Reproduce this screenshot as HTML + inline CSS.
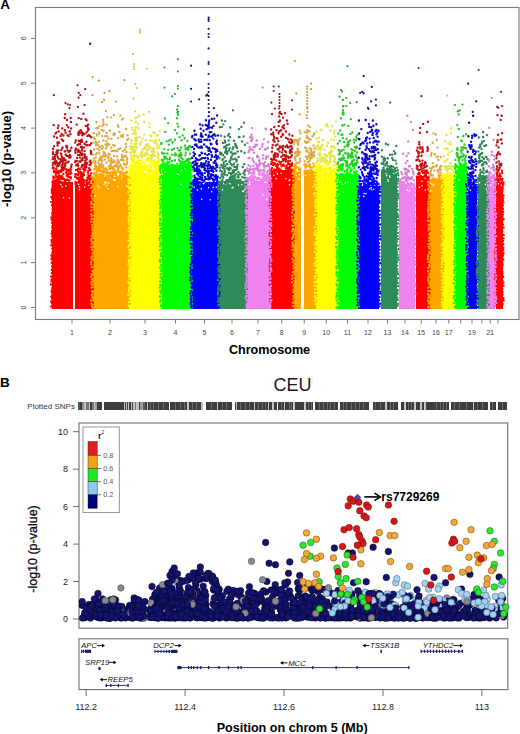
<!DOCTYPE html>
<html><head><meta charset="utf-8"><style>
html,body{margin:0;padding:0;background:#fff;width:520px;height:734px;overflow:hidden}
svg{display:block}
text{font-family:"Liberation Sans",sans-serif}
</style></head><body>
<svg width="520" height="734" viewBox="0 0 520 734">
<circle cx="90.2" cy="43.8" r="1.2" fill="#3a1830"/>
<g shape-rendering="crispEdges">
<rect x="52.00" y="181.5" width="20.50" height="127.1" fill="#ff0000"/>
<rect x="74.50" y="181.5" width="17.50" height="127.1" fill="#ff0000"/>
<rect x="92.00" y="177.0" width="37.25" height="131.6" fill="#ffa500"/>
<rect x="129.25" y="166.0" width="31.25" height="142.6" fill="#ffff00"/>
<rect x="160.50" y="165.0" width="30.75" height="143.6" fill="#00ff00"/>
<rect x="191.25" y="182.0" width="27.50" height="126.6" fill="#0000ff"/>
<rect x="218.75" y="181.0" width="27.50" height="127.6" fill="#2e8b57"/>
<rect x="246.25" y="177.0" width="24.25" height="131.6" fill="#ee82ee"/>
<rect x="270.50" y="170.0" width="22.50" height="138.6" fill="#ff0000"/>
<rect x="293.00" y="172.0" width="8.25" height="136.6" fill="#ffa500"/>
<rect x="303.75" y="172.0" width="11.75" height="136.6" fill="#ffa500"/>
<rect x="315.50" y="168.0" width="21.50" height="140.6" fill="#ffff00"/>
<rect x="337.00" y="174.0" width="21.00" height="134.6" fill="#00ff00"/>
<rect x="358.00" y="186.0" width="21.30" height="122.6" fill="#0000ff"/>
<rect x="380.80" y="170.0" width="16.60" height="138.6" fill="#2e8b57"/>
<rect x="398.90" y="184.0" width="15.60" height="124.6" fill="#ee82ee"/>
<rect x="415.70" y="176.0" width="13.05" height="132.6" fill="#ff0000"/>
<rect x="428.75" y="180.0" width="13.75" height="128.6" fill="#ffa500"/>
<rect x="442.50" y="175.0" width="12.20" height="133.6" fill="#ffff00"/>
<rect x="454.70" y="166.0" width="12.30" height="142.6" fill="#00ff00"/>
<rect x="467.00" y="184.0" width="10.00" height="124.6" fill="#0000ff"/>
<rect x="477.60" y="178.0" width="10.40" height="130.6" fill="#2e8b57"/>
<rect x="488.00" y="176.0" width="7.40" height="132.6" fill="#ee82ee"/>
<rect x="495.70" y="178.0" width="7.00" height="130.6" fill="#ff0000"/>
</g>
<path d="M69.0 183.9h0M60.7 184.5h0M69.4 198.1h0M55.8 183.3h0M57.3 183.6h0M62.0 186.7h0M57.9 182.3h0M60.8 184.6h0M63.5 197.6h0M65.8 185.9h0M88.9 185.3h0M79.5 189.8h0M90.2 182.9h0M84.7 187.1h0M78.9 184.6h0M77.7 183.4h0M79.5 186.9h0M85.6 183.4h0M121.8 178.2h0M104.0 184.3h0M98.9 187.7h0M110.1 178.1h0M106.0 182.1h0M108.5 183.4h0M98.1 185.8h0M105.8 183.0h0M115.2 180.5h0M106.6 185.5h0M126.3 185.5h0M113.0 179.5h0M95.1 196.0h0M117.8 186.6h0M104.7 182.5h0M127.5 186.7h0M114.2 179.6h0M108.1 188.8h0M134.8 167.6h0M152.7 167.3h0M154.1 169.6h0M146.0 171.2h0M146.5 172.2h0M147.8 168.8h0M151.9 168.3h0M151.1 174.0h0M152.9 168.6h0M152.8 185.7h0M143.5 168.4h0M145.6 180.9h0M134.1 166.8h0M144.2 172.1h0M152.9 169.1h0M165.3 171.9h0M181.7 170.5h0M169.4 166.1h0M178.8 174.5h0M169.3 167.0h0M167.9 166.3h0M180.9 184.2h0M184.6 168.0h0M181.6 166.2h0M185.6 167.8h0M161.6 170.8h0M165.5 167.4h0M163.2 168.8h0M177.5 174.0h0M162.6 174.6h0M194.2 187.2h0M216.3 187.1h0M201.3 188.9h0M203.4 183.8h0M204.5 182.9h0M209.5 183.7h0M201.7 199.2h0M211.8 191.8h0M208.6 187.8h0M210.2 199.8h0M197.3 190.1h0M199.9 184.3h0M213.2 187.4h0M233.1 187.3h0M244.4 190.0h0M225.6 183.9h0M222.5 189.7h0M238.5 185.1h0M229.2 183.4h0M232.2 188.0h0M242.6 191.2h0M241.9 184.7h0M230.5 183.7h0M244.6 182.8h0M223.8 183.4h0M243.3 191.4h0M262.8 194.7h0M265.9 182.2h0M260.2 177.9h0M255.8 179.3h0M261.1 178.1h0M259.3 180.2h0M258.2 180.4h0M249.5 184.4h0M265.1 182.4h0M249.8 182.4h0M266.6 199.4h0M264.1 178.0h0M276.4 170.9h0M289.4 184.8h0M277.4 173.9h0M278.1 171.1h0M289.8 179.9h0M276.4 172.3h0M285.8 178.8h0M281.1 173.3h0M276.3 178.8h0M289.2 180.6h0M273.8 175.3h0M296.1 175.5h0M298.7 178.9h0M299.5 174.7h0M299.3 179.5h0M310.0 174.6h0M312.9 186.8h0M313.7 193.8h0M305.4 175.3h0M309.1 174.3h0M332.8 168.9h0M319.0 187.4h0M333.5 173.6h0M328.6 171.7h0M324.8 169.6h0M327.2 170.4h0M318.9 179.0h0M327.7 179.2h0M322.2 173.1h0M321.9 177.7h0M343.4 192.5h0M341.0 175.6h0M345.2 183.0h0M339.9 182.6h0M348.3 182.8h0M344.4 175.0h0M339.9 181.2h0M347.6 182.0h0M341.8 176.4h0M342.0 184.3h0M363.8 196.4h0M371.4 189.8h0M371.4 187.8h0M359.1 189.0h0M370.1 187.8h0M369.5 188.8h0M364.1 193.5h0M366.0 193.6h0M373.5 189.2h0M359.6 196.1h0M393.7 173.5h0M388.3 181.3h0M386.1 173.8h0M396.1 172.6h0M389.7 176.0h0M386.7 175.8h0M388.0 179.7h0M389.9 177.3h0M407.6 186.5h0M412.3 186.3h0M404.0 185.9h0M409.4 190.7h0M404.9 185.4h0M408.0 186.9h0M407.4 190.1h0M419.3 187.2h0M425.3 190.3h0M425.3 177.9h0M422.1 185.8h0M425.6 178.1h0M422.0 181.2h0M433.0 185.6h0M430.5 190.9h0M434.8 181.8h0M430.9 184.5h0M433.9 184.3h0M431.0 183.0h0M447.8 178.4h0M451.1 185.9h0M453.7 179.1h0M447.8 184.5h0M447.8 176.9h0M448.4 177.6h0M465.6 168.2h0M462.6 168.0h0M456.9 168.9h0M465.4 168.5h0M458.9 179.9h0M465.8 173.9h0M470.2 185.7h0M468.6 188.7h0M472.2 185.8h0M472.2 185.2h0M470.4 190.3h0M479.3 182.6h0M479.7 182.6h0M485.5 184.4h0M482.5 179.7h0M486.4 189.1h0M491.0 185.3h0M492.6 179.7h0M492.6 182.5h0M501.4 185.4h0M498.5 183.8h0M500.5 180.9h0" stroke="#fff" stroke-width="1.6" stroke-linecap="round" fill="none"/>
<path d="M52.4 182.1h0M52.5 185.4h0M52.1 188.4h0M51.8 190.3h0M51.9 192.2h0M52.5 194.1h0M51.4 196.9h0M52.3 198.9h0M51.2 202.1h0M52.0 205.2h0M52.5 209.1h0M52.2 212.8h0M52.4 214.9h0M51.4 217.4h0M51.7 219.6h0M52.0 222.8h0M52.5 225.8h0M52.3 227.8h0M52.0 231.0h0M51.7 233.5h0M52.2 236.3h0M51.6 239.9h0M51.7 242.2h0M51.3 245.2h0M52.2 248.6h0M52.4 252.5h0M51.5 255.3h0M51.9 257.4h0M51.6 259.3h0M51.7 262.8h0M52.1 266.5h0M51.7 269.8h0M51.9 272.9h0M51.2 276.5h0M51.6 279.4h0M51.5 281.3h0M51.1 284.5h0M52.2 288.1h0M51.6 290.8h0M51.9 292.6h0M52.4 294.8h0M51.4 296.7h0M52.2 298.8h0M51.3 301.5h0M51.9 303.5h0M51.3 306.5h0M62.6 170.2h0M53.2 182.3h0M58.0 172.4h0M59.6 171.1h0M57.0 176.7h0M61.8 176.2h0M67.8 169.6h0M55.1 177.4h0M63.2 179.0h0M57.5 170.7h0M56.1 183.6h0M68.0 176.4h0M63.3 170.4h0M67.7 179.8h0M63.4 174.1h0M54.0 172.0h0M68.7 176.9h0M59.1 172.7h0M54.6 170.6h0M66.1 180.5h0M69.1 180.8h0M70.5 168.8h0M57.2 179.4h0M55.7 181.7h0M56.5 171.7h0M62.3 177.7h0M59.3 182.8h0M57.4 183.2h0M70.6 178.4h0M59.3 180.9h0M55.1 180.9h0M66.9 173.4h0M55.8 180.3h0M58.0 172.4h0M52.7 168.0h0M53.4 182.6h0M58.5 172.9h0M65.0 181.8h0M66.0 172.4h0M53.2 176.6h0M59.6 178.1h0M65.3 180.8h0M66.8 173.6h0M54.0 170.6h0M66.7 175.7h0M62.1 168.9h0M65.0 180.3h0M55.4 172.3h0M66.9 171.0h0M63.6 183.3h0M53.8 168.0h0M65.6 168.9h0M61.6 178.9h0M69.8 174.2h0M61.3 171.7h0M63.8 178.6h0M53.1 183.6h0M58.4 177.5h0M68.8 183.7h0M64.0 168.6h0M60.9 170.3h0M53.5 178.3h0M68.7 170.7h0M70.7 170.0h0M56.3 168.7h0M58.1 181.7h0M70.5 177.2h0M60.2 176.1h0M55.7 174.7h0M61.3 177.9h0M56.3 180.7h0M59.2 178.9h0M57.2 172.5h0M62.7 169.2h0M59.1 180.5h0M57.8 173.0h0M53.0 182.1h0M63.9 183.7h0M57.4 179.4h0M63.2 182.4h0M67.7 174.5h0M58.5 178.1h0M66.1 179.6h0M57.1 173.0h0M70.5 171.4h0M62.3 176.7h0M68.4 173.5h0M62.2 177.4h0M55.3 181.7h0M59.0 175.4h0M55.9 183.6h0M71.0 177.8h0M71.2 173.2h0M60.9 181.6h0M70.3 173.5h0M53.3 180.5h0M70.4 169.5h0M92.8 182.0h0M91.8 185.2h0M91.9 188.6h0M91.4 191.0h0M92.8 194.4h0M92.8 197.6h0M91.8 199.5h0M92.8 202.3h0M92.0 206.2h0M92.0 208.6h0M92.8 211.5h0M92.6 213.7h0M92.6 217.1h0M92.3 220.6h0M91.9 223.1h0M92.6 225.7h0M91.7 227.7h0M91.8 231.2h0M91.5 233.1h0M91.9 236.1h0M92.7 240.1h0M91.8 244.0h0M91.5 246.0h0M92.5 248.9h0M91.8 251.7h0M92.3 254.4h0M92.5 257.7h0M92.4 261.4h0M92.7 263.4h0M92.3 265.9h0M92.5 268.5h0M91.8 270.7h0M91.6 273.1h0M92.3 276.8h0M92.0 279.3h0M92.2 283.3h0M92.6 285.6h0M92.9 288.9h0M92.1 290.9h0M92.7 294.5h0M91.5 298.3h0M91.6 300.8h0M92.9 303.0h0M92.8 306.1h0M90.9 173.4h0M88.5 174.9h0M87.9 172.5h0M78.1 171.4h0M81.4 179.8h0M87.4 182.4h0M88.8 177.4h0M85.3 170.3h0M83.1 175.4h0M76.8 178.0h0M82.1 180.6h0M83.4 182.0h0M83.3 169.1h0M90.6 176.9h0M87.4 177.8h0M88.4 176.8h0M80.3 182.2h0M78.1 174.9h0M82.3 177.4h0M87.2 182.1h0M88.5 170.7h0M80.2 183.7h0M75.7 176.8h0M75.5 183.7h0M80.9 180.4h0M80.9 176.1h0M82.8 179.3h0M77.5 178.7h0M81.7 173.7h0M84.3 168.2h0M89.8 180.6h0M79.0 181.3h0M87.8 183.2h0M77.4 174.4h0M80.1 169.4h0M86.8 183.5h0M78.8 179.2h0M78.9 182.1h0M83.6 172.7h0M79.3 172.8h0M84.4 170.5h0M77.5 182.6h0M80.7 179.1h0M75.6 181.9h0M90.5 176.0h0M78.5 177.8h0M79.8 179.5h0M75.4 174.2h0M81.1 172.1h0M83.9 175.0h0M89.2 178.9h0M88.5 175.4h0M75.1 176.5h0M83.2 180.1h0M85.5 180.6h0M85.3 167.6h0M89.6 177.5h0M89.6 182.0h0M78.5 168.5h0M80.4 177.0h0M77.6 169.5h0M87.0 180.1h0M90.8 178.7h0M76.8 174.1h0M81.4 182.7h0M82.0 175.3h0M90.3 169.8h0M83.6 179.9h0M87.5 177.9h0M76.0 170.0h0M81.6 183.3h0M79.4 173.4h0M78.6 178.1h0M89.0 168.1h0M81.2 175.0h0M82.0 177.0h0M79.7 172.5h0M270.0 171.5h0M269.7 174.1h0M270.3 177.6h0M270.6 180.5h0M269.8 182.6h0M271.0 185.7h0M269.8 189.6h0M270.0 191.4h0M270.3 193.8h0M270.6 197.4h0M270.1 200.3h0M270.2 202.5h0M269.6 205.2h0M270.0 207.5h0M270.7 209.4h0M270.9 211.4h0M270.8 214.4h0M271.0 217.9h0M269.8 221.1h0M270.8 223.2h0M270.4 226.7h0M270.6 230.5h0M269.7 233.2h0M269.7 235.7h0M270.8 239.5h0M269.7 242.5h0M269.8 244.6h0M270.0 248.1h0M271.0 251.2h0M270.9 255.1h0M270.0 258.6h0M270.1 261.1h0M270.0 263.8h0M269.7 265.7h0M269.9 268.4h0M269.9 271.2h0M270.3 273.7h0M270.4 275.5h0M269.8 277.5h0M270.5 280.8h0M269.7 284.7h0M271.0 288.6h0M270.0 292.0h0M271.1 295.1h0M270.4 298.9h0M269.9 302.0h0M271.1 304.5h0M292.5 170.5h0M293.9 172.6h0M292.7 176.1h0M293.7 178.2h0M293.3 181.5h0M293.0 183.5h0M292.4 187.4h0M292.5 190.1h0M292.6 194.1h0M293.7 198.0h0M292.5 201.5h0M293.1 204.8h0M292.6 207.7h0M293.6 210.6h0M293.7 212.7h0M292.8 215.4h0M293.1 217.7h0M293.3 221.0h0M293.2 224.7h0M293.9 227.6h0M292.4 229.9h0M292.9 232.4h0M293.0 234.5h0M293.8 236.4h0M293.7 239.2h0M293.5 242.6h0M292.9 246.1h0M292.7 249.5h0M293.3 252.5h0M292.7 256.0h0M293.6 258.5h0M293.9 262.1h0M292.7 264.2h0M293.5 266.2h0M293.4 269.6h0M293.2 273.2h0M293.8 276.2h0M293.4 279.4h0M293.1 282.5h0M293.3 286.0h0M293.0 288.1h0M293.0 290.8h0M292.9 293.8h0M293.0 296.5h0M293.9 299.1h0M292.4 301.1h0M293.0 304.5h0M293.3 307.3h0M290.7 166.5h0M276.9 168.5h0M290.0 164.2h0M282.3 165.1h0M280.3 170.0h0M276.6 166.2h0M278.1 165.1h0M277.3 163.9h0M273.5 170.8h0M274.6 163.1h0M280.3 163.5h0M278.4 171.1h0M292.0 165.5h0M289.2 170.0h0M290.0 165.9h0M273.2 165.1h0M285.6 161.5h0M276.9 169.9h0M292.1 171.2h0M290.9 166.6h0M274.8 163.7h0M277.9 168.4h0M288.0 161.3h0M277.9 168.7h0M273.6 162.9h0M289.9 165.4h0M279.0 161.6h0M288.4 163.6h0M277.6 170.0h0M290.9 171.2h0M271.3 164.0h0M287.7 168.8h0M288.1 162.9h0M291.6 172.1h0M288.6 163.9h0M272.1 167.9h0M278.0 164.7h0M280.6 169.7h0M288.7 170.8h0M275.8 165.5h0M271.6 161.8h0M281.0 161.9h0M284.2 165.9h0M281.5 166.3h0M292.1 169.6h0M290.5 165.0h0M277.6 167.4h0M288.7 171.1h0M276.5 171.5h0M291.3 166.1h0M289.8 166.9h0M288.6 171.9h0M283.5 164.4h0M274.2 169.7h0M289.4 171.8h0M271.2 169.3h0M286.3 167.6h0M289.9 168.8h0M278.9 171.8h0M280.3 163.7h0M275.6 170.1h0M285.9 168.5h0M292.1 163.3h0M288.1 168.0h0M279.0 168.8h0M286.8 165.4h0M271.1 170.0h0M428.8 177.4h0M429.1 180.4h0M428.2 182.3h0M429.5 185.3h0M428.8 188.6h0M428.3 191.0h0M429.3 194.2h0M428.3 196.9h0M429.2 199.3h0M428.8 202.8h0M428.7 206.5h0M428.5 208.4h0M429.2 212.1h0M428.6 214.1h0M428.9 216.8h0M429.5 218.7h0M428.5 221.6h0M429.0 223.5h0M429.2 227.3h0M429.5 231.0h0M428.2 234.3h0M429.0 236.8h0M428.5 239.5h0M429.4 241.4h0M428.6 244.7h0M429.5 247.5h0M429.1 249.7h0M429.5 252.0h0M429.6 255.5h0M428.9 258.2h0M428.7 260.7h0M429.6 264.6h0M429.5 268.6h0M429.1 271.4h0M428.8 275.2h0M429.3 279.1h0M428.7 281.5h0M428.4 284.8h0M428.4 287.2h0M429.5 289.2h0M429.4 293.2h0M429.3 296.1h0M428.8 299.4h0M428.3 302.4h0M428.7 304.7h0M429.1 307.3h0M423.0 172.9h0M426.9 171.8h0M418.1 174.0h0M425.8 174.2h0M421.9 171.3h0M418.8 172.8h0M424.5 173.1h0M419.0 174.5h0M425.6 172.4h0M420.8 176.0h0M425.9 175.8h0M424.9 170.7h0M419.8 173.1h0M424.2 170.7h0M427.9 172.7h0M424.5 171.6h0M426.5 172.8h0M416.9 176.6h0M425.6 175.3h0M424.7 171.5h0M419.5 173.4h0M426.7 170.4h0M424.3 175.9h0M427.1 178.2h0M425.8 176.7h0M425.6 175.4h0M422.6 177.8h0M495.3 178.2h0M495.9 180.1h0M496.3 183.2h0M495.1 185.8h0M495.7 189.2h0M495.2 191.3h0M496.2 195.0h0M495.5 197.8h0M496.0 201.1h0M495.4 204.7h0M494.9 208.3h0M495.3 211.6h0M495.9 214.0h0M495.1 216.6h0M495.9 219.8h0M495.5 223.5h0M495.3 227.5h0M495.8 230.9h0M495.6 234.9h0M495.7 238.2h0M496.0 241.1h0M495.7 243.7h0M496.1 247.2h0M495.3 249.4h0M495.0 252.2h0M495.6 254.1h0M495.2 257.7h0M495.5 260.3h0M496.3 263.0h0M496.0 264.9h0M496.0 268.7h0M495.5 271.1h0M495.3 274.4h0M495.8 276.9h0M495.1 278.7h0M495.9 281.4h0M495.6 283.6h0M495.8 285.7h0M496.0 287.8h0M495.8 290.7h0M495.0 292.8h0M495.7 294.7h0M496.2 297.2h0M495.6 299.6h0M495.9 302.9h0M494.9 305.6h0M502.4 178.9h0M503.5 182.4h0M503.4 184.7h0M502.8 187.4h0M502.5 189.2h0M502.4 191.6h0M503.5 195.2h0M503.3 197.7h0M503.0 200.1h0M503.5 202.4h0M503.0 205.3h0M502.9 208.8h0M503.2 211.7h0M503.0 214.6h0M502.3 217.0h0M503.6 219.3h0M502.1 222.4h0M503.0 224.6h0M503.6 227.6h0M502.2 231.3h0M503.6 234.9h0M503.5 238.4h0M503.0 241.0h0M503.3 244.3h0M503.3 247.7h0M503.3 250.2h0M503.5 253.3h0M503.0 255.8h0M503.2 259.5h0M502.3 262.9h0M502.6 265.0h0M502.1 268.2h0M502.3 271.5h0M502.5 273.7h0M503.2 276.7h0M502.4 280.6h0M503.4 282.6h0M503.5 285.7h0M502.3 289.1h0M502.4 291.7h0M502.5 294.5h0M503.4 298.2h0M503.6 300.4h0M502.7 304.3h0M497.1 172.5h0M497.6 170.2h0M499.6 173.5h0M500.8 176.3h0M497.2 175.3h0M499.8 175.1h0M497.2 174.8h0M496.5 173.2h0M500.1 179.7h0M501.9 170.7h0M498.1 170.9h0M496.7 173.3h0M497.6 170.8h0M500.5 179.0h0M496.8 178.1h0M497.3 176.5h0M496.8 178.2h0M500.4 178.8h0M500.5 179.0h0M502.1 173.1h0M499.0 176.4h0" stroke="#ff0000" stroke-width="2.4" stroke-linecap="round" fill="none"/>
<path d="M91.4 177.1h0M91.4 180.9h0M91.4 183.0h0M92.6 186.2h0M91.2 188.0h0M92.2 191.3h0M92.4 193.3h0M91.4 195.6h0M92.4 198.2h0M91.4 202.0h0M91.3 204.1h0M91.4 207.3h0M91.3 210.5h0M91.3 214.1h0M91.6 216.3h0M91.5 219.3h0M91.3 222.0h0M92.2 225.1h0M92.4 227.4h0M92.5 230.3h0M92.4 233.1h0M91.9 236.0h0M91.3 239.0h0M91.3 240.8h0M91.8 243.6h0M91.3 246.9h0M92.0 249.5h0M92.5 253.4h0M91.6 256.6h0M91.7 258.5h0M91.2 261.8h0M91.1 264.3h0M91.9 267.2h0M92.5 271.0h0M91.7 274.4h0M91.3 276.9h0M91.9 279.5h0M91.4 282.5h0M91.9 284.7h0M91.8 287.5h0M92.2 291.1h0M92.0 294.7h0M92.2 297.6h0M91.1 300.5h0M91.4 303.8h0M92.1 306.3h0M129.6 178.2h0M128.7 181.7h0M130.0 185.1h0M128.7 188.1h0M128.7 190.5h0M130.0 192.8h0M129.6 195.9h0M130.0 199.4h0M129.6 202.6h0M129.7 205.8h0M129.7 208.9h0M129.7 211.1h0M129.8 214.0h0M128.9 216.0h0M129.8 217.9h0M129.6 221.7h0M129.9 224.3h0M129.5 227.8h0M129.1 230.2h0M129.1 232.9h0M129.6 235.7h0M128.7 239.5h0M128.7 242.6h0M129.9 244.6h0M130.0 247.7h0M128.7 250.5h0M129.5 253.1h0M130.1 257.0h0M129.3 259.8h0M129.6 261.9h0M128.9 264.1h0M128.7 266.0h0M128.8 269.3h0M128.8 273.2h0M128.8 276.9h0M129.7 278.7h0M129.8 281.1h0M128.7 283.3h0M129.7 286.8h0M129.7 290.5h0M129.6 292.5h0M129.3 295.8h0M129.0 299.7h0M129.7 303.6h0M128.7 305.4h0M96.4 168.0h0M101.9 175.4h0M110.0 174.9h0M101.2 174.8h0M117.0 178.8h0M118.5 171.2h0M124.6 175.2h0M108.7 176.1h0M115.2 174.5h0M100.6 177.4h0M107.4 172.5h0M127.9 177.5h0M102.9 170.5h0M99.9 167.7h0M125.9 176.8h0M127.9 178.8h0M121.7 167.7h0M97.7 179.2h0M125.5 173.4h0M113.2 174.4h0M118.3 171.1h0M95.5 176.3h0M102.5 172.5h0M99.9 177.5h0M118.6 177.1h0M121.8 167.9h0M105.8 172.4h0M119.7 177.1h0M112.0 178.8h0M127.5 171.8h0M99.2 176.5h0M99.6 178.8h0M94.2 174.6h0M102.7 175.4h0M107.2 173.3h0M101.3 167.4h0M123.2 178.0h0M111.7 177.6h0M93.4 173.1h0M111.8 175.5h0M97.1 175.7h0M103.0 171.1h0M103.8 171.9h0M123.7 172.9h0M98.3 177.3h0M96.5 171.9h0M98.2 167.8h0M125.6 176.0h0M124.0 179.1h0M108.6 173.0h0M103.6 175.1h0M127.2 172.5h0M93.0 177.6h0M110.1 168.6h0M122.0 173.7h0M98.2 169.7h0M99.4 174.1h0M115.5 177.9h0M117.5 179.1h0M116.7 172.5h0M97.0 174.3h0M120.0 175.5h0M96.2 173.9h0M94.8 178.8h0M98.7 170.6h0M106.5 176.8h0M115.0 171.4h0M126.8 171.7h0M121.2 171.5h0M112.8 176.2h0M111.8 167.8h0M107.1 176.5h0M105.3 168.5h0M99.5 170.7h0M101.2 178.2h0M95.9 169.3h0M122.7 175.2h0M98.3 167.1h0M127.2 172.4h0M105.9 168.4h0M114.5 172.7h0M124.0 175.8h0M113.1 167.1h0M106.7 175.4h0M116.5 175.7h0M112.9 168.0h0M110.6 172.8h0M100.8 175.0h0M97.4 171.1h0M117.8 169.8h0M123.1 169.1h0M115.3 173.0h0M118.3 177.7h0M94.0 172.9h0M99.7 170.0h0M106.3 177.5h0M118.4 168.3h0M105.2 179.2h0M102.9 178.0h0M94.3 169.2h0M102.7 176.5h0M108.9 177.5h0M120.1 177.7h0M112.2 172.0h0M107.4 170.2h0M103.8 175.4h0M101.2 171.2h0M126.3 167.5h0M112.9 169.0h0M120.0 172.8h0M122.6 175.6h0M103.0 167.5h0M100.0 177.3h0M102.7 172.8h0M96.7 167.9h0M109.5 168.6h0M98.7 177.2h0M119.7 176.3h0M112.9 176.3h0M110.2 168.8h0M101.7 171.1h0M97.6 178.5h0M104.4 172.3h0M122.4 167.7h0M110.6 176.1h0M127.6 176.5h0M98.5 169.4h0M105.1 170.9h0M114.6 169.6h0M103.4 168.2h0M124.5 178.5h0M108.7 176.5h0M106.9 174.0h0M112.6 172.8h0M113.2 175.3h0M120.5 174.1h0M120.6 177.2h0M100.3 167.9h0M293.0 172.1h0M292.8 173.9h0M293.3 177.1h0M293.0 180.8h0M293.1 184.7h0M292.8 187.9h0M292.4 190.3h0M293.2 192.1h0M292.3 194.6h0M293.5 197.5h0M292.7 199.9h0M293.4 203.5h0M293.0 207.0h0M293.0 210.0h0M292.1 212.7h0M292.2 216.6h0M292.5 220.0h0M293.5 222.1h0M292.6 225.7h0M293.1 228.9h0M292.2 231.3h0M293.6 234.3h0M293.1 236.8h0M292.1 238.8h0M292.4 242.6h0M293.0 244.4h0M292.5 246.4h0M292.4 250.0h0M293.4 253.5h0M293.5 255.4h0M292.4 259.0h0M293.2 262.0h0M293.4 265.6h0M293.6 268.2h0M293.0 272.1h0M292.4 275.6h0M292.1 278.7h0M292.2 282.2h0M293.5 286.1h0M293.3 289.6h0M293.1 292.1h0M293.5 296.1h0M293.4 298.8h0M292.9 302.8h0M292.8 306.1h0M300.2 169.4h0M294.0 166.9h0M294.5 171.8h0M294.5 173.8h0M297.1 174.1h0M295.4 164.7h0M295.0 174.2h0M295.4 168.7h0M293.6 169.3h0M299.9 170.9h0M294.4 166.4h0M296.3 172.3h0M299.0 169.4h0M296.0 168.0h0M295.2 164.7h0M294.9 171.3h0M294.8 168.6h0M294.6 172.6h0M294.2 169.2h0M293.8 172.4h0M296.7 166.9h0M299.1 167.9h0M296.1 173.5h0M315.7 172.9h0M315.1 175.4h0M315.0 178.3h0M315.6 180.5h0M315.7 183.0h0M315.5 186.0h0M314.9 188.1h0M316.4 191.1h0M315.4 193.5h0M316.0 196.0h0M316.1 198.9h0M315.1 200.7h0M315.5 203.0h0M315.5 205.7h0M315.6 209.6h0M316.3 212.7h0M315.8 215.9h0M315.4 219.5h0M316.3 221.4h0M315.8 224.3h0M316.0 226.3h0M315.9 228.9h0M316.3 231.3h0M315.3 234.0h0M315.2 237.7h0M315.6 240.1h0M315.1 244.1h0M316.1 246.3h0M315.5 248.3h0M316.0 251.8h0M315.1 255.4h0M315.4 259.1h0M315.6 262.7h0M315.6 266.5h0M315.1 268.8h0M315.0 271.7h0M316.2 273.9h0M316.2 277.0h0M315.6 279.1h0M315.1 281.9h0M316.3 284.3h0M315.7 287.7h0M316.2 290.8h0M315.8 294.7h0M316.2 296.6h0M315.3 298.8h0M315.7 300.9h0M315.6 304.0h0M315.1 306.8h0M310.7 171.7h0M306.6 170.6h0M313.4 174.0h0M310.8 174.1h0M305.6 167.5h0M311.2 172.2h0M305.5 166.5h0M311.9 173.7h0M309.7 166.3h0M307.4 166.0h0M309.6 165.0h0M314.2 166.3h0M311.6 170.0h0M305.4 167.7h0M307.1 173.4h0M309.8 167.5h0M304.4 164.8h0M305.3 173.4h0M304.8 170.7h0M312.9 172.1h0M308.0 171.0h0M304.4 172.8h0M313.6 171.6h0M310.4 170.2h0M307.9 170.9h0M309.2 173.2h0M311.9 167.4h0M311.3 172.6h0M307.6 171.7h0M305.7 164.3h0M310.2 173.8h0M308.1 173.4h0M428.1 181.8h0M428.4 184.4h0M429.3 186.3h0M428.4 188.9h0M429.3 191.0h0M429.1 194.7h0M429.2 196.6h0M428.9 198.6h0M428.4 201.7h0M428.6 204.1h0M428.5 206.6h0M428.4 208.7h0M428.0 210.5h0M428.5 212.7h0M428.7 214.9h0M428.4 217.3h0M428.1 220.8h0M428.7 224.8h0M428.8 227.8h0M428.6 230.2h0M429.3 234.2h0M428.9 237.6h0M429.0 240.7h0M428.6 244.1h0M428.7 246.6h0M429.2 248.4h0M429.2 252.2h0M428.3 254.9h0M428.0 256.7h0M427.9 259.0h0M428.5 261.7h0M429.2 264.9h0M428.2 267.8h0M428.2 271.3h0M429.2 274.6h0M428.6 277.3h0M428.2 279.2h0M428.5 281.2h0M429.1 283.6h0M428.4 287.5h0M428.4 290.9h0M428.0 294.0h0M428.8 295.9h0M428.5 298.2h0M428.0 300.9h0M428.9 303.2h0M428.3 307.0h0M443.0 180.7h0M443.0 182.9h0M443.1 185.2h0M443.3 187.1h0M441.9 190.8h0M443.3 193.0h0M442.3 196.6h0M442.8 200.1h0M442.9 202.5h0M442.1 205.2h0M443.0 208.9h0M442.5 211.2h0M442.5 214.5h0M442.7 216.9h0M442.0 220.8h0M442.6 223.1h0M443.4 227.1h0M442.9 228.9h0M442.2 231.0h0M442.6 233.1h0M443.3 237.1h0M443.2 239.7h0M442.0 243.0h0M442.3 246.8h0M442.1 250.8h0M442.7 254.5h0M442.2 257.5h0M443.0 260.3h0M443.4 263.4h0M443.3 266.3h0M443.0 268.4h0M443.2 271.6h0M442.6 274.1h0M442.3 277.7h0M443.2 280.3h0M442.6 283.5h0M443.0 285.4h0M442.3 288.1h0M442.1 290.7h0M443.1 294.4h0M442.9 298.3h0M442.5 300.5h0M441.9 304.4h0M442.1 307.0h0M439.5 180.3h0M439.1 177.3h0M437.1 181.5h0M429.9 181.9h0M434.2 179.0h0M438.8 180.5h0M431.9 179.3h0M438.7 178.8h0M434.1 181.7h0M440.0 177.9h0M441.5 178.9h0M440.9 177.9h0M436.3 179.5h0M441.2 181.7h0M433.2 178.5h0M439.9 179.6h0M439.0 179.5h0" stroke="#ffa500" stroke-width="2.4" stroke-linecap="round" fill="none"/>
<path d="M129.2 167.4h0M128.9 171.2h0M129.0 174.9h0M128.5 178.7h0M128.7 180.9h0M128.7 183.4h0M128.6 186.7h0M129.3 188.8h0M128.4 192.2h0M129.8 195.6h0M129.7 198.7h0M128.6 201.7h0M128.5 203.8h0M129.5 207.1h0M129.2 209.3h0M129.0 212.9h0M129.8 215.0h0M128.6 217.0h0M129.0 219.2h0M128.8 221.7h0M129.6 224.3h0M129.0 228.0h0M128.6 231.4h0M129.8 235.2h0M129.6 237.8h0M128.5 240.7h0M129.8 244.3h0M128.6 246.5h0M129.3 249.8h0M129.6 252.6h0M129.3 256.3h0M128.9 260.0h0M129.4 262.0h0M128.5 264.2h0M129.8 267.3h0M129.3 269.5h0M129.0 272.3h0M129.3 275.0h0M129.0 276.8h0M129.8 279.3h0M128.4 282.1h0M129.6 284.0h0M129.4 287.3h0M129.1 289.7h0M129.0 292.1h0M128.4 295.1h0M129.8 299.0h0M128.7 302.1h0M128.7 305.8h0M160.4 167.3h0M161.1 169.7h0M161.3 173.4h0M160.4 176.7h0M161.0 180.2h0M160.9 183.1h0M160.7 185.7h0M160.0 188.4h0M160.4 190.9h0M160.6 194.9h0M160.3 197.5h0M160.4 199.8h0M159.9 201.9h0M160.6 205.6h0M160.8 208.4h0M160.2 210.9h0M160.4 212.8h0M161.0 215.3h0M161.3 218.3h0M161.3 220.9h0M160.0 223.9h0M160.8 226.1h0M160.4 230.1h0M160.5 233.6h0M160.0 237.3h0M161.2 240.2h0M160.3 242.6h0M160.1 244.4h0M161.0 246.8h0M160.5 249.1h0M160.8 251.4h0M160.9 255.1h0M161.0 257.3h0M160.8 261.2h0M161.1 263.2h0M160.4 266.9h0M160.2 269.0h0M161.2 272.0h0M161.3 275.2h0M160.4 277.5h0M160.9 280.9h0M160.9 283.6h0M160.0 286.1h0M160.0 288.9h0M160.4 292.0h0M160.8 294.9h0M160.6 297.3h0M161.3 299.1h0M161.4 302.2h0M160.8 304.1h0M160.4 307.5h0M138.1 162.8h0M137.8 166.2h0M140.7 168.1h0M139.4 160.2h0M159.1 159.4h0M141.4 160.4h0M157.7 162.7h0M137.1 161.4h0M157.2 167.4h0M150.7 160.6h0M144.2 163.0h0M154.3 162.0h0M155.9 167.5h0M154.4 165.2h0M134.5 159.1h0M143.5 166.3h0M152.7 163.8h0M150.3 159.3h0M145.5 160.2h0M141.0 163.0h0M141.3 168.0h0M131.6 163.5h0M151.4 160.8h0M139.6 164.2h0M154.9 166.0h0M138.7 158.8h0M157.6 164.2h0M139.7 167.2h0M133.4 161.2h0M145.4 168.1h0M159.6 161.2h0M131.4 159.5h0M155.6 163.1h0M135.9 166.4h0M153.9 163.1h0M131.4 159.2h0M156.2 167.2h0M147.8 160.4h0M138.7 164.0h0M155.0 164.6h0M157.4 163.9h0M132.9 165.5h0M149.6 160.9h0M134.5 166.4h0M150.8 167.4h0M155.0 160.2h0M155.1 164.5h0M141.6 167.7h0M150.3 165.9h0M154.7 165.2h0M138.6 160.5h0M157.8 166.4h0M146.1 165.5h0M134.0 159.3h0M143.4 162.3h0M152.2 163.7h0M153.5 160.2h0M143.7 167.5h0M145.3 165.2h0M149.3 164.7h0M134.8 162.4h0M158.1 160.6h0M134.3 165.1h0M156.3 166.1h0M136.0 163.5h0M156.6 168.0h0M150.6 163.1h0M152.4 163.7h0M137.8 167.4h0M147.2 158.9h0M131.7 161.4h0M142.1 166.9h0M134.1 162.0h0M140.3 166.0h0M152.3 164.3h0M156.0 162.2h0M158.3 166.0h0M142.1 166.9h0M130.3 165.7h0M139.9 164.7h0M132.5 159.6h0M314.8 168.3h0M314.9 170.7h0M315.2 174.0h0M315.7 177.4h0M315.3 181.0h0M314.8 184.5h0M315.5 186.9h0M316.0 189.5h0M315.1 193.2h0M315.3 196.1h0M316.0 199.8h0M315.1 202.4h0M315.4 205.4h0M315.8 207.7h0M315.6 211.0h0M314.7 214.9h0M315.7 218.8h0M315.9 221.7h0M316.0 224.3h0M314.7 227.2h0M315.6 230.7h0M314.7 233.1h0M314.8 235.0h0M316.0 238.7h0M315.1 242.6h0M315.5 245.3h0M315.3 248.4h0M314.8 252.1h0M316.1 254.6h0M315.1 258.1h0M316.0 261.4h0M314.8 263.3h0M315.4 265.9h0M315.8 269.9h0M316.0 273.1h0M315.0 276.1h0M315.0 278.3h0M314.9 282.2h0M314.7 285.7h0M315.3 289.1h0M314.9 292.7h0M315.1 295.9h0M315.6 298.1h0M314.8 300.6h0M315.7 304.1h0M336.5 168.1h0M336.5 170.6h0M336.9 174.5h0M337.7 177.2h0M337.3 180.2h0M337.1 182.9h0M336.8 186.8h0M337.1 189.8h0M336.6 191.9h0M337.6 194.8h0M336.5 197.6h0M336.6 201.4h0M336.5 205.2h0M336.6 208.4h0M337.0 210.8h0M337.1 214.2h0M337.0 216.9h0M336.8 219.9h0M336.7 223.8h0M337.2 225.9h0M337.5 228.5h0M337.4 230.3h0M337.8 232.9h0M337.0 235.4h0M337.2 237.9h0M337.4 240.3h0M337.5 243.0h0M337.1 245.5h0M337.5 248.5h0M337.0 251.7h0M336.6 253.7h0M336.7 255.8h0M337.4 258.0h0M337.8 260.6h0M336.8 262.9h0M336.6 265.1h0M337.3 268.4h0M337.6 270.8h0M337.0 274.0h0M337.4 277.2h0M336.5 280.0h0M337.8 282.6h0M337.4 285.2h0M337.6 287.2h0M337.0 290.9h0M337.2 293.5h0M336.7 295.9h0M337.4 297.9h0M337.8 300.9h0M337.7 304.8h0M328.3 162.7h0M316.4 162.9h0M320.7 168.4h0M318.1 168.9h0M333.5 165.5h0M317.4 166.9h0M326.6 169.3h0M319.6 165.7h0M329.3 168.2h0M319.8 167.7h0M324.6 162.9h0M319.4 164.7h0M335.4 169.3h0M335.5 165.0h0M316.2 168.7h0M323.4 168.7h0M326.8 166.1h0M322.6 165.9h0M328.9 164.3h0M318.9 165.0h0M331.4 169.9h0M331.3 168.7h0M326.5 163.7h0M328.1 162.7h0M320.3 167.0h0M328.9 167.6h0M326.4 165.0h0M316.2 163.3h0M335.8 164.2h0M325.6 168.5h0M329.9 167.5h0M316.2 166.6h0M318.7 164.4h0M318.8 166.2h0M325.7 169.9h0M441.7 175.1h0M441.7 178.3h0M443.0 181.7h0M442.5 185.1h0M441.8 187.4h0M442.6 190.6h0M442.1 192.6h0M442.7 194.5h0M442.8 196.4h0M442.7 199.9h0M442.7 203.8h0M442.0 207.4h0M442.2 210.6h0M441.9 212.7h0M442.3 216.5h0M443.0 218.8h0M441.6 221.1h0M442.7 223.6h0M443.0 226.6h0M441.9 230.1h0M443.1 232.6h0M441.9 236.4h0M442.8 239.8h0M442.1 243.7h0M441.6 245.6h0M442.8 249.0h0M442.2 252.7h0M443.1 255.9h0M441.9 258.2h0M442.8 260.0h0M442.2 262.0h0M441.9 264.1h0M441.9 266.9h0M441.6 270.7h0M442.6 272.9h0M442.6 276.4h0M442.6 280.3h0M442.7 283.5h0M442.7 286.9h0M442.0 289.6h0M442.9 293.2h0M442.8 295.4h0M442.1 298.9h0M441.9 302.3h0M442.4 304.6h0M442.6 306.4h0M455.3 175.5h0M454.8 177.8h0M454.4 181.1h0M454.7 184.4h0M454.3 186.3h0M455.3 189.5h0M455.4 192.8h0M455.3 196.1h0M455.0 199.7h0M454.3 202.7h0M454.2 205.0h0M454.7 207.0h0M454.9 209.5h0M454.5 213.1h0M455.4 216.9h0M455.0 219.1h0M454.2 221.3h0M454.4 223.6h0M454.1 225.4h0M455.4 229.0h0M454.2 232.7h0M455.4 234.6h0M454.6 237.2h0M454.9 240.5h0M454.3 243.0h0M455.2 245.1h0M454.2 248.9h0M454.9 251.2h0M454.8 253.6h0M454.5 256.5h0M454.7 258.5h0M454.3 262.1h0M455.3 265.1h0M454.6 268.1h0M455.3 272.0h0M454.5 276.0h0M454.8 278.8h0M455.0 282.5h0M454.9 285.5h0M454.6 289.3h0M454.4 291.4h0M454.2 293.7h0M454.9 297.6h0M454.8 301.2h0M454.4 304.1h0M451.0 173.6h0M447.2 174.1h0M451.9 175.7h0M449.7 173.4h0M453.5 175.0h0M444.9 174.5h0M443.5 174.2h0M448.7 176.5h0M443.3 176.8h0M446.7 174.8h0M448.2 175.3h0M448.0 176.2h0M448.3 175.0h0M443.3 176.9h0" stroke="#ffff00" stroke-width="2.4" stroke-linecap="round" fill="none"/>
<path d="M159.9 166.3h0M160.1 168.4h0M159.9 170.3h0M160.7 172.5h0M160.6 176.4h0M159.8 178.7h0M159.8 181.8h0M160.4 184.5h0M160.3 188.4h0M160.8 192.4h0M160.9 196.0h0M161.1 199.0h0M159.7 201.1h0M159.9 203.9h0M160.6 206.3h0M160.3 208.3h0M160.3 212.0h0M159.7 214.6h0M160.1 218.4h0M160.2 220.4h0M159.7 223.2h0M160.1 225.8h0M160.5 228.9h0M160.1 231.9h0M160.4 235.7h0M159.6 238.3h0M159.8 240.2h0M160.3 243.5h0M160.0 246.3h0M160.0 250.1h0M161.0 253.5h0M160.9 256.0h0M159.8 259.9h0M160.2 262.0h0M161.0 265.1h0M160.0 267.8h0M160.7 271.0h0M160.7 274.5h0M160.5 277.5h0M160.1 281.4h0M160.1 285.0h0M159.7 287.6h0M160.1 291.0h0M160.9 293.4h0M159.9 296.5h0M160.6 300.0h0M160.3 302.1h0M160.9 305.8h0M191.1 165.3h0M191.1 167.3h0M192.1 169.9h0M190.9 173.8h0M192.1 176.3h0M191.1 178.5h0M190.8 181.3h0M191.2 183.7h0M192.1 186.3h0M191.0 188.7h0M191.3 192.5h0M191.6 196.1h0M191.1 199.7h0M191.8 201.8h0M191.5 204.6h0M191.8 207.9h0M191.2 210.3h0M191.4 214.1h0M191.6 216.6h0M191.8 218.9h0M191.9 220.8h0M191.2 223.9h0M191.0 227.7h0M190.8 230.1h0M191.8 233.1h0M191.3 236.4h0M190.8 239.9h0M191.6 242.4h0M191.6 246.4h0M191.8 249.7h0M192.1 252.3h0M191.2 255.8h0M191.9 258.4h0M190.9 261.0h0M191.4 264.7h0M191.7 267.7h0M190.9 271.5h0M190.7 274.0h0M191.4 276.7h0M191.7 280.4h0M191.3 283.5h0M191.1 286.5h0M191.8 290.2h0M190.9 293.8h0M191.8 297.1h0M192.0 300.0h0M191.8 303.8h0M191.6 307.4h0M165.1 167.1h0M172.3 167.1h0M174.8 166.6h0M163.2 162.3h0M167.2 162.8h0M164.8 164.0h0M174.1 166.1h0M182.5 166.3h0M163.0 163.8h0M190.3 162.8h0M183.0 166.6h0M162.2 166.6h0M188.3 162.7h0M165.6 167.0h0M183.5 165.4h0M163.4 166.5h0M177.2 163.8h0M172.8 167.1h0M183.1 166.8h0M174.6 165.5h0M180.3 164.0h0M173.8 165.4h0M171.5 165.6h0M186.2 166.0h0M183.6 164.5h0M161.3 166.3h0M187.0 165.1h0M182.0 161.5h0M170.7 165.4h0M169.2 162.1h0M173.3 166.9h0M176.8 166.1h0M185.5 162.8h0M189.7 165.6h0M167.4 161.9h0M187.9 167.0h0M190.3 163.9h0M183.4 162.4h0M168.7 166.7h0M181.5 162.6h0M170.1 166.0h0M163.1 167.1h0M171.8 164.6h0M166.4 165.8h0M182.6 165.6h0M185.7 166.9h0M185.6 164.3h0M180.9 162.1h0M161.4 164.7h0M187.8 164.7h0M180.6 164.1h0M165.3 165.7h0M167.7 166.1h0M182.5 164.3h0M184.4 162.3h0M164.4 163.9h0M184.6 163.3h0M167.7 163.7h0M185.8 164.1h0M182.1 165.3h0M166.2 163.8h0M174.1 165.2h0M163.1 161.5h0M163.2 164.0h0M336.5 174.3h0M337.1 177.8h0M336.1 180.8h0M337.0 184.0h0M337.2 187.9h0M337.1 191.8h0M337.1 194.5h0M336.3 197.8h0M337.3 201.1h0M336.5 205.1h0M336.3 208.0h0M336.7 210.0h0M336.4 213.5h0M337.5 216.8h0M337.2 219.7h0M337.0 222.8h0M336.8 225.6h0M336.3 228.7h0M337.2 231.1h0M337.4 233.3h0M336.2 237.0h0M337.1 239.1h0M336.3 242.9h0M336.1 246.8h0M337.5 249.3h0M336.8 251.6h0M337.2 253.5h0M336.6 256.3h0M337.4 258.5h0M337.5 261.0h0M337.4 263.0h0M336.3 266.6h0M336.4 268.5h0M336.6 272.2h0M336.4 274.6h0M337.5 276.6h0M337.3 280.5h0M336.5 284.3h0M337.5 286.2h0M337.4 289.4h0M336.6 292.7h0M336.9 295.0h0M336.3 297.3h0M336.6 300.5h0M337.5 303.6h0M336.4 307.4h0M358.1 175.2h0M358.2 178.6h0M358.2 181.1h0M357.4 183.3h0M358.7 186.3h0M357.7 189.7h0M358.3 192.6h0M358.1 195.6h0M358.4 198.6h0M358.2 202.3h0M358.4 205.8h0M357.8 207.9h0M357.9 210.4h0M357.8 213.3h0M358.5 217.3h0M358.4 219.9h0M357.6 223.7h0M358.8 226.9h0M358.7 229.5h0M357.9 233.1h0M358.6 235.2h0M357.9 237.9h0M358.5 240.7h0M358.8 244.5h0M357.7 248.0h0M357.4 250.6h0M357.9 252.8h0M358.1 255.0h0M358.4 257.1h0M357.8 259.8h0M357.9 263.1h0M358.7 265.0h0M358.7 268.5h0M357.8 270.9h0M357.6 274.2h0M358.4 278.2h0M357.5 281.2h0M358.0 283.6h0M357.6 287.5h0M357.5 290.6h0M358.5 294.6h0M358.5 298.2h0M357.8 300.4h0M358.2 302.3h0M357.7 304.2h0M358.8 306.4h0M355.6 172.8h0M352.9 175.9h0M344.4 171.7h0M340.5 169.4h0M350.6 176.2h0M345.9 175.8h0M348.0 175.4h0M345.6 174.4h0M347.1 166.2h0M357.4 174.6h0M341.2 174.2h0M349.6 167.9h0M337.9 170.2h0M352.2 175.7h0M355.0 173.3h0M340.6 173.8h0M351.2 170.8h0M346.3 165.7h0M346.9 173.7h0M339.1 166.0h0M346.5 170.8h0M348.8 166.0h0M354.0 174.9h0M338.8 170.6h0M342.1 170.3h0M348.0 167.4h0M354.3 172.4h0M342.1 175.9h0M347.4 173.8h0M357.3 171.4h0M342.3 167.2h0M354.4 173.0h0M353.6 174.8h0M347.2 170.9h0M340.0 168.5h0M340.2 166.9h0M341.7 168.5h0M356.4 174.5h0M347.2 173.0h0M342.0 174.2h0M342.8 168.8h0M351.7 169.6h0M353.0 165.9h0M354.3 171.6h0M343.4 174.8h0M354.6 175.7h0M340.2 175.7h0M337.7 175.2h0M355.7 171.7h0M353.9 165.7h0M354.2 166.7h0M350.5 171.5h0M348.9 173.6h0M346.7 175.7h0M342.5 166.2h0M350.5 170.8h0M347.2 169.4h0M349.9 173.8h0M354.4 168.3h0M350.5 176.1h0M345.0 171.1h0M338.7 167.4h0M340.2 169.2h0M454.6 166.8h0M455.1 168.6h0M454.5 172.3h0M454.5 176.3h0M454.3 180.2h0M455.2 182.9h0M454.1 185.0h0M454.9 188.2h0M454.3 190.4h0M454.9 194.2h0M454.5 198.2h0M455.0 200.5h0M453.9 203.9h0M454.9 206.1h0M455.0 208.2h0M454.7 210.5h0M454.3 212.8h0M454.9 215.2h0M455.0 217.9h0M455.2 219.8h0M454.3 221.6h0M454.6 223.5h0M454.4 227.3h0M454.7 229.7h0M454.8 232.5h0M455.1 234.4h0M455.0 236.5h0M455.1 239.0h0M455.0 242.2h0M454.3 245.1h0M454.2 248.0h0M454.6 251.5h0M455.2 253.8h0M454.7 257.1h0M455.2 259.6h0M454.0 261.8h0M454.0 264.6h0M454.9 268.3h0M454.0 270.6h0M454.4 272.9h0M454.6 276.7h0M453.9 279.5h0M453.9 283.2h0M455.0 286.5h0M455.3 288.4h0M454.5 292.3h0M453.9 296.0h0M453.8 298.3h0M455.0 300.7h0M453.8 303.1h0M454.8 307.0h0M467.6 167.6h0M466.9 171.4h0M467.2 173.7h0M467.3 177.6h0M466.7 181.3h0M467.8 184.2h0M467.6 187.3h0M467.1 190.9h0M467.4 194.2h0M467.2 196.9h0M467.7 200.5h0M467.0 204.5h0M467.2 207.8h0M466.8 211.5h0M466.8 214.3h0M467.5 217.8h0M466.6 219.7h0M467.3 221.8h0M466.9 225.3h0M467.3 227.3h0M467.0 230.4h0M466.9 232.8h0M467.6 235.1h0M467.5 237.8h0M466.7 240.8h0M467.4 243.2h0M467.8 246.9h0M466.8 249.0h0M466.7 251.0h0M467.5 253.7h0M467.3 257.5h0M467.0 259.6h0M466.8 261.7h0M467.2 264.8h0M466.8 267.0h0M467.3 270.7h0M466.9 273.9h0M467.5 276.3h0M467.4 278.2h0M467.4 282.1h0M466.5 284.0h0M466.7 287.5h0M467.4 290.2h0M466.8 293.5h0M467.8 296.8h0M467.0 299.6h0M467.7 302.9h0M467.8 306.3h0M461.4 165.1h0M466.1 166.6h0M464.7 165.1h0M466.3 167.8h0M460.0 164.4h0M465.1 165.5h0M464.1 165.5h0M456.8 166.0h0M459.5 162.8h0M455.4 164.3h0M459.9 164.7h0M460.6 168.0h0M455.5 166.0h0M458.7 167.2h0M463.2 168.0h0M465.6 167.4h0M455.5 167.7h0M465.9 163.8h0M460.0 166.0h0M464.8 162.7h0M460.4 163.4h0M462.9 164.8h0" stroke="#00ff00" stroke-width="2.4" stroke-linecap="round" fill="none"/>
<path d="M191.0 183.5h0M190.4 187.2h0M191.7 190.9h0M191.1 194.8h0M191.6 197.1h0M191.5 200.8h0M191.5 202.8h0M191.2 206.6h0M191.7 210.0h0M191.4 212.8h0M190.9 215.1h0M191.7 217.7h0M191.1 221.6h0M191.8 223.8h0M191.1 227.1h0M191.1 228.9h0M191.0 232.3h0M191.1 234.7h0M190.9 237.8h0M190.6 239.9h0M190.7 243.8h0M191.3 247.5h0M191.6 251.3h0M191.0 253.6h0M191.7 257.3h0M191.8 259.6h0M191.6 262.4h0M190.7 264.6h0M190.4 267.7h0M190.8 270.4h0M190.4 272.2h0M191.1 274.5h0M190.4 277.4h0M190.4 280.3h0M191.5 283.5h0M191.5 287.1h0M191.2 291.1h0M190.4 293.4h0M191.2 295.9h0M190.8 298.5h0M191.3 300.3h0M190.6 302.5h0M190.9 304.3h0M191.2 306.7h0M218.4 183.4h0M218.3 185.8h0M218.4 189.7h0M218.9 191.8h0M219.5 194.8h0M218.5 196.8h0M219.0 198.9h0M218.8 201.7h0M219.1 205.5h0M219.6 209.2h0M219.6 211.6h0M218.2 214.3h0M218.3 218.1h0M218.6 219.9h0M219.6 222.4h0M218.8 226.1h0M219.4 229.0h0M219.1 232.6h0M218.3 235.5h0M219.1 237.9h0M219.4 241.0h0M219.6 244.7h0M218.3 247.0h0M219.0 250.7h0M219.2 252.9h0M218.5 255.3h0M218.9 257.9h0M218.3 261.2h0M219.1 264.6h0M219.2 267.5h0M218.2 271.0h0M219.2 273.9h0M219.1 277.2h0M219.6 279.4h0M218.5 283.0h0M219.6 285.7h0M218.8 288.0h0M219.5 291.9h0M219.3 294.2h0M219.1 296.8h0M218.3 300.3h0M218.5 302.6h0M218.2 304.9h0M218.8 307.0h0M196.0 178.4h0M194.2 183.1h0M205.4 178.8h0M197.0 180.7h0M194.6 182.7h0M197.7 173.0h0M194.6 171.0h0M208.6 171.0h0M215.8 179.2h0M199.7 182.2h0M203.4 180.5h0M202.2 180.4h0M217.2 182.0h0M195.4 181.7h0M193.7 180.0h0M195.1 178.2h0M217.4 178.0h0M195.3 179.3h0M217.1 179.3h0M213.2 171.1h0M198.4 174.5h0M200.3 177.0h0M211.4 170.8h0M201.8 179.7h0M213.2 175.0h0M213.9 180.0h0M206.0 170.7h0M213.4 171.8h0M214.7 176.5h0M200.8 173.3h0M194.5 175.6h0M197.8 182.1h0M197.3 171.0h0M210.2 178.7h0M215.9 182.9h0M201.2 174.7h0M199.8 172.7h0M211.1 177.9h0M209.4 177.8h0M216.2 175.7h0M194.3 184.1h0M211.5 175.5h0M215.6 176.0h0M210.5 174.5h0M194.1 182.5h0M195.6 170.2h0M197.1 179.4h0M199.8 179.1h0M197.6 181.6h0M196.9 173.8h0M205.1 177.0h0M195.7 180.0h0M202.2 177.8h0M202.4 174.3h0M212.9 183.4h0M212.5 174.7h0M199.1 170.8h0M213.5 179.1h0M210.0 183.3h0M196.9 182.6h0M213.0 179.2h0M197.8 182.5h0M217.5 182.3h0M193.3 181.1h0M208.4 179.4h0M196.1 179.7h0M198.5 175.5h0M210.4 178.3h0M196.6 179.7h0M209.8 182.8h0M206.6 178.9h0M196.5 170.9h0M210.0 184.1h0M205.4 184.1h0M200.2 170.6h0M211.8 174.4h0M207.9 175.4h0M194.6 177.2h0M210.8 176.8h0M209.1 171.0h0M201.8 173.0h0M213.3 183.2h0M204.4 181.0h0M196.7 180.2h0M213.3 180.5h0M200.7 177.4h0M212.5 175.1h0M215.9 175.1h0M216.1 177.8h0M202.5 175.2h0M204.8 173.1h0M217.7 176.7h0M200.1 183.4h0M197.2 180.6h0M217.4 180.9h0M206.8 183.9h0M197.2 178.8h0M213.7 181.1h0M216.4 170.7h0M199.0 178.9h0M209.0 177.1h0M195.6 180.3h0M212.9 178.7h0M357.6 186.6h0M358.5 190.3h0M358.4 192.2h0M358.4 194.7h0M358.1 197.4h0M357.1 200.8h0M358.0 204.8h0M358.4 208.0h0M357.3 211.1h0M358.4 214.9h0M357.2 217.0h0M357.5 220.4h0M357.7 222.3h0M357.5 224.2h0M358.1 227.7h0M357.5 229.5h0M357.7 233.5h0M358.1 236.1h0M357.1 239.7h0M358.3 242.3h0M358.0 246.3h0M358.1 249.1h0M357.1 252.5h0M357.3 255.3h0M358.0 258.0h0M357.1 261.5h0M357.5 265.0h0M357.2 268.6h0M357.8 272.5h0M358.6 275.2h0M358.1 278.1h0M357.1 279.9h0M357.2 282.4h0M358.1 284.2h0M357.6 287.8h0M357.9 291.1h0M357.4 293.1h0M357.9 296.5h0M357.4 299.6h0M357.9 302.4h0M357.5 305.3h0M379.9 186.7h0M379.7 189.3h0M380.0 191.9h0M379.9 195.8h0M379.2 198.4h0M379.6 201.2h0M379.5 203.1h0M378.8 206.9h0M379.6 210.7h0M379.8 214.7h0M379.8 218.0h0M378.9 220.8h0M380.0 224.4h0M379.0 227.8h0M379.5 230.7h0M379.4 233.3h0M380.2 236.1h0M380.2 239.3h0M379.0 243.1h0M379.3 246.6h0M379.5 249.7h0M379.2 253.2h0M379.3 256.4h0M379.4 260.0h0M380.2 263.2h0M378.7 265.6h0M379.5 269.4h0M379.9 272.6h0M379.3 276.4h0M379.3 280.3h0M379.9 283.7h0M379.3 286.3h0M379.2 288.9h0M380.0 291.6h0M380.2 293.6h0M379.5 297.1h0M379.1 300.3h0M380.0 303.8h0M379.4 306.4h0M374.5 180.6h0M368.2 176.9h0M368.4 181.2h0M363.0 175.3h0M377.7 183.8h0M366.5 179.3h0M375.6 173.9h0M368.4 186.4h0M373.6 179.1h0M365.9 185.0h0M361.0 184.0h0M365.3 181.1h0M371.4 179.5h0M359.2 181.4h0M363.7 183.5h0M359.7 180.6h0M366.7 180.7h0M367.9 182.4h0M376.5 181.5h0M363.7 186.7h0M362.7 181.2h0M364.0 186.0h0M376.7 185.0h0M373.9 181.8h0M360.5 185.4h0M369.5 184.5h0M365.1 187.3h0M360.5 180.7h0M371.5 175.3h0M377.4 172.9h0M359.5 176.5h0M371.7 183.8h0M371.5 173.2h0M372.6 185.4h0M366.0 180.9h0M367.8 183.3h0M368.1 184.7h0M373.2 181.1h0M377.4 182.9h0M376.3 186.0h0M367.2 188.2h0M359.7 184.3h0M365.0 184.5h0M370.0 186.6h0M376.7 185.9h0M370.6 183.5h0M372.6 181.8h0M378.6 187.1h0M370.6 173.8h0M367.0 181.4h0M377.7 175.1h0M376.7 178.0h0M369.1 183.0h0M362.0 172.3h0M372.3 185.3h0M365.2 187.4h0M373.9 178.5h0M375.6 184.1h0M363.1 187.6h0M359.7 187.7h0M368.7 179.0h0M368.7 186.3h0M369.8 173.1h0M376.8 184.0h0M376.4 172.1h0M359.8 177.8h0M373.8 173.5h0M374.4 184.0h0M371.5 174.1h0M372.5 176.8h0M362.4 173.7h0M367.5 187.2h0M378.4 188.1h0M370.3 176.2h0M364.4 179.5h0M360.7 177.9h0M368.2 185.8h0M372.4 184.4h0M369.3 174.0h0M368.0 173.5h0M372.3 181.9h0M369.5 177.7h0M371.0 182.9h0M371.6 175.4h0M374.8 187.5h0M366.6 176.3h0M360.9 187.7h0M367.5 187.3h0M360.7 188.2h0M376.6 186.2h0M370.1 178.7h0M378.4 184.0h0M364.5 183.2h0M364.4 177.1h0M374.6 187.3h0M368.1 181.2h0M374.0 183.1h0M369.3 174.8h0M466.1 184.2h0M466.6 186.3h0M467.4 189.2h0M466.7 193.1h0M467.2 196.3h0M467.1 198.4h0M467.3 200.3h0M467.0 203.2h0M467.4 206.6h0M466.8 208.9h0M467.1 212.2h0M467.4 214.5h0M467.0 217.1h0M467.2 220.6h0M466.5 223.2h0M467.5 225.4h0M466.2 229.4h0M467.2 231.9h0M467.3 234.7h0M466.3 238.2h0M467.0 241.6h0M466.2 245.2h0M466.6 247.4h0M466.1 249.6h0M467.0 253.1h0M467.2 256.6h0M466.8 258.5h0M466.9 260.5h0M466.7 264.2h0M467.3 266.5h0M466.8 269.6h0M467.3 273.4h0M466.9 276.2h0M467.3 278.8h0M466.8 281.5h0M467.1 283.7h0M466.2 286.6h0M467.1 289.5h0M466.8 291.4h0M467.4 293.9h0M466.7 296.8h0M466.5 299.4h0M467.5 302.5h0M466.8 304.5h0M476.7 185.1h0M477.5 187.7h0M477.2 190.3h0M477.3 192.6h0M476.4 195.5h0M477.6 199.0h0M477.8 202.9h0M477.1 206.3h0M477.5 208.7h0M476.9 211.4h0M477.3 213.4h0M477.6 216.8h0M476.7 218.9h0M476.6 222.1h0M477.8 225.9h0M476.8 229.1h0M477.5 232.1h0M477.4 234.7h0M477.8 237.8h0M477.4 241.3h0M477.7 244.3h0M477.4 247.4h0M476.6 249.9h0M476.7 252.9h0M476.7 256.9h0M476.9 260.6h0M477.3 262.9h0M477.9 265.4h0M476.6 268.5h0M476.6 271.0h0M477.2 273.9h0M477.4 276.4h0M477.6 279.2h0M476.8 282.5h0M476.4 286.1h0M476.4 288.4h0M477.2 292.3h0M477.9 296.0h0M477.8 298.0h0M477.5 299.8h0M477.0 303.3h0M477.6 307.1h0M469.7 175.5h0M472.2 177.0h0M471.5 185.3h0M467.7 174.5h0M468.6 178.6h0M468.1 177.6h0M472.6 183.7h0M470.9 174.2h0M471.1 185.9h0M474.6 180.7h0M468.7 184.6h0M472.8 176.9h0M472.3 173.6h0M470.8 177.3h0M469.8 181.9h0M470.8 182.2h0M471.4 186.0h0M472.7 176.3h0M475.4 176.0h0M470.8 175.5h0M469.7 183.0h0M470.2 172.9h0M474.8 186.0h0M468.4 182.3h0M469.4 182.0h0M474.2 183.2h0M470.5 179.5h0M469.4 174.9h0M470.6 176.1h0M474.6 182.4h0M473.3 179.1h0M469.4 183.8h0M472.9 182.6h0M474.2 184.7h0M473.8 181.8h0M470.9 179.9h0M473.3 172.7h0M468.3 180.1h0M470.2 184.2h0M471.8 172.8h0M476.3 180.0h0M470.4 181.5h0" stroke="#0000ff" stroke-width="2.4" stroke-linecap="round" fill="none"/>
<path d="M219.3 182.1h0M218.7 184.0h0M218.2 186.3h0M218.1 188.7h0M219.2 191.0h0M218.8 193.8h0M218.2 196.4h0M218.3 198.7h0M218.7 202.3h0M218.0 205.2h0M219.1 208.3h0M219.2 210.3h0M219.2 212.8h0M218.7 216.1h0M218.6 218.5h0M219.0 222.4h0M218.9 224.5h0M218.0 227.1h0M218.7 230.4h0M219.3 232.6h0M218.1 234.6h0M219.1 237.9h0M219.3 241.0h0M218.8 244.0h0M218.2 246.0h0M218.6 249.4h0M218.3 251.5h0M218.4 254.3h0M218.0 256.3h0M219.0 258.1h0M219.1 260.8h0M218.3 262.8h0M218.8 266.7h0M218.3 269.1h0M218.7 271.4h0M218.7 274.7h0M219.2 276.9h0M217.9 279.9h0M219.2 283.7h0M218.6 286.6h0M218.3 288.8h0M218.1 291.7h0M217.9 294.2h0M218.6 297.8h0M218.6 299.9h0M218.3 301.9h0M218.5 305.3h0M246.7 181.1h0M245.8 184.7h0M245.7 187.2h0M246.7 190.2h0M246.7 192.8h0M246.7 195.4h0M247.1 197.8h0M245.7 200.6h0M246.7 202.6h0M246.6 206.3h0M247.0 208.4h0M245.8 211.8h0M246.7 214.4h0M245.7 216.3h0M247.0 218.8h0M246.1 222.8h0M246.8 226.6h0M246.5 230.3h0M246.6 234.3h0M246.5 238.1h0M246.4 240.4h0M246.2 243.2h0M246.4 245.9h0M246.0 249.0h0M246.4 251.4h0M246.3 254.3h0M245.9 257.5h0M246.1 260.5h0M246.7 264.0h0M246.4 267.5h0M247.0 269.9h0M246.2 272.8h0M246.3 275.2h0M246.9 278.6h0M246.7 281.5h0M246.3 283.7h0M246.1 286.3h0M246.8 288.9h0M246.0 292.3h0M246.8 294.6h0M246.7 297.9h0M246.7 301.1h0M245.7 303.5h0M245.7 306.1h0M245.5 181.1h0M231.5 179.1h0M219.4 181.7h0M221.7 174.8h0M226.8 181.1h0M233.3 176.0h0M229.9 179.6h0M220.1 178.0h0M231.8 179.1h0M237.6 177.0h0M236.3 180.3h0M235.5 179.5h0M232.8 176.4h0M233.8 180.2h0M222.9 174.6h0M234.4 177.9h0M236.5 181.0h0M235.4 182.6h0M233.0 183.0h0M228.3 182.6h0M228.2 181.5h0M222.5 179.5h0M227.0 175.3h0M238.6 176.9h0M231.3 179.4h0M244.5 174.5h0M229.8 178.0h0M224.9 174.6h0M221.8 176.2h0M235.8 180.5h0M244.4 177.7h0M232.8 180.3h0M229.6 179.2h0M232.0 182.0h0M238.6 180.6h0M225.9 181.6h0M226.0 181.5h0M232.2 177.8h0M238.4 180.3h0M225.2 183.1h0M228.0 180.3h0M245.5 178.0h0M227.6 181.4h0M231.9 179.6h0M234.5 177.3h0M221.5 174.8h0M231.7 180.8h0M238.5 177.6h0M236.7 182.8h0M231.0 176.4h0M235.1 175.1h0M240.6 179.9h0M238.6 181.5h0M244.0 182.6h0M230.8 178.7h0M244.8 174.6h0M226.7 181.1h0M242.3 177.1h0M226.6 180.1h0M222.2 175.5h0M238.2 182.8h0M229.2 179.9h0M231.8 182.9h0M223.3 177.3h0M221.5 181.5h0M230.3 177.2h0M222.0 181.8h0M238.3 175.2h0M232.4 179.4h0M230.8 177.5h0M234.8 176.2h0M232.4 178.4h0M397.7 170.3h0M397.9 173.3h0M398.3 175.3h0M398.1 178.8h0M397.9 181.0h0M397.9 183.6h0M397.4 187.0h0M397.5 190.8h0M397.9 193.7h0M398.1 195.8h0M398.1 198.3h0M397.0 200.4h0M397.2 203.5h0M397.1 206.3h0M397.9 209.7h0M397.0 213.0h0M397.7 214.9h0M397.9 216.9h0M398.2 219.9h0M397.8 223.5h0M397.6 227.1h0M396.9 229.6h0M397.8 232.9h0M397.6 236.1h0M398.2 238.9h0M397.0 241.5h0M397.9 245.4h0M398.3 249.2h0M397.0 252.0h0M397.5 254.8h0M398.0 257.5h0M398.3 259.8h0M397.2 262.1h0M397.2 265.7h0M397.2 269.1h0M397.5 271.8h0M398.0 274.2h0M398.2 278.0h0M396.8 280.2h0M397.9 283.0h0M398.2 286.0h0M397.8 289.9h0M397.4 292.3h0M397.4 294.3h0M397.3 297.7h0M397.6 299.9h0M397.8 303.7h0M397.4 305.7h0M389.5 168.9h0M392.8 170.4h0M382.5 170.0h0M391.4 169.1h0M391.7 170.5h0M391.9 169.8h0M384.3 169.7h0M388.9 170.4h0M384.7 172.1h0M394.7 168.3h0M385.0 171.7h0M392.4 169.8h0M388.4 169.8h0M387.1 168.7h0M388.1 170.5h0M394.8 170.5h0M384.9 170.5h0M382.8 169.6h0M394.8 168.7h0M477.8 178.2h0M476.9 182.1h0M477.5 186.0h0M478.1 188.9h0M477.3 191.6h0M478.1 195.6h0M478.1 198.9h0M477.9 202.8h0M477.2 206.1h0M477.5 208.4h0M477.9 211.1h0M478.1 213.8h0M476.7 217.1h0M477.6 220.1h0M478.0 223.1h0M477.2 226.5h0M477.6 228.5h0M477.1 230.6h0M476.9 232.4h0M476.9 234.4h0M477.4 236.6h0M476.8 240.0h0M478.0 243.7h0M477.6 247.1h0M477.5 249.2h0M478.2 253.1h0M477.4 256.4h0M477.5 260.2h0M476.9 262.5h0M477.2 264.6h0M478.1 267.0h0M476.9 269.2h0M476.8 271.3h0M476.8 273.4h0M477.2 275.4h0M477.3 278.3h0M477.9 282.2h0M477.3 286.2h0M477.8 289.7h0M477.1 293.7h0M477.9 296.6h0M477.4 300.3h0M476.9 304.3h0M487.7 179.4h0M488.5 183.1h0M487.5 185.1h0M487.7 187.1h0M488.6 190.6h0M488.0 193.9h0M487.6 197.8h0M488.1 200.1h0M488.5 202.5h0M488.5 206.1h0M488.3 208.6h0M488.2 211.1h0M487.6 214.1h0M488.6 217.7h0M487.5 221.2h0M488.5 223.5h0M488.3 227.1h0M488.0 231.0h0M488.1 233.3h0M488.0 235.7h0M487.9 239.3h0M488.3 242.6h0M488.2 244.5h0M488.4 248.2h0M488.4 251.9h0M487.5 255.8h0M487.7 258.6h0M487.8 262.0h0M488.4 265.3h0M488.3 267.1h0M487.8 269.7h0M488.3 272.9h0M488.5 275.2h0M487.5 277.1h0M488.8 280.9h0M488.9 284.8h0M488.3 288.2h0M488.2 291.2h0M488.9 295.0h0M487.7 297.8h0M488.0 300.8h0M488.8 304.4h0M480.5 172.8h0M486.1 171.9h0M478.4 177.6h0M485.4 178.4h0M484.8 179.4h0M483.0 178.2h0M482.8 176.2h0M485.1 176.6h0M480.5 178.6h0M484.3 177.8h0M487.1 178.3h0M485.1 177.1h0M478.7 179.9h0M486.5 179.9h0M479.6 179.2h0M481.9 171.9h0M479.4 175.4h0M487.3 172.0h0M482.4 177.0h0M479.6 179.9h0M486.6 176.3h0M483.6 173.3h0M480.1 174.8h0M479.6 177.7h0M483.3 176.2h0M485.0 179.0h0M482.7 179.2h0M480.0 175.8h0M481.7 176.5h0M481.0 178.7h0M482.3 177.0h0" stroke="#2e8b57" stroke-width="2.4" stroke-linecap="round" fill="none"/>
<path d="M246.4 178.8h0M245.5 182.7h0M245.4 186.7h0M245.6 189.1h0M246.5 192.2h0M245.9 196.2h0M246.0 199.8h0M245.6 201.8h0M246.5 204.0h0M246.6 207.1h0M245.8 209.9h0M245.9 212.0h0M246.1 214.0h0M245.8 217.2h0M246.6 219.1h0M246.3 223.0h0M246.3 225.8h0M245.7 229.1h0M246.2 232.3h0M246.1 235.4h0M245.4 237.6h0M245.7 241.5h0M246.2 245.5h0M246.5 249.1h0M245.8 252.6h0M245.6 256.4h0M246.4 260.2h0M246.1 263.7h0M246.3 266.2h0M245.6 269.7h0M245.8 273.4h0M246.6 275.6h0M246.5 278.6h0M246.7 281.2h0M245.8 283.3h0M245.6 285.6h0M245.6 288.1h0M246.4 290.6h0M246.8 293.3h0M246.3 296.0h0M245.6 297.8h0M246.8 300.5h0M246.5 304.4h0M246.8 306.7h0M270.8 178.4h0M270.3 181.3h0M271.4 183.8h0M271.4 186.4h0M270.1 190.1h0M269.9 193.8h0M271.1 197.2h0M270.7 200.5h0M270.1 204.1h0M270.3 207.1h0M270.2 209.7h0M270.8 213.1h0M270.8 216.6h0M271.3 219.7h0M270.8 223.3h0M271.3 225.8h0M270.1 228.5h0M271.0 231.0h0M270.9 234.8h0M271.3 238.1h0M270.6 241.6h0M271.0 244.4h0M270.1 246.9h0M271.1 250.1h0M270.9 252.4h0M270.1 256.2h0M270.6 258.3h0M271.3 260.8h0M270.6 264.8h0M270.8 268.4h0M271.4 270.5h0M270.0 272.7h0M269.9 275.5h0M270.5 278.4h0M270.5 282.3h0M271.1 286.0h0M270.3 289.0h0M270.6 291.5h0M270.9 294.2h0M270.4 297.1h0M271.4 300.2h0M270.4 302.5h0M270.0 304.3h0M270.5 306.2h0M252.1 179.2h0M259.9 174.8h0M267.3 175.6h0M264.5 174.3h0M249.1 172.9h0M265.6 177.2h0M267.1 176.9h0M248.8 173.8h0M263.9 175.5h0M254.3 172.7h0M266.7 175.4h0M252.8 176.3h0M267.4 173.0h0M262.1 173.4h0M258.7 174.2h0M269.1 177.0h0M267.0 172.3h0M269.7 178.9h0M263.7 177.8h0M269.4 175.5h0M255.3 177.1h0M251.6 177.7h0M259.1 178.6h0M253.8 177.6h0M252.0 178.0h0M258.1 178.6h0M252.2 173.6h0M253.8 173.1h0M263.1 172.6h0M263.5 172.5h0M269.6 179.1h0M267.1 178.8h0M259.4 172.5h0M264.6 174.1h0M258.1 178.5h0M264.6 175.9h0M257.7 179.2h0M262.3 174.9h0M263.6 175.8h0M250.3 176.9h0M254.2 174.1h0M254.0 178.9h0M267.6 175.0h0M251.7 175.8h0M255.3 176.8h0M251.0 172.7h0M414.1 185.8h0M415.2 188.6h0M414.3 191.1h0M414.7 192.9h0M414.2 195.9h0M414.8 198.3h0M415.1 200.5h0M414.5 204.2h0M414.8 206.3h0M414.1 208.7h0M414.7 212.1h0M414.3 214.5h0M415.3 217.9h0M414.8 220.4h0M414.6 222.7h0M414.4 225.8h0M414.7 228.9h0M414.1 230.8h0M414.1 233.5h0M414.8 236.5h0M415.2 239.7h0M415.1 242.9h0M415.2 244.9h0M414.8 248.8h0M414.7 252.4h0M414.1 255.1h0M415.0 258.0h0M415.2 261.5h0M415.3 264.5h0M413.9 267.1h0M414.7 269.8h0M414.3 273.3h0M415.0 275.2h0M415.2 277.4h0M414.1 280.5h0M415.1 283.4h0M415.3 285.7h0M414.1 287.6h0M414.9 290.7h0M415.3 293.8h0M414.0 296.1h0M414.4 299.1h0M414.5 301.7h0M414.3 305.5h0M402.1 181.9h0M404.0 182.2h0M399.5 186.2h0M407.4 185.8h0M407.5 185.9h0M407.3 182.6h0M410.8 183.0h0M399.6 182.1h0M412.1 184.3h0M402.8 184.7h0M407.5 183.4h0M403.6 182.0h0M404.6 182.8h0M402.6 184.9h0M403.6 185.7h0M409.3 184.2h0M407.4 181.6h0M402.7 185.8h0M413.7 184.2h0M400.2 180.8h0M400.7 183.7h0M399.6 183.6h0M400.9 183.1h0M405.3 185.2h0M400.3 183.7h0M408.4 185.4h0M399.5 183.4h0M413.9 180.5h0M407.5 180.8h0M407.8 184.6h0M402.3 182.2h0M488.3 176.1h0M487.6 179.3h0M487.6 182.1h0M487.7 184.8h0M488.0 186.7h0M487.7 190.7h0M487.7 193.2h0M487.9 197.2h0M487.4 199.9h0M488.3 203.6h0M488.2 206.8h0M487.4 209.4h0M487.2 212.0h0M487.3 214.9h0M488.0 217.0h0M487.3 218.8h0M487.9 222.6h0M487.1 225.4h0M488.1 228.1h0M487.2 230.2h0M487.8 233.7h0M487.3 237.1h0M488.4 240.4h0M487.3 243.6h0M488.0 246.5h0M488.3 249.7h0M487.6 252.0h0M488.4 256.0h0M487.8 259.2h0M488.4 261.1h0M487.6 263.6h0M488.0 265.7h0M487.5 268.8h0M487.3 272.8h0M487.8 275.1h0M487.8 278.2h0M488.0 281.3h0M487.6 283.6h0M487.6 287.4h0M487.2 290.6h0M487.7 293.0h0M487.6 296.6h0M487.8 298.4h0M488.3 302.0h0M487.1 304.6h0M487.8 307.4h0M495.5 177.7h0M495.9 181.5h0M495.7 184.2h0M494.9 186.6h0M494.9 189.5h0M496.1 191.9h0M495.1 195.9h0M495.3 198.0h0M495.0 200.8h0M495.0 204.4h0M495.2 207.4h0M495.0 210.6h0M496.1 213.5h0M495.1 215.3h0M496.1 217.3h0M495.2 220.6h0M495.1 224.4h0M495.9 227.2h0M494.9 230.4h0M495.1 232.3h0M496.1 236.1h0M494.9 238.6h0M495.1 241.8h0M496.2 245.6h0M496.0 249.1h0M496.0 252.6h0M495.9 255.2h0M495.8 257.1h0M496.3 259.8h0M495.5 263.4h0M495.7 266.7h0M494.8 269.9h0M495.2 272.2h0M496.2 275.5h0M495.9 278.7h0M495.0 281.9h0M495.7 284.3h0M495.4 287.7h0M495.3 291.0h0M495.1 293.5h0M495.7 296.3h0M496.2 298.3h0M495.9 300.1h0M496.2 302.7h0M494.8 305.1h0M493.4 177.7h0M490.2 178.1h0M493.9 176.3h0M490.2 173.3h0M488.9 174.5h0M489.5 176.3h0M488.9 173.3h0M493.9 174.6h0M492.0 177.8h0M492.5 175.4h0M493.0 175.6h0M492.6 177.6h0M490.5 173.4h0" stroke="#ee82ee" stroke-width="2.4" stroke-linecap="round" fill="none"/>
<path d="M56.5 152.3h0M65.2 114.2h0M67.7 135.3h0M60.2 162.3h0M70.9 121.9h0M65.3 165.1h0M65.1 151.4h0M70.6 156.5h0M57.2 150.5h0M57.6 163.3h0M61.4 150.0h0M70.1 157.6h0M70.3 150.4h0M62.9 160.9h0M53.0 154.1h0M61.7 133.9h0M62.6 158.8h0M57.9 128.0h0M63.4 135.5h0M70.2 155.7h0M64.4 160.5h0M62.5 147.4h0M61.3 154.4h0M57.6 152.8h0M54.9 158.8h0M54.0 136.4h0M66.4 145.9h0M60.9 153.5h0M58.7 131.4h0M63.3 164.1h0M52.9 163.1h0M64.6 160.0h0M55.1 162.4h0M53.7 125.1h0M64.8 130.2h0M69.3 157.6h0M59.1 142.8h0M55.1 154.6h0M58.5 125.5h0M66.7 155.7h0M56.3 163.0h0M68.4 161.8h0M62.2 128.4h0M62.4 147.9h0M71.6 164.7h0M68.7 136.1h0M64.9 166.6h0M58.3 158.6h0M55.6 160.7h0M71.4 147.8h0M58.6 165.7h0M52.6 159.1h0M61.8 156.8h0M56.5 161.2h0M54.3 162.0h0M63.9 158.3h0M67.1 146.3h0M55.5 133.5h0M66.8 125.1h0M62.7 162.2h0M68.7 152.0h0M64.7 151.2h0M65.7 154.7h0M62.3 160.2h0M61.8 139.4h0M67.4 150.2h0M65.6 132.7h0M62.6 164.5h0M52.9 152.3h0M68.4 156.1h0M69.7 131.3h0M69.9 155.0h0M62.1 165.3h0M59.2 164.4h0M67.1 119.9h0M58.2 164.7h0M57.7 156.8h0M63.2 140.8h0M67.1 147.6h0M61.7 167.5h0M57.6 143.5h0M58.4 150.4h0M70.1 150.8h0M60.6 161.5h0M55.0 156.5h0M64.8 118.0h0M60.3 159.1h0M55.6 154.9h0M66.5 147.2h0M67.4 162.4h0M70.4 134.0h0M57.5 145.6h0M54.0 146.3h0M63.8 167.1h0M56.9 154.2h0M52.8 165.4h0M71.1 128.4h0M53.0 149.0h0M65.6 160.2h0M57.6 142.3h0M53.3 163.0h0M60.7 135.9h0M56.4 132.5h0M71.3 166.8h0M56.9 137.8h0M56.9 166.4h0M55.4 164.3h0M53.8 158.6h0M70.7 118.0h0M65.4 163.1h0M59.8 163.2h0M58.0 166.0h0M61.7 165.8h0M53.2 157.1h0M68.3 127.2h0M83.1 133.2h0M91.0 152.8h0M81.6 159.9h0M79.1 131.4h0M75.8 148.4h0M84.9 154.4h0M81.9 155.2h0M82.0 148.6h0M82.4 164.9h0M75.5 152.7h0M78.0 151.7h0M82.3 160.4h0M75.8 140.5h0M87.0 126.1h0M91.1 152.0h0M76.2 165.3h0M89.7 161.6h0M79.4 155.1h0M83.8 147.4h0M91.3 137.2h0M81.5 131.5h0M91.2 143.4h0M81.0 140.2h0M84.6 143.7h0M85.1 163.0h0M83.5 113.8h0M78.8 140.8h0M84.6 151.1h0M78.4 134.8h0M90.4 164.5h0M75.3 150.5h0M85.6 161.2h0M83.8 165.0h0M85.0 157.8h0M85.6 119.3h0M87.2 163.2h0M80.6 142.1h0M79.4 151.0h0M82.2 133.0h0M86.4 141.7h0M91.1 154.0h0M82.2 141.6h0M78.6 144.2h0M86.4 145.2h0M86.5 132.5h0M84.7 167.2h0M76.7 124.6h0M80.3 161.7h0M79.7 133.4h0M90.8 150.9h0M89.0 135.2h0M75.6 161.0h0M82.2 135.3h0M80.8 147.1h0M75.2 162.0h0M83.1 134.4h0M78.1 149.6h0M80.8 130.1h0M90.5 160.8h0M78.6 134.9h0M87.9 130.5h0M81.6 167.3h0M89.8 135.9h0M81.3 119.0h0M82.6 160.3h0M87.4 136.0h0M85.6 167.3h0M88.8 129.1h0M77.9 154.9h0M87.7 145.1h0M77.2 157.9h0M89.5 165.1h0M78.2 165.8h0M86.6 120.3h0M80.4 154.2h0M77.7 163.9h0M88.1 124.8h0M78.3 132.9h0M81.6 132.6h0M86.4 157.1h0M85.4 160.9h0M77.4 145.1h0M81.7 139.6h0M89.9 145.1h0M84.5 134.1h0M85.6 160.5h0M80.2 144.1h0M76.7 161.0h0M87.9 128.0h0M79.2 161.4h0M82.5 153.7h0M81.8 147.0h0M85.8 125.9h0M75.7 150.2h0M84.5 155.8h0M86.8 159.2h0M86.3 164.6h0M91.1 163.2h0M81.9 165.9h0M86.5 167.1h0M78.7 118.1h0M82.7 158.2h0M80.9 153.1h0M79.9 151.9h0M75.1 142.6h0M80.0 157.6h0M82.1 150.6h0M85.8 166.5h0M281.2 156.7h0M287.6 123.8h0M291.9 155.3h0M285.6 156.6h0M286.0 152.2h0M274.9 159.6h0M285.6 146.7h0M271.2 134.3h0M288.6 158.0h0M278.5 133.3h0M287.9 147.4h0M289.9 153.1h0M292.0 140.5h0M285.0 159.3h0M284.1 159.0h0M275.1 154.6h0M274.6 141.7h0M285.1 151.3h0M282.0 152.4h0M282.9 134.7h0M290.1 160.8h0M272.0 114.1h0M283.9 125.3h0M273.4 134.7h0M274.4 138.3h0M274.6 156.4h0M273.8 156.9h0M282.8 149.0h0M279.7 121.2h0M290.7 143.3h0M282.5 127.4h0M279.8 147.7h0M273.2 132.6h0M288.0 139.2h0M274.2 127.0h0M277.9 154.3h0M287.0 120.5h0M285.9 155.4h0M289.4 146.7h0M282.9 159.2h0M282.9 149.8h0M279.8 146.4h0M274.1 137.0h0M282.4 127.0h0M279.6 151.6h0M285.6 160.4h0M286.7 156.1h0M289.9 151.4h0M280.7 146.8h0M288.2 156.6h0M290.2 149.7h0M281.5 114.0h0M278.3 141.1h0M292.3 148.5h0M272.7 144.9h0M290.5 139.4h0M283.0 155.2h0M277.7 149.3h0M291.5 146.3h0M273.7 158.9h0M273.8 154.9h0M272.3 147.7h0M277.5 144.4h0M283.1 145.9h0M277.5 138.5h0M285.8 131.5h0M272.0 151.7h0M289.4 134.5h0M289.3 142.0h0M276.9 138.2h0M271.2 158.9h0M278.5 149.2h0M291.7 152.0h0M282.7 134.0h0M283.0 159.3h0M276.5 160.6h0M286.2 137.9h0M285.9 158.3h0M292.4 135.7h0M290.8 157.0h0M277.0 153.6h0M292.0 142.5h0M283.0 117.6h0M282.5 147.5h0M275.0 155.9h0M283.7 155.0h0M276.5 130.3h0M271.2 129.4h0M275.8 156.7h0M277.8 156.2h0M274.6 156.4h0M286.0 159.5h0M273.3 140.3h0M287.0 145.5h0M284.1 128.5h0M281.2 136.7h0M284.1 155.3h0M275.1 153.1h0M283.0 160.7h0M275.8 145.5h0M285.0 113.1h0M272.5 160.3h0M281.2 130.2h0M290.9 150.1h0M419.9 132.8h0M422.3 165.4h0M424.7 163.8h0M427.5 150.9h0M420.8 169.4h0M416.8 150.4h0M421.4 164.6h0M416.9 165.7h0M425.1 162.1h0M424.1 165.7h0M419.3 152.5h0M423.2 123.9h0M420.3 148.5h0M426.8 165.9h0M425.8 163.2h0M421.0 165.0h0M417.5 169.3h0M420.9 164.2h0M427.8 148.9h0M421.7 165.3h0M421.9 152.2h0M417.6 166.4h0M418.4 159.6h0M420.4 147.2h0M418.8 156.0h0M427.9 121.8h0M422.7 149.8h0M420.2 165.3h0M421.5 155.8h0M417.7 166.6h0M422.5 147.4h0M422.5 160.6h0M416.4 160.3h0M421.0 166.8h0M419.2 142.3h0M423.0 168.4h0M417.9 151.4h0M427.1 131.9h0M417.6 147.8h0M417.6 156.9h0M418.4 153.5h0M426.6 166.3h0M421.8 168.7h0M419.0 170.0h0M422.9 151.7h0M420.2 128.0h0M416.7 168.1h0M424.6 167.4h0M427.5 147.2h0M422.2 163.4h0M417.2 159.7h0M419.2 144.5h0M419.7 161.2h0M496.5 145.4h0M497.6 141.9h0M500.5 139.6h0M496.5 158.3h0M496.4 162.5h0M498.8 161.4h0M501.7 115.7h0M499.6 167.4h0M497.1 166.2h0M496.6 168.9h0M501.2 165.4h0M498.1 153.2h0M497.1 142.4h0M501.4 139.5h0M497.3 154.4h0M496.7 155.6h0M497.6 140.1h0M501.2 163.7h0M500.1 154.3h0M498.4 152.3h0M497.1 166.8h0M500.2 165.2h0M497.5 115.1h0M499.4 163.9h0M500.7 119.9h0M499.0 169.6h0M498.6 147.4h0M498.1 134.7h0M499.5 168.1h0M501.9 143.4h0M502.1 133.1h0M278.7 121.9h0M278.8 126.1h0M279.5 113.3h0M279.7 131.2h0M279.3 131.3h0M279.2 116.5h0M280.0 120.5h0" stroke="#c01010" stroke-width="2.4" stroke-linecap="round" fill="none"/>
<path d="M70.1 105.0h0M69.4 108.2h0M67.7 104.3h0M77.9 106.9h0M84.6 105.1h0M78.6 97.7h0M274.9 108.5h0M292.1 109.6h0M498.3 107.8h0M279.2 108.4h0M280.0 111.9h0M77.5 85.3h0M85.2 89.2h0M78.7 92.9h0M80.3 95.2h0M53.8 95.2h0M65.5 103.1h0M273.7 86.5h0M273.7 91.0h0M271.4 102.6h0M278.8 86.5h0M279.5 94.0h0M279.5 97.0h0M279.5 100.0h0M279.5 103.0h0M279.5 106.0h0M292.2 100.3h0M418.6 68.0h0M421.4 96.2h0M501.0 91.8h0M497.1 106.8h0M502.2 106.0h0" stroke="#9a1414" stroke-width="2.2" stroke-linecap="round" fill="none"/>
<path d="M113.9 133.1h0M126.1 129.0h0M108.9 166.5h0M122.3 159.9h0M118.3 149.3h0M97.8 128.1h0M102.4 125.7h0M98.6 160.4h0M124.9 149.8h0M100.2 158.6h0M103.0 119.7h0M118.8 166.4h0M122.6 157.0h0M99.3 164.6h0M99.1 141.6h0M114.5 160.6h0M114.7 145.8h0M121.9 154.9h0M119.0 161.8h0M109.8 130.5h0M99.3 133.7h0M106.0 144.6h0M92.8 154.6h0M108.7 157.0h0M97.0 143.1h0M122.0 119.5h0M118.2 161.4h0M111.1 161.6h0M101.6 130.1h0M96.1 144.7h0M114.2 155.9h0M111.5 150.9h0M110.4 166.4h0M113.9 115.1h0M113.3 134.6h0M106.6 155.7h0M122.9 157.0h0M120.6 164.8h0M101.6 163.4h0M115.4 165.2h0M108.2 157.7h0M127.6 135.2h0M126.4 151.9h0M93.8 137.6h0M102.2 146.1h0M102.5 156.4h0M125.9 156.1h0M101.6 158.0h0M103.6 151.8h0M96.9 153.3h0M127.1 158.1h0M102.3 160.9h0M103.2 165.5h0M95.8 154.2h0M122.9 151.2h0M113.2 145.1h0M99.9 147.6h0M109.2 160.4h0M114.7 162.0h0M100.6 156.4h0M106.4 141.2h0M93.0 161.6h0M112.7 162.3h0M103.3 140.4h0M124.0 163.8h0M94.8 161.7h0M108.5 138.4h0M127.2 139.9h0M105.3 136.1h0M111.3 147.8h0M119.4 131.9h0M120.9 136.3h0M120.2 148.5h0M114.5 166.2h0M108.9 160.4h0M118.7 166.4h0M106.7 144.3h0M106.5 162.5h0M113.3 150.9h0M123.0 136.8h0M113.0 162.0h0M125.8 143.9h0M111.3 162.2h0M117.3 163.0h0M105.5 144.6h0M117.0 156.4h0M96.2 165.7h0M107.1 146.2h0M105.0 153.5h0M122.4 157.8h0M124.6 164.7h0M111.0 162.8h0M115.3 150.6h0M107.4 117.1h0M103.6 130.7h0M110.5 164.4h0M102.2 148.8h0M113.3 162.0h0M111.4 138.7h0M114.7 134.5h0M120.4 165.7h0M118.4 163.0h0M105.2 156.3h0M124.7 155.9h0M127.2 162.2h0M103.5 155.0h0M127.2 159.2h0M106.7 124.6h0M103.7 124.5h0M98.9 166.8h0M97.0 135.5h0M116.5 166.5h0M98.2 145.1h0M118.6 161.7h0M126.9 160.1h0M100.8 160.1h0M97.3 148.6h0M111.1 160.9h0M102.3 136.0h0M106.5 133.0h0M99.0 126.1h0M95.0 165.9h0M118.4 166.9h0M93.7 133.0h0M116.5 166.0h0M107.5 136.1h0M103.8 152.5h0M99.1 132.5h0M108.3 143.8h0M122.7 134.6h0M123.4 157.5h0M96.6 134.1h0M95.7 141.7h0M126.7 164.2h0M126.1 147.2h0M117.8 160.8h0M111.1 117.6h0M117.9 125.2h0M94.7 163.4h0M118.1 138.1h0M111.2 165.5h0M103.4 122.4h0M122.0 157.2h0M116.6 151.3h0M109.2 144.8h0M117.9 159.6h0M99.4 159.2h0M120.5 115.5h0M99.3 153.3h0M123.1 118.4h0M105.9 148.5h0M94.1 149.4h0M103.4 156.4h0M95.5 142.4h0M98.5 162.9h0M94.0 158.6h0M99.5 146.4h0M121.0 159.9h0M102.8 147.6h0M111.2 166.4h0M104.8 159.6h0M108.6 153.8h0M95.7 166.9h0M114.9 133.9h0M94.8 139.0h0M109.9 154.6h0M99.4 150.2h0M116.4 165.0h0M113.5 161.7h0M111.7 159.8h0M96.6 122.2h0M96.0 157.4h0M101.7 159.8h0M111.1 158.5h0M95.5 162.6h0M95.2 160.9h0M123.7 160.6h0M118.4 126.8h0M128.3 138.6h0M96.3 128.2h0M101.1 165.8h0M93.1 142.6h0M295.5 160.2h0M297.4 156.0h0M300.0 152.2h0M298.1 144.9h0M299.1 162.6h0M295.2 153.0h0M295.9 163.7h0M296.1 163.4h0M293.7 140.3h0M298.8 151.6h0M299.9 158.7h0M295.0 140.3h0M297.1 151.4h0M298.0 143.2h0M298.0 142.0h0M293.7 140.3h0M299.7 114.3h0M299.7 130.7h0M297.6 143.2h0M294.3 141.9h0M295.6 154.0h0M298.1 149.5h0M299.6 138.7h0M295.1 159.1h0M297.8 153.3h0M297.6 148.8h0M294.2 144.2h0M295.3 156.6h0M297.3 162.7h0M300.3 161.4h0M296.6 152.6h0M299.0 154.6h0M298.7 140.4h0M295.1 157.6h0M298.6 151.8h0M296.6 140.2h0M300.6 133.2h0M295.5 152.4h0M312.7 136.3h0M310.8 150.6h0M307.1 118.0h0M310.7 154.9h0M312.5 155.0h0M312.8 155.6h0M306.9 151.0h0M313.4 163.4h0M308.9 156.1h0M314.8 148.3h0M306.3 151.2h0M307.7 156.4h0M310.7 139.4h0M309.3 153.4h0M309.7 158.3h0M306.7 136.1h0M305.1 147.4h0M304.6 132.3h0M307.9 162.0h0M308.2 141.8h0M311.5 153.0h0M311.1 153.7h0M314.1 151.7h0M314.0 156.6h0M306.4 148.5h0M309.7 160.7h0M314.1 134.2h0M311.7 152.3h0M311.2 157.5h0M304.7 161.2h0M313.2 152.5h0M313.9 152.3h0M306.1 141.9h0M309.2 139.3h0M313.5 145.5h0M311.3 149.1h0M313.9 133.5h0M314.2 155.4h0M305.2 141.5h0M310.0 127.1h0M307.8 151.5h0M311.8 157.9h0M307.3 159.0h0M306.0 156.8h0M307.2 133.0h0M309.5 131.4h0M304.9 141.6h0M310.9 158.3h0M311.4 156.4h0M306.3 142.9h0M313.3 154.4h0M309.7 148.2h0M309.5 164.1h0M440.8 172.6h0M437.1 165.3h0M437.4 147.6h0M441.3 166.0h0M432.7 166.7h0M436.6 157.1h0M431.5 168.7h0M430.7 173.7h0M432.8 175.3h0M437.6 170.5h0M440.6 166.4h0M440.7 169.9h0M437.5 156.7h0M438.7 170.3h0M438.3 159.9h0M434.9 154.3h0M440.5 175.4h0M431.8 175.5h0M431.1 155.5h0M429.6 175.7h0M434.6 154.3h0M440.7 157.0h0M438.5 172.3h0M435.8 166.3h0M436.9 140.0h0M431.6 153.3h0M438.8 175.0h0M434.3 170.6h0M440.0 168.3h0M437.7 156.6h0M440.4 166.7h0M439.9 169.2h0M435.9 134.5h0M433.6 133.4h0M430.9 171.2h0M432.8 163.1h0M430.2 168.2h0M432.6 142.8h0M433.5 167.2h0M306.8 130.8h0M306.8 115.1h0M307.4 137.5h0M307.8 130.3h0M306.9 137.7h0M308.1 138.0h0M308.0 125.5h0" stroke="#e0a840" stroke-width="2.4" stroke-linecap="round" fill="none"/>
<path d="M104.1 99.8h0M105.9 111.0h0M307.3 108.5h0M307.1 108.1h0M307.8 112.0h0M92.5 77.2h0M98.8 80.7h0M124.4 80.2h0M92.5 95.2h0M104.5 92.9h0M109.4 91.1h0M102.2 102.2h0M116.1 101.5h0M294.9 61.1h0M296.3 93.4h0M307.2 86.5h0M307.2 89.0h0M307.2 92.0h0M307.2 95.0h0M307.2 98.0h0M307.2 101.0h0M307.2 104.0h0M307.2 107.0h0M311.1 83.7h0M311.1 89.2h0" stroke="#c8962a" stroke-width="2.2" stroke-linecap="round" fill="none"/>
<path d="M139.4 137.2h0M133.5 149.4h0M133.9 152.5h0M135.2 131.6h0M152.0 152.1h0M133.2 156.3h0M156.4 145.2h0M131.1 152.8h0M142.1 156.2h0M150.5 147.5h0M146.2 144.6h0M151.4 156.4h0M130.0 146.7h0M148.2 149.5h0M149.3 148.5h0M139.3 115.8h0M136.9 137.4h0M152.2 157.2h0M151.3 156.6h0M145.7 140.1h0M150.2 158.6h0M148.7 145.7h0M136.6 138.8h0M151.5 151.1h0M145.6 146.0h0M141.3 141.7h0M132.9 156.1h0M154.0 151.4h0M150.7 156.6h0M144.2 134.5h0M135.9 138.5h0M142.6 138.5h0M148.4 154.9h0M131.2 155.5h0M140.9 152.7h0M149.3 127.0h0M141.4 155.4h0M159.0 145.8h0M141.0 154.5h0M152.6 155.2h0M145.7 147.9h0M156.9 143.5h0M130.6 148.7h0M143.7 155.2h0M155.1 155.9h0M144.1 121.7h0M144.6 148.8h0M154.6 142.7h0M152.1 156.3h0M131.1 143.5h0M132.2 127.3h0M132.5 129.8h0M131.5 140.7h0M151.2 155.3h0M131.5 139.9h0M142.4 151.7h0M159.8 131.1h0M134.2 156.8h0M137.7 157.7h0M145.2 153.4h0M155.9 140.5h0M146.0 154.3h0M143.8 154.1h0M147.4 150.2h0M157.5 152.9h0M145.9 152.6h0M146.8 154.5h0M138.1 123.8h0M151.2 136.5h0M147.6 144.3h0M157.9 157.1h0M142.9 149.0h0M131.3 120.4h0M157.6 152.7h0M153.9 152.5h0M150.1 140.4h0M157.1 148.0h0M136.8 141.1h0M139.4 156.1h0M141.3 153.0h0M136.6 143.7h0M132.7 151.1h0M151.7 155.2h0M158.1 154.1h0M152.4 149.5h0M156.7 135.5h0M131.4 158.5h0M131.9 148.5h0M132.7 146.2h0M153.5 147.6h0M147.2 152.9h0M141.1 154.6h0M144.8 147.4h0M133.4 150.5h0M134.8 144.0h0M145.1 155.8h0M135.8 150.1h0M158.2 155.6h0M153.6 149.0h0M141.7 157.4h0M138.6 128.4h0M131.1 147.3h0M150.6 135.3h0M140.1 143.7h0M143.7 114.8h0M158.1 158.2h0M137.2 127.1h0M134.4 154.9h0M136.5 155.8h0M153.6 153.3h0M152.4 140.7h0M135.8 133.8h0M155.3 141.8h0M132.6 133.6h0M158.9 148.1h0M147.6 145.6h0M154.6 132.9h0M158.7 154.6h0M159.0 140.3h0M137.4 117.3h0M135.8 146.7h0M137.0 147.2h0M157.1 148.0h0M151.2 158.5h0M153.4 132.3h0M158.1 135.2h0M149.5 123.4h0M130.0 152.8h0M154.3 155.8h0M148.0 144.0h0M140.5 145.0h0M148.5 158.3h0M150.9 156.8h0M317.6 158.6h0M320.5 154.8h0M319.6 155.6h0M328.6 143.0h0M335.4 162.0h0M330.0 158.2h0M334.2 130.6h0M323.0 140.0h0M325.3 159.2h0M332.3 147.1h0M327.1 124.0h0M318.1 145.6h0M317.9 141.7h0M331.4 146.5h0M324.4 154.4h0M327.1 156.4h0M324.5 149.7h0M318.4 154.5h0M335.0 136.6h0M327.1 160.5h0M319.8 153.0h0M332.5 156.0h0M322.9 157.6h0M330.9 157.7h0M322.2 144.8h0M324.1 160.7h0M320.6 161.8h0M330.4 159.6h0M329.5 154.1h0M316.3 131.6h0M319.2 142.1h0M321.6 161.2h0M334.5 156.9h0M320.8 158.6h0M318.4 160.4h0M327.2 162.0h0M331.2 150.1h0M334.6 148.3h0M330.4 130.7h0M325.6 125.6h0M331.2 139.8h0M321.7 158.1h0M323.7 159.0h0M326.9 145.7h0M319.5 147.5h0M316.8 149.2h0M319.4 149.7h0M325.7 161.0h0M331.1 156.0h0M335.7 121.6h0M320.1 158.4h0M322.7 144.6h0M327.7 126.4h0M333.3 155.9h0M330.2 157.9h0M330.7 151.8h0M328.9 152.9h0M330.6 161.9h0M325.8 156.2h0M334.3 160.0h0M334.0 140.0h0M321.6 160.0h0M316.3 138.4h0M326.6 155.0h0M329.7 162.1h0M334.6 147.4h0M317.6 147.4h0M334.1 162.0h0M317.5 146.0h0M321.1 149.5h0M330.0 155.3h0M334.4 133.3h0M331.0 146.9h0M324.2 158.1h0M321.4 146.4h0M333.3 146.1h0M330.1 153.3h0M327.7 142.8h0M321.3 148.0h0M316.8 146.7h0M332.3 126.2h0M335.0 159.3h0M318.2 147.0h0M321.2 129.8h0M320.0 154.8h0M322.6 157.1h0M317.6 146.3h0M332.1 151.3h0M330.1 160.4h0M331.1 152.8h0M317.0 161.5h0M318.8 137.8h0M444.6 166.0h0M446.2 160.6h0M444.5 166.6h0M447.5 166.8h0M444.4 161.8h0M450.1 163.0h0M450.1 168.4h0M445.3 141.2h0M449.0 168.9h0M446.0 167.9h0M453.9 172.0h0M445.7 170.1h0M447.5 159.1h0M447.6 149.0h0M444.8 148.8h0M447.9 154.8h0M447.4 172.0h0M452.9 166.4h0M451.0 166.8h0M450.9 132.9h0M451.2 128.2h0M446.4 135.0h0M452.3 151.1h0M447.9 169.6h0M446.4 166.6h0M447.3 166.4h0M448.4 143.6h0M450.3 141.6h0M452.6 170.0h0M449.4 152.1h0M451.4 166.3h0M449.2 165.6h0M450.9 144.4h0M443.9 156.0h0M446.6 167.8h0M446.9 148.2h0M135.3 140.8h0M135.2 151.8h0M134.7 132.8h0M135.7 122.0h0M135.4 127.2h0M135.3 118.0h0M135.6 138.0h0M134.7 147.0h0M135.1 130.0h0M135.0 138.3h0M135.3 134.4h0M135.4 131.3h0M134.8 151.2h0" stroke="#e6e648" stroke-width="2.4" stroke-linecap="round" fill="none"/>
<path d="M149.0 111.8h0M136.7 88.0h0M135.2 111.5h0M139.9 29.5h0M139.9 31.5h0M139.9 33.0h0M134.1 64.0h0M134.1 66.5h0M134.1 69.0h0M133.0 54.2h0M146.8 68.5h0M133.6 98.7h0M135.2 84.2h0M447.2 95.7h0" stroke="#cccc40" stroke-width="2.2" stroke-linecap="round" fill="none"/>
<path d="M182.7 159.1h0M185.1 145.4h0M167.4 153.4h0M185.6 149.4h0M187.4 159.2h0M179.6 137.1h0M175.4 153.5h0M187.9 160.0h0M164.2 156.8h0M174.6 155.4h0M179.9 150.2h0M175.0 160.4h0M181.0 147.5h0M168.2 149.9h0M181.5 154.7h0M165.3 131.9h0M172.7 142.1h0M185.4 155.3h0M168.2 123.1h0M189.9 146.0h0M166.6 141.3h0M165.9 157.7h0M164.2 149.1h0M187.4 141.0h0M161.2 143.9h0M177.5 148.1h0M175.9 154.7h0M178.7 150.6h0M185.6 147.9h0M190.0 153.7h0M182.7 135.4h0M172.0 161.1h0M164.5 153.4h0M178.8 159.6h0M174.6 160.2h0M179.2 156.4h0M188.2 147.5h0M184.6 138.3h0M185.8 152.6h0M162.0 152.8h0M186.2 160.7h0M189.0 158.9h0M170.0 159.5h0M188.6 146.6h0M170.8 139.6h0M184.0 129.4h0M179.6 160.9h0M177.0 133.2h0M165.9 157.2h0M180.3 156.5h0M188.8 159.7h0M188.1 149.7h0M168.8 144.6h0M174.0 148.8h0M181.5 140.3h0M178.6 156.2h0M178.8 155.0h0M164.4 159.3h0M189.7 147.2h0M169.2 140.8h0M170.1 157.7h0M181.5 158.0h0M188.6 161.2h0M186.4 148.4h0M180.6 153.3h0M190.1 158.9h0M180.4 155.5h0M161.5 143.0h0M164.9 118.5h0M171.9 154.6h0M172.4 142.5h0M167.6 159.2h0M171.9 149.7h0M175.0 139.8h0M162.6 153.4h0M162.0 159.9h0M164.5 158.1h0M164.6 157.6h0M175.0 130.1h0M342.6 160.0h0M352.8 149.9h0M350.0 154.9h0M339.1 159.2h0M350.8 119.2h0M347.7 142.0h0M345.9 153.4h0M356.1 148.3h0M356.5 157.2h0M340.2 130.5h0M343.5 158.3h0M339.8 140.9h0M339.8 152.0h0M346.2 161.7h0M345.1 160.8h0M339.4 159.1h0M357.1 159.6h0M347.6 146.0h0M353.7 139.6h0M345.1 153.1h0M341.6 150.9h0M341.1 164.8h0M346.5 138.7h0M338.3 133.5h0M350.4 133.9h0M348.0 156.1h0M342.6 134.5h0M356.6 138.1h0M354.9 151.0h0M350.2 164.5h0M345.9 161.7h0M348.0 153.5h0M341.5 135.1h0M347.2 145.2h0M355.9 140.2h0M351.4 154.5h0M340.2 159.2h0M357.0 160.7h0M340.3 160.4h0M338.8 150.0h0M351.8 152.4h0M347.2 164.4h0M337.8 163.9h0M357.3 162.7h0M347.3 161.3h0M347.3 163.2h0M352.5 157.4h0M340.9 118.3h0M341.4 159.1h0M342.9 138.1h0M344.3 124.6h0M352.2 154.2h0M341.4 150.1h0M349.4 155.8h0M352.9 156.8h0M343.8 149.7h0M352.4 161.7h0M354.2 142.5h0M356.6 146.6h0M353.5 164.9h0M352.4 152.9h0M352.3 160.8h0M340.1 153.6h0M354.9 146.9h0M352.4 132.5h0M346.5 165.3h0M344.7 146.8h0M355.1 163.2h0M337.8 143.5h0M357.3 134.9h0M344.0 141.9h0M355.7 155.2h0M343.0 164.8h0M348.1 155.7h0M350.1 140.5h0M351.4 162.4h0M348.6 156.0h0M342.1 158.1h0M350.6 156.2h0M348.3 125.9h0M356.2 137.1h0M352.6 163.5h0M348.0 143.3h0M338.7 154.4h0M348.8 141.6h0M344.4 158.1h0M352.2 163.9h0M348.0 158.1h0M343.3 164.3h0M357.0 152.4h0M352.1 162.5h0M338.1 162.5h0M357.0 147.4h0M348.8 144.3h0M347.9 146.3h0M350.6 157.6h0M353.9 160.0h0M346.6 162.9h0M351.3 149.3h0M356.0 164.9h0M343.4 155.5h0M341.0 160.0h0M462.7 149.5h0M457.5 148.2h0M464.6 159.0h0M457.5 149.8h0M457.5 156.2h0M457.6 156.0h0M457.1 152.8h0M465.8 156.8h0M461.5 147.5h0M457.3 125.1h0M459.3 158.8h0M461.7 156.5h0M463.3 135.9h0M462.9 156.5h0M461.8 156.8h0M461.2 156.5h0M458.6 158.2h0M458.5 156.9h0M460.4 157.7h0M460.8 157.2h0M458.9 160.7h0M456.5 154.1h0M457.7 154.1h0M460.8 150.8h0M465.2 148.0h0M464.6 144.4h0M457.8 137.0h0M463.7 154.8h0M465.4 160.6h0M461.3 140.8h0M457.2 156.4h0M465.6 156.0h0M461.8 141.1h0M461.7 153.1h0M458.7 114.4h0M457.1 149.1h0M466.1 134.2h0M461.6 150.3h0M458.8 128.9h0M462.4 160.3h0M466.3 148.5h0M463.6 147.2h0M455.5 159.9h0M177.4 112.6h0M178.0 114.8h0M176.9 118.2h0M178.3 126.6h0M177.5 123.6h0M343.2 114.5h0M342.7 113.5h0M342.3 125.5h0M343.7 113.7h0M343.0 112.3h0" stroke="#28cc28" stroke-width="2.4" stroke-linecap="round" fill="none"/>
<path d="M350.2 102.9h0M339.6 96.6h0M356.7 102.2h0M457.8 111.4h0M459.6 110.4h0M178.1 111.8h0M177.1 109.6h0M177.8 112.0h0M343.4 106.2h0M343.0 106.6h0M343.1 110.0h0M177.9 59.2h0M177.9 71.5h0M164.5 67.5h0M164.5 87.6h0M177.9 86.0h0M177.9 88.5h0M174.9 93.8h0M172.2 96.4h0M177.9 106.0h0M347.5 66.2h0M341.1 89.9h0M342.0 91.5h0M342.9 99.9h0M346.4 98.0h0M346.4 106.0h0M462.5 104.5h0M454.9 105.0h0" stroke="#26a626" stroke-width="2.2" stroke-linecap="round" fill="none"/>
<path d="M212.1 127.7h0M217.1 115.5h0M200.1 147.3h0M193.3 162.2h0M205.2 158.0h0M201.4 134.8h0M205.8 134.8h0M202.0 158.3h0M198.5 147.6h0M204.4 139.9h0M212.1 169.3h0M216.4 142.3h0M204.1 144.4h0M211.6 136.8h0M199.4 142.0h0M205.8 125.0h0M196.4 144.4h0M203.0 163.9h0M198.7 139.5h0M217.0 144.0h0M199.4 166.2h0M210.7 143.6h0M195.8 140.4h0M196.8 169.3h0M213.5 125.9h0M192.1 137.3h0M216.9 167.0h0M214.2 134.1h0M198.8 169.1h0M201.7 167.2h0M209.1 164.8h0M209.7 140.3h0M203.8 167.1h0M212.4 135.9h0M192.5 136.0h0M193.6 152.5h0M197.1 167.2h0M200.0 155.3h0M215.4 160.9h0M215.5 135.7h0M200.0 124.4h0M194.6 164.9h0M213.7 162.8h0M204.6 165.1h0M215.0 149.0h0M207.4 155.1h0M210.7 167.0h0M194.3 168.1h0M213.4 138.6h0M211.4 132.1h0M203.3 164.5h0M206.2 161.3h0M206.6 129.2h0M215.8 154.9h0M211.8 118.9h0M192.5 163.1h0M195.6 161.5h0M213.0 166.8h0M207.7 168.8h0M199.1 166.2h0M205.3 163.3h0M200.8 136.2h0M198.6 160.1h0M196.5 158.8h0M207.2 140.0h0M211.6 144.1h0M216.7 158.8h0M212.8 148.3h0M200.7 128.8h0M202.6 136.8h0M204.5 163.6h0M217.4 150.9h0M216.7 156.5h0M197.1 159.6h0M193.8 155.9h0M217.3 158.4h0M201.2 163.2h0M201.1 139.6h0M214.6 156.9h0M201.2 146.4h0M216.1 165.4h0M203.2 166.8h0M206.4 146.5h0M207.4 126.0h0M216.7 149.6h0M194.9 134.5h0M200.4 159.4h0M204.9 168.2h0M215.4 168.5h0M204.4 169.8h0M202.0 147.4h0M201.6 165.0h0M198.8 140.4h0M216.2 163.4h0M196.9 146.3h0M214.4 168.6h0M194.3 139.2h0M211.7 155.0h0M192.4 146.9h0M203.3 163.8h0M201.1 133.4h0M193.4 166.5h0M200.7 165.1h0M212.9 135.3h0M212.8 167.3h0M209.5 149.1h0M211.0 168.1h0M216.3 142.8h0M209.9 168.3h0M214.4 162.7h0M216.3 122.8h0M211.9 156.8h0M215.7 151.9h0M194.1 149.0h0M194.8 139.5h0M203.5 130.7h0M211.1 152.1h0M194.4 169.4h0M218.1 156.4h0M216.8 156.4h0M195.0 154.1h0M195.7 158.3h0M206.1 139.6h0M195.3 161.2h0M214.2 118.6h0M204.1 158.1h0M210.8 144.2h0M196.7 165.2h0M216.3 156.3h0M215.7 149.5h0M205.9 120.3h0M194.4 130.7h0M209.8 127.4h0M209.8 150.6h0M195.5 169.8h0M201.5 152.6h0M211.9 155.6h0M196.1 134.8h0M202.0 153.2h0M199.3 155.5h0M209.9 165.5h0M216.8 140.6h0M201.3 147.8h0M192.1 158.0h0M197.3 163.4h0M195.0 144.7h0M209.4 136.3h0M209.7 132.3h0M193.1 167.4h0M217.3 165.5h0M215.0 160.9h0M202.5 125.4h0M194.8 154.3h0M201.4 141.7h0M218.0 135.4h0M210.9 159.7h0M195.8 164.0h0M205.1 153.8h0M206.6 165.8h0M362.8 167.9h0M370.2 131.9h0M371.6 148.2h0M364.7 169.7h0M366.5 163.0h0M362.6 159.6h0M372.5 164.8h0M374.7 141.5h0M363.6 143.4h0M373.1 167.9h0M369.7 138.6h0M372.4 167.7h0M374.5 168.9h0M369.4 158.6h0M367.7 132.9h0M372.8 132.9h0M363.7 153.6h0M369.5 158.9h0M358.9 120.5h0M373.5 148.0h0M362.1 152.2h0M367.8 167.9h0M358.8 157.8h0M373.4 125.8h0M360.3 145.1h0M373.8 168.5h0M375.7 165.3h0M368.9 124.1h0M377.3 170.9h0M372.5 169.8h0M360.7 169.6h0M374.4 155.2h0M378.4 152.8h0M366.2 139.7h0M373.2 156.4h0M359.1 133.5h0M375.6 166.8h0M378.6 130.8h0M362.3 162.4h0M372.0 147.1h0M371.6 130.8h0M371.2 127.3h0M377.6 136.8h0M368.4 164.4h0M377.5 171.3h0M376.5 134.2h0M376.4 130.0h0M373.6 170.5h0M377.2 144.4h0M361.0 144.0h0M378.7 141.8h0M366.1 138.0h0M371.3 151.8h0M362.6 142.5h0M369.6 156.2h0M362.3 158.2h0M375.4 149.8h0M363.5 168.2h0M368.2 163.8h0M364.5 160.3h0M375.3 131.3h0M365.0 154.0h0M373.7 167.2h0M361.3 129.1h0M366.8 154.8h0M365.3 169.7h0M373.4 142.6h0M365.6 149.8h0M372.5 168.2h0M369.2 126.8h0M373.8 150.8h0M374.0 152.1h0M369.9 142.4h0M372.5 134.9h0M376.4 124.2h0M367.8 159.5h0M374.8 168.6h0M359.6 148.6h0M371.1 170.4h0M374.6 159.4h0M370.6 170.2h0M365.2 158.4h0M376.5 141.6h0M370.5 168.4h0M366.3 166.8h0M373.0 169.3h0M372.9 120.5h0M367.2 158.5h0M363.8 162.8h0M367.0 137.4h0M364.3 167.8h0M367.2 143.5h0M365.6 154.3h0M363.3 164.1h0M369.7 161.9h0M366.8 147.7h0M376.3 149.8h0M365.1 141.1h0M365.5 141.0h0M376.8 161.8h0M373.1 151.0h0M376.9 165.8h0M373.0 168.2h0M366.7 156.8h0M366.3 162.4h0M372.0 156.3h0M364.3 167.2h0M370.1 151.0h0M363.8 166.6h0M365.8 120.0h0M366.5 146.2h0M359.4 139.2h0M369.7 171.6h0M378.7 170.6h0M376.0 169.0h0M377.0 169.1h0M377.8 149.1h0M365.5 156.0h0M377.3 132.8h0M375.2 154.9h0M375.3 147.4h0M373.9 165.8h0M374.1 146.7h0M375.5 140.7h0M376.8 141.5h0M367.3 165.7h0M370.6 164.4h0M370.8 171.6h0M375.4 163.0h0M365.1 162.5h0M371.6 152.2h0M373.6 138.0h0M370.7 167.2h0M375.1 157.8h0M365.7 160.7h0M372.1 129.9h0M358.8 167.2h0M368.8 149.2h0M358.9 138.9h0M469.9 147.2h0M473.4 171.8h0M471.7 156.8h0M476.1 161.2h0M470.5 163.1h0M472.8 161.9h0M472.3 166.0h0M473.0 151.7h0M469.3 161.0h0M472.2 135.6h0M471.6 145.2h0M470.9 157.8h0M474.1 150.9h0M472.9 168.5h0M470.7 148.9h0M471.5 166.8h0M473.1 115.8h0M473.3 160.9h0M473.2 149.8h0M470.8 160.4h0M473.3 171.8h0M475.4 159.1h0M471.6 146.8h0M476.2 135.2h0M475.2 153.9h0M476.3 163.9h0M475.4 169.9h0M474.7 136.0h0M475.8 151.7h0M472.0 160.3h0M469.0 157.3h0M469.4 145.3h0M469.1 122.8h0M470.9 168.7h0M468.4 136.3h0M469.2 145.3h0M476.2 166.7h0M473.9 165.5h0M471.0 141.8h0M467.7 151.7h0M468.9 168.6h0M468.3 167.5h0M474.0 162.2h0M471.7 159.7h0M471.3 166.6h0M472.0 137.8h0M474.4 134.2h0M472.2 164.9h0M474.4 154.2h0M469.3 162.0h0M471.9 172.6h0M208.9 135.5h0M208.7 116.1h0M208.2 174.3h0M209.2 120.5h0M208.4 137.2h0M208.6 150.7h0M208.0 171.4h0M208.3 163.8h0M208.8 178.6h0M208.4 150.4h0M208.8 124.5h0M207.7 166.5h0M208.7 162.0h0M208.9 122.4h0M209.0 154.1h0M209.1 148.0h0M209.0 112.1h0M207.9 147.8h0M208.7 135.8h0M207.7 171.8h0M207.7 172.0h0M208.0 158.8h0M208.5 125.0h0M208.1 125.4h0M208.5 128.0h0M208.5 128.3h0M207.8 158.2h0M208.0 176.3h0M208.2 126.9h0M208.7 172.9h0" stroke="#0c0cc8" stroke-width="2.4" stroke-linecap="round" fill="none"/>
<path d="M213.9 108.2h0M206.3 95.7h0M199.1 99.3h0M207.4 94.6h0M371.1 101.4h0M360.2 92.9h0M367.9 107.9h0M362.3 91.8h0M368.5 108.9h0M476.2 101.4h0M472.7 111.9h0M208.6 17.7h0M208.6 19.5h0M208.6 21.0h0M208.6 28.8h0M208.6 34.0h0M208.6 37.0h0M208.6 48.4h0M208.6 62.0h0M208.6 64.0h0M208.6 74.0h0M208.6 84.0h0M208.6 88.0h0M208.6 92.0h0M208.6 96.0h0M208.6 100.0h0M208.6 104.0h0M208.6 108.0h0M191.1 65.7h0M191.1 88.8h0M191.1 101.5h0M363.7 76.1h0M371.8 86.9h0M363.7 93.4h0M375.9 99.6h0M375.9 105.4h0M468.2 83.7h0" stroke="#14148c" stroke-width="2.2" stroke-linecap="round" fill="none"/>
<path d="M230.7 168.5h0M227.0 153.9h0M232.8 170.9h0M229.1 134.0h0M224.9 140.8h0M228.8 173.0h0M235.5 166.9h0M244.5 171.0h0M222.4 160.1h0M228.0 135.5h0M228.3 169.4h0M244.5 171.4h0M236.8 160.3h0M231.1 174.2h0M225.5 151.7h0M231.4 152.2h0M229.2 150.3h0M244.6 152.8h0M237.1 168.8h0M223.9 162.2h0M232.1 165.3h0M237.2 166.7h0M235.6 153.4h0M231.0 152.4h0M234.3 153.5h0M228.9 168.4h0M244.9 144.7h0M226.4 148.0h0M224.0 147.4h0M242.8 167.0h0M241.2 151.2h0M233.4 147.2h0M224.7 136.7h0M221.2 165.2h0M245.4 170.3h0M240.3 174.3h0M243.7 136.5h0M221.8 127.1h0M235.5 144.2h0M223.1 155.1h0M231.6 156.4h0M238.9 137.0h0M225.9 160.9h0M225.1 121.1h0M232.8 170.6h0M220.0 153.6h0M238.9 129.1h0M238.6 156.9h0M230.0 167.7h0M223.4 124.4h0M232.7 154.3h0M224.6 157.2h0M228.6 140.4h0M236.1 169.9h0M229.3 161.7h0M225.1 171.6h0M219.4 158.2h0M226.0 149.8h0M233.9 163.7h0M239.8 173.9h0M242.0 141.5h0M237.2 147.8h0M230.8 163.8h0M222.0 171.7h0M225.2 142.6h0M224.2 165.7h0M224.3 170.1h0M233.5 172.7h0M232.6 149.3h0M219.8 127.0h0M220.4 152.4h0M234.3 166.8h0M225.1 152.6h0M227.4 151.7h0M225.4 166.1h0M236.4 173.8h0M236.3 159.4h0M223.4 164.5h0M241.4 127.0h0M227.2 168.2h0M229.1 144.5h0M237.7 151.4h0M220.3 153.3h0M230.2 127.5h0M244.3 164.2h0M230.9 173.3h0M239.6 137.1h0M230.0 137.0h0M230.1 160.7h0M234.1 170.1h0M234.0 140.7h0M219.7 167.8h0M236.0 145.7h0M227.2 153.0h0M236.3 161.6h0M222.7 159.2h0M226.9 145.3h0M227.4 164.1h0M238.4 171.9h0M224.1 173.0h0M232.5 173.2h0M222.6 167.2h0M236.3 147.0h0M229.7 148.1h0M220.5 170.6h0M230.9 158.2h0M233.0 173.2h0M244.0 122.8h0M234.1 171.8h0M220.2 170.8h0M243.4 173.1h0M234.8 158.8h0M221.0 135.7h0M224.5 168.4h0M223.0 142.9h0M225.7 146.3h0M220.6 154.6h0M221.9 120.5h0M235.1 144.0h0M237.6 164.6h0M226.6 163.9h0M221.6 153.5h0M222.4 167.8h0M232.6 159.4h0M229.2 170.0h0M381.9 156.7h0M386.1 163.8h0M391.2 166.2h0M393.1 159.9h0M387.1 162.1h0M383.6 164.2h0M396.4 163.6h0M395.6 160.6h0M384.7 160.4h0M390.9 166.7h0M392.1 158.0h0M396.3 146.0h0M388.1 144.7h0M396.7 167.6h0M385.1 158.9h0M381.7 163.5h0M387.7 158.2h0M385.4 165.6h0M385.9 143.8h0M387.1 163.4h0M383.6 167.7h0M394.9 153.8h0M394.0 151.1h0M383.4 163.3h0M389.8 166.9h0M390.8 166.0h0M383.5 159.5h0M384.2 157.8h0M393.1 166.8h0M383.5 162.1h0M387.1 162.9h0M383.9 159.3h0M390.0 154.7h0M381.9 150.3h0M392.2 154.6h0M387.9 166.2h0M395.3 153.3h0M484.0 141.1h0M486.9 135.1h0M485.8 156.9h0M482.7 164.9h0M480.0 146.7h0M485.6 162.1h0M486.2 145.3h0M479.1 147.6h0M486.9 171.0h0M482.5 164.3h0M483.3 164.0h0M478.8 137.5h0M482.2 153.0h0M479.9 160.4h0M479.5 155.0h0M478.4 151.4h0M480.0 144.6h0M479.2 158.0h0M479.5 156.6h0M482.3 157.1h0M487.4 159.1h0M479.3 155.6h0M484.5 161.9h0M481.7 143.5h0M478.8 162.6h0M483.2 132.0h0M480.4 170.0h0M483.7 170.3h0M484.4 146.0h0M482.0 160.7h0M486.4 156.9h0M480.7 153.9h0M478.3 161.4h0M483.5 168.2h0M480.1 161.7h0M481.9 165.4h0M486.6 163.5h0M486.8 170.7h0M481.6 149.0h0M483.2 137.0h0M483.9 158.7h0M482.1 141.6h0M480.3 146.5h0" stroke="#2f8454" stroke-width="2.4" stroke-linecap="round" fill="none"/>
<path d="M232.9 110.3h0M390.2 102.6h0M478.6 69.9h0" stroke="#2a6446" stroke-width="2.2" stroke-linecap="round" fill="none"/>
<path d="M265.8 158.7h0M266.8 156.5h0M249.1 151.3h0M264.7 165.7h0M266.0 129.3h0M266.1 149.0h0M254.1 152.7h0M262.6 144.1h0M252.7 158.4h0M250.0 137.4h0M262.9 158.4h0M249.7 147.1h0M264.6 170.7h0M249.3 170.1h0M248.5 152.4h0M249.0 158.1h0M262.1 146.5h0M256.3 169.1h0M247.6 170.9h0M252.4 137.9h0M263.3 155.2h0M259.1 161.3h0M249.8 168.9h0M253.6 171.6h0M266.8 166.0h0M257.9 170.3h0M268.1 142.0h0M257.2 165.1h0M258.4 157.4h0M250.5 166.4h0M269.7 169.3h0M255.7 144.7h0M249.7 157.6h0M263.9 139.1h0M257.1 168.5h0M267.9 147.8h0M268.2 170.6h0M268.1 165.7h0M266.4 157.0h0M255.5 145.9h0M251.8 140.7h0M257.6 169.4h0M251.4 134.8h0M255.5 169.1h0M260.1 148.9h0M268.6 164.3h0M248.4 165.2h0M260.3 170.3h0M269.5 171.2h0M254.9 168.5h0M259.4 171.6h0M252.6 169.2h0M258.2 168.2h0M269.4 166.7h0M250.5 169.6h0M264.9 149.5h0M252.3 138.9h0M257.0 166.2h0M248.4 158.1h0M262.7 170.3h0M268.0 156.5h0M259.6 164.6h0M263.8 163.9h0M253.3 165.6h0M251.0 140.8h0M257.3 155.8h0M254.9 146.7h0M260.6 163.2h0M255.9 163.7h0M259.1 164.1h0M249.2 171.4h0M252.2 128.1h0M257.1 144.8h0M264.9 162.1h0M264.4 167.7h0M265.6 128.6h0M251.6 136.9h0M259.5 159.9h0M252.8 150.1h0M264.5 165.6h0M257.1 156.9h0M259.2 165.7h0M254.0 169.6h0M249.1 171.0h0M263.7 165.8h0M250.8 149.3h0M249.5 149.6h0M252.7 160.0h0M253.4 147.3h0M262.9 163.9h0M247.2 168.4h0M256.8 140.5h0M247.4 142.9h0M260.2 171.1h0M253.9 162.0h0M402.3 174.2h0M412.1 177.2h0M406.3 169.1h0M412.9 129.9h0M407.3 178.2h0M402.8 177.7h0M407.3 115.7h0M407.0 172.5h0M411.6 178.9h0M408.2 141.4h0M413.5 173.1h0M404.4 168.8h0M410.0 166.3h0M409.2 178.4h0M409.8 179.2h0M404.9 177.3h0M413.5 174.4h0M407.4 178.6h0M407.4 161.0h0M407.0 175.5h0M405.5 173.8h0M401.2 172.2h0M406.0 168.9h0M405.7 163.1h0M410.3 178.1h0M403.1 153.8h0M405.7 169.6h0M410.8 121.9h0M408.4 153.2h0M412.3 168.9h0M406.7 156.0h0M405.5 172.5h0M410.1 166.3h0M405.8 180.2h0M408.5 177.2h0M412.9 171.5h0M407.9 170.1h0M406.4 174.2h0M409.1 171.4h0M402.1 178.6h0M405.6 178.0h0M403.2 178.3h0M409.0 166.2h0M400.1 179.6h0M491.7 155.0h0M493.4 164.8h0M493.5 139.7h0M494.3 156.0h0M493.8 169.8h0M489.4 172.3h0M491.8 151.8h0M488.7 159.9h0M494.1 159.6h0M489.2 127.7h0M488.8 161.0h0M488.8 166.2h0M490.5 172.4h0M494.0 167.2h0M489.3 159.6h0M493.1 167.1h0M494.5 170.7h0M491.3 168.3h0" stroke="#d87cd8" stroke-width="2.4" stroke-linecap="round" fill="none"/>
<path d="M262.6 87.6h0M491.8 98.0h0" stroke="#c070c0" stroke-width="2.2" stroke-linecap="round" fill="none"/>
<rect x="35.5" y="7.5" width="483.5" height="312" fill="none" stroke="#7a7a7a" stroke-width="1.1"/>
<line x1="31" y1="307.5" x2="35.5" y2="307.5" stroke="#7a7a7a"/>
<text transform="translate(26,307.5) rotate(-90)" text-anchor="middle" font-size="7" fill="#444">0</text>
<line x1="31" y1="262.6" x2="35.5" y2="262.6" stroke="#7a7a7a"/>
<text transform="translate(26,262.6) rotate(-90)" text-anchor="middle" font-size="7" fill="#444">1</text>
<line x1="31" y1="217.8" x2="35.5" y2="217.8" stroke="#7a7a7a"/>
<text transform="translate(26,217.8) rotate(-90)" text-anchor="middle" font-size="7" fill="#444">2</text>
<line x1="31" y1="172.9" x2="35.5" y2="172.9" stroke="#7a7a7a"/>
<text transform="translate(26,172.9) rotate(-90)" text-anchor="middle" font-size="7" fill="#444">3</text>
<line x1="31" y1="128.1" x2="35.5" y2="128.1" stroke="#7a7a7a"/>
<text transform="translate(26,128.1) rotate(-90)" text-anchor="middle" font-size="7" fill="#444">4</text>
<line x1="31" y1="83.2" x2="35.5" y2="83.2" stroke="#7a7a7a"/>
<text transform="translate(26,83.2) rotate(-90)" text-anchor="middle" font-size="7" fill="#444">5</text>
<line x1="31" y1="38.4" x2="35.5" y2="38.4" stroke="#7a7a7a"/>
<text transform="translate(26,38.4) rotate(-90)" text-anchor="middle" font-size="7" fill="#444">6</text>
<line x1="72" y1="319.5" x2="72" y2="323.5" stroke="#7a7a7a"/>
<line x1="110" y1="319.5" x2="110" y2="323.5" stroke="#7a7a7a"/>
<line x1="145" y1="319.5" x2="145" y2="323.5" stroke="#7a7a7a"/>
<line x1="175.5" y1="319.5" x2="175.5" y2="323.5" stroke="#7a7a7a"/>
<line x1="204.5" y1="319.5" x2="204.5" y2="323.5" stroke="#7a7a7a"/>
<line x1="232" y1="319.5" x2="232" y2="323.5" stroke="#7a7a7a"/>
<line x1="258" y1="319.5" x2="258" y2="323.5" stroke="#7a7a7a"/>
<line x1="281.75" y1="319.5" x2="281.75" y2="323.5" stroke="#7a7a7a"/>
<line x1="304.25" y1="319.5" x2="304.25" y2="323.5" stroke="#7a7a7a"/>
<line x1="326.25" y1="319.5" x2="326.25" y2="323.5" stroke="#7a7a7a"/>
<line x1="347.5" y1="319.5" x2="347.5" y2="323.5" stroke="#7a7a7a"/>
<line x1="368" y1="319.5" x2="368" y2="323.5" stroke="#7a7a7a"/>
<line x1="387.5" y1="319.5" x2="387.5" y2="323.5" stroke="#7a7a7a"/>
<line x1="405" y1="319.5" x2="405" y2="323.5" stroke="#7a7a7a"/>
<line x1="421.25" y1="319.5" x2="421.25" y2="323.5" stroke="#7a7a7a"/>
<line x1="436" y1="319.5" x2="436" y2="323.5" stroke="#7a7a7a"/>
<line x1="448.7" y1="319.5" x2="448.7" y2="323.5" stroke="#7a7a7a"/>
<line x1="460.8" y1="319.5" x2="460.8" y2="323.5" stroke="#7a7a7a"/>
<line x1="472" y1="319.5" x2="472" y2="323.5" stroke="#7a7a7a"/>
<line x1="481.9" y1="319.5" x2="481.9" y2="323.5" stroke="#7a7a7a"/>
<line x1="490.2" y1="319.5" x2="490.2" y2="323.5" stroke="#7a7a7a"/>
<line x1="498" y1="319.5" x2="498" y2="323.5" stroke="#7a7a7a"/>
<text x="72" y="334.5" text-anchor="middle" font-size="7" fill="#444">1</text>
<text x="110" y="334.5" text-anchor="middle" font-size="7" fill="#444">2</text>
<text x="145" y="334.5" text-anchor="middle" font-size="7" fill="#444">3</text>
<text x="175.5" y="334.5" text-anchor="middle" font-size="7" fill="#444">4</text>
<text x="204.5" y="334.5" text-anchor="middle" font-size="7" fill="#444">5</text>
<text x="232" y="334.5" text-anchor="middle" font-size="7" fill="#444">6</text>
<text x="258" y="334.5" text-anchor="middle" font-size="7" fill="#444">7</text>
<text x="281.75" y="334.5" text-anchor="middle" font-size="7" fill="#444">8</text>
<text x="304.25" y="334.5" text-anchor="middle" font-size="7" fill="#444">9</text>
<text x="326.25" y="334.5" text-anchor="middle" font-size="7" fill="#444">10</text>
<text x="347.5" y="334.5" text-anchor="middle" font-size="7" fill="#444">11</text>
<text x="368" y="334.5" text-anchor="middle" font-size="7" fill="#444">12</text>
<text x="387.5" y="334.5" text-anchor="middle" font-size="7" fill="#444">13</text>
<text x="405" y="334.5" text-anchor="middle" font-size="7" fill="#444">14</text>
<text x="421.25" y="334.5" text-anchor="middle" font-size="7" fill="#444">15</text>
<text x="436" y="334.5" text-anchor="middle" font-size="7" fill="#444">16</text>
<text x="448.7" y="334.5" text-anchor="middle" font-size="7" fill="#444">17</text>
<text x="472" y="334.5" text-anchor="middle" font-size="7" fill="#444">19</text>
<text x="490.2" y="334.5" text-anchor="middle" font-size="7" fill="#444">21</text>
<text x="269.5" y="353.6" text-anchor="middle" font-size="12.6" font-weight="bold">Chromosome</text>
<text transform="translate(10.8,159) rotate(-90)" text-anchor="middle" font-size="13" font-weight="bold">-log10 (p-value)</text>
<text x="0.3" y="9" font-size="13.5" font-weight="bold">A</text>
<text x="0" y="387" font-size="13.5" font-weight="bold">B</text>
<text x="292.4" y="391" text-anchor="middle" font-size="18" fill="#1a1a1a">CEU</text>
<text x="27.3" y="409.3" font-size="8" fill="#333">Plotted SNPs</text>
<g shape-rendering="crispEdges">
<rect x="78.1" y="402" width="429" height="8.2" fill="#3d3d3d"/>
<rect x="78.1" y="402" width="1.9" height="8.2" fill="#555"/>
<rect x="81.8" y="402" width="1.9" height="8.2" fill="#888"/>
<rect x="85.6" y="402" width="2.9" height="8.2" fill="#777"/>
<rect x="92.3" y="402" width="2.0" height="8.2" fill="#777"/>
<rect x="95.2" y="402" width="2.0" height="8.2" fill="#999"/>
<rect x="134.8" y="402" width="1.5" height="8.2" fill="#777"/>
<rect x="140.2" y="402" width="2.3" height="8.2" fill="#999"/>
<rect x="142.5" y="402" width="2.3" height="8.2" fill="#666"/>
<rect x="216.9" y="402" width="1.4" height="8.2" fill="#c4c4c4"/>
<rect x="83.7" y="402" width="1.9" height="8.2" fill="#c4c4c4"/>
<rect x="88.5" y="402" width="1.5" height="8.2" fill="#c4c4c4"/>
<rect x="94.3" y="402" width="0.9" height="8.2" fill="#c4c4c4"/>
<rect x="124.1" y="402" width="0.9" height="8.2" fill="#c4c4c4"/>
<rect x="125.5" y="402" width="1.5" height="8.2" fill="#c4c4c4"/>
<rect x="128.3" y="402" width="1.1" height="8.2" fill="#c4c4c4"/>
<rect x="131" y="402" width="0.7" height="8.2" fill="#c4c4c4"/>
<rect x="133.2" y="402" width="1.6" height="8.2" fill="#c4c4c4"/>
<rect x="136.3" y="402" width="2.3" height="8.2" fill="#c4c4c4"/>
<rect x="147" y="402" width="0.8" height="8.2" fill="#c4c4c4"/>
<rect x="187" y="402" width="1.6" height="8.2" fill="#c4c4c4"/>
<rect x="201" y="402" width="1.5" height="8.2" fill="#c4c4c4"/>
<rect x="236.2" y="402" width="0.8" height="8.2" fill="#c4c4c4"/>
<rect x="253.8" y="402" width="1.6" height="8.2" fill="#c4c4c4"/>
<rect x="267.7" y="402" width="1.5" height="8.2" fill="#c4c4c4"/>
<rect x="272.3" y="402" width="1.5" height="8.2" fill="#c4c4c4"/>
<rect x="283.7" y="402" width="0.8" height="8.2" fill="#c4c4c4"/>
<rect x="292.9" y="402" width="2.3" height="8.2" fill="#c4c4c4"/>
<rect x="303.7" y="402" width="2.3" height="8.2" fill="#c4c4c4"/>
<rect x="385.1" y="402" width="1.5" height="8.2" fill="#c4c4c4"/>
<rect x="404.3" y="402" width="1.5" height="8.2" fill="#c4c4c4"/>
<rect x="413.5" y="402" width="2.3" height="8.2" fill="#c4c4c4"/>
<rect x="419.7" y="402" width="2.3" height="8.2" fill="#c4c4c4"/>
<rect x="424.3" y="402" width="1.5" height="8.2" fill="#c4c4c4"/>
<rect x="472.6" y="402" width="1.6" height="8.2" fill="#c4c4c4"/>
<rect x="101.5" y="402" width="2.4" height="8.2" fill="#fff"/>
<rect x="168.6" y="402" width="1.6" height="8.2" fill="#fff"/>
<rect x="203.2" y="402" width="3.0" height="8.2" fill="#fff"/>
<rect x="231.5" y="402" width="3.1" height="8.2" fill="#fff"/>
<rect x="277" y="402" width="1.0" height="8.2" fill="#fff"/>
<rect x="313" y="402" width="1.5" height="8.2" fill="#fff"/>
<rect x="337.5" y="402" width="2.3" height="8.2" fill="#fff"/>
<rect x="368.9" y="402" width="3.9" height="8.2" fill="#fff"/>
<rect x="398.2" y="402" width="2.3" height="8.2" fill="#fff"/>
<rect x="448.8" y="402" width="2.3" height="8.2" fill="#fff"/>
<rect x="488" y="402" width="1.5" height="8.2" fill="#fff"/>
<rect x="495.7" y="402" width="2.3" height="8.2" fill="#fff"/>
<rect x="150" y="402" width="0.8" height="8.2" fill="#6a6a6a"/>
<rect x="153" y="402" width="0.8" height="8.2" fill="#6a6a6a"/>
<rect x="158" y="402" width="0.8" height="8.2" fill="#6a6a6a"/>
<rect x="163" y="402" width="0.8" height="8.2" fill="#6a6a6a"/>
<rect x="175" y="402" width="0.8" height="8.2" fill="#6a6a6a"/>
<rect x="180" y="402" width="0.8" height="8.2" fill="#6a6a6a"/>
<rect x="184" y="402" width="0.8" height="8.2" fill="#6a6a6a"/>
<rect x="192" y="402" width="0.8" height="8.2" fill="#6a6a6a"/>
<rect x="196" y="402" width="0.8" height="8.2" fill="#6a6a6a"/>
<rect x="210.8" y="402" width="0.8" height="8.2" fill="#6a6a6a"/>
<rect x="214.6" y="402" width="0.8" height="8.2" fill="#6a6a6a"/>
<rect x="222" y="402" width="0.8" height="8.2" fill="#6a6a6a"/>
<rect x="226" y="402" width="0.8" height="8.2" fill="#6a6a6a"/>
<rect x="240" y="402" width="0.8" height="8.2" fill="#6a6a6a"/>
<rect x="245" y="402" width="0.8" height="8.2" fill="#6a6a6a"/>
<rect x="249" y="402" width="0.8" height="8.2" fill="#6a6a6a"/>
<rect x="258" y="402" width="0.8" height="8.2" fill="#6a6a6a"/>
<rect x="262" y="402" width="0.8" height="8.2" fill="#6a6a6a"/>
<rect x="265" y="402" width="0.8" height="8.2" fill="#6a6a6a"/>
<rect x="281" y="402" width="0.8" height="8.2" fill="#6a6a6a"/>
<rect x="289" y="402" width="0.8" height="8.2" fill="#6a6a6a"/>
<rect x="291" y="402" width="0.8" height="8.2" fill="#6a6a6a"/>
<rect x="297.5" y="402" width="0.8" height="8.2" fill="#6a6a6a"/>
<rect x="300.5" y="402" width="0.8" height="8.2" fill="#6a6a6a"/>
<rect x="308" y="402" width="0.8" height="8.2" fill="#6a6a6a"/>
<rect x="311" y="402" width="0.8" height="8.2" fill="#6a6a6a"/>
<rect x="319" y="402" width="0.8" height="8.2" fill="#6a6a6a"/>
<rect x="323" y="402" width="0.8" height="8.2" fill="#6a6a6a"/>
<rect x="327" y="402" width="0.8" height="8.2" fill="#6a6a6a"/>
<rect x="330" y="402" width="0.8" height="8.2" fill="#6a6a6a"/>
<rect x="334" y="402" width="0.8" height="8.2" fill="#6a6a6a"/>
<rect x="343" y="402" width="0.8" height="8.2" fill="#6a6a6a"/>
<rect x="346" y="402" width="0.8" height="8.2" fill="#6a6a6a"/>
<rect x="351" y="402" width="0.8" height="8.2" fill="#6a6a6a"/>
<rect x="355" y="402" width="0.8" height="8.2" fill="#6a6a6a"/>
<rect x="359" y="402" width="0.8" height="8.2" fill="#6a6a6a"/>
<rect x="363" y="402" width="0.8" height="8.2" fill="#6a6a6a"/>
<rect x="375" y="402" width="0.8" height="8.2" fill="#6a6a6a"/>
<rect x="380" y="402" width="0.8" height="8.2" fill="#6a6a6a"/>
<rect x="390" y="402" width="0.8" height="8.2" fill="#6a6a6a"/>
<rect x="393" y="402" width="0.8" height="8.2" fill="#6a6a6a"/>
<rect x="408" y="402" width="0.8" height="8.2" fill="#6a6a6a"/>
<rect x="411" y="402" width="0.8" height="8.2" fill="#6a6a6a"/>
<rect x="436" y="402" width="0.8" height="8.2" fill="#6a6a6a"/>
<rect x="440" y="402" width="0.8" height="8.2" fill="#6a6a6a"/>
<rect x="443" y="402" width="0.8" height="8.2" fill="#6a6a6a"/>
<rect x="446" y="402" width="0.8" height="8.2" fill="#6a6a6a"/>
<rect x="454" y="402" width="0.8" height="8.2" fill="#6a6a6a"/>
<rect x="459" y="402" width="0.8" height="8.2" fill="#6a6a6a"/>
<rect x="466" y="402" width="0.8" height="8.2" fill="#6a6a6a"/>
<rect x="477" y="402" width="0.8" height="8.2" fill="#6a6a6a"/>
<rect x="482" y="402" width="0.8" height="8.2" fill="#6a6a6a"/>
<rect x="492" y="402" width="0.8" height="8.2" fill="#6a6a6a"/>
<rect x="502" y="402" width="0.8" height="8.2" fill="#6a6a6a"/>
</g>
<rect x="79" y="423" width="428.7" height="205.2" fill="none" stroke="#6e6e6e" stroke-width="1.1"/>
<line x1="73" y1="619.0" x2="79" y2="619.0" stroke="#6e6e6e"/>
<text x="68" y="622.2" text-anchor="end" font-size="9" fill="#222">0</text>
<line x1="73" y1="581.5" x2="79" y2="581.5" stroke="#6e6e6e"/>
<text x="68" y="584.7" text-anchor="end" font-size="9" fill="#222">2</text>
<line x1="73" y1="544.1" x2="79" y2="544.1" stroke="#6e6e6e"/>
<text x="68" y="547.3" text-anchor="end" font-size="9" fill="#222">4</text>
<line x1="73" y1="506.6" x2="79" y2="506.6" stroke="#6e6e6e"/>
<text x="68" y="509.8" text-anchor="end" font-size="9" fill="#222">6</text>
<line x1="73" y1="469.2" x2="79" y2="469.2" stroke="#6e6e6e"/>
<text x="68" y="472.4" text-anchor="end" font-size="9" fill="#222">8</text>
<line x1="73" y1="431.7" x2="79" y2="431.7" stroke="#6e6e6e"/>
<text x="68" y="434.9" text-anchor="end" font-size="9" fill="#222">10</text>
<text transform="translate(36.6,549) rotate(-90)" text-anchor="middle" font-size="12.5" fill="#111" stroke="#111" stroke-width="0.3">-log10 (p-value)</text>
<rect x="83" y="427" width="36.3" height="85.5" fill="#fff" stroke="#8a8a8a" stroke-width="0.9"/>
<text x="98" y="438.5" font-size="8.5" font-weight="bold" fill="#222">r</text><text x="101.4" y="433.6" font-size="5" fill="#333">2</text>
<rect x="88" y="441.5" width="9.2" height="13.9" fill="#e31a1c" stroke="#333" stroke-width="0.5"/>
<rect x="88" y="455.4" width="9.2" height="13.1" fill="#f5a21b" stroke="#333" stroke-width="0.5"/>
<rect x="88" y="468.5" width="9.2" height="13.2" fill="#1ee81e" stroke="#333" stroke-width="0.5"/>
<rect x="88" y="481.7" width="9.2" height="13.1" fill="#8fc8f0" stroke="#333" stroke-width="0.5"/>
<rect x="88" y="494.8" width="9.2" height="13.5" fill="#00007a" stroke="#333" stroke-width="0.5"/>
<line x1="97.2" y1="455.4" x2="101" y2="455.4" stroke="#555" stroke-width="0.8"/>
<text x="103.2" y="458.0" font-size="7.3" fill="#555">0.8</text>
<line x1="97.2" y1="468.5" x2="101" y2="468.5" stroke="#555" stroke-width="0.8"/>
<text x="103.2" y="471.1" font-size="7.3" fill="#555">0.6</text>
<line x1="97.2" y1="481.7" x2="101" y2="481.7" stroke="#555" stroke-width="0.8"/>
<text x="103.2" y="484.3" font-size="7.3" fill="#555">0.4</text>
<line x1="97.2" y1="494.8" x2="101" y2="494.8" stroke="#555" stroke-width="0.8"/>
<text x="103.2" y="497.4" font-size="7.3" fill="#555">0.2</text>
<style>circle{stroke-width:0.6}.n{fill:#14146e;stroke:#05052e}.g{fill:#8a8a8a;stroke:#555}.l{fill:#a6d2f2;stroke:#4a6a8a}.e{fill:#2ee82e;stroke:#1a6a1a}.o{fill:#f2a83a;stroke:#7a5010}.r{fill:#d81818;stroke:#701010}</style>
<g>
<circle class="n" cx="313.6" cy="607.6" r="3.25"/>
<circle class="n" cx="422.0" cy="615.8" r="3.25"/>
<circle class="n" cx="207.1" cy="614.8" r="3.25"/>
<circle class="n" cx="165.1" cy="617.9" r="3.25"/>
<circle class="n" cx="139.8" cy="610.2" r="3.25"/>
<circle class="n" cx="189.7" cy="616.3" r="3.25"/>
<circle class="n" cx="215.2" cy="614.3" r="3.25"/>
<circle class="n" cx="195.9" cy="584.6" r="3.25"/>
<circle class="n" cx="225.5" cy="605.2" r="3.25"/>
<circle class="n" cx="218.0" cy="589.9" r="3.25"/>
<circle class="n" cx="109.7" cy="617.9" r="3.25"/>
<circle class="n" cx="369.3" cy="593.8" r="3.25"/>
<circle class="n" cx="113.4" cy="599.0" r="3.25"/>
<circle class="n" cx="402.9" cy="607.3" r="3.25"/>
<circle class="n" cx="115.6" cy="600.0" r="3.25"/>
<circle class="n" cx="121.0" cy="618.0" r="3.25"/>
<circle class="n" cx="386.4" cy="618.0" r="3.25"/>
<circle class="l" cx="501.4" cy="604.2" r="3.25"/>
<circle class="n" cx="416.3" cy="618.1" r="3.25"/>
<circle class="n" cx="113.7" cy="606.9" r="3.25"/>
<circle class="n" cx="336.1" cy="617.1" r="3.25"/>
<circle class="n" cx="269.8" cy="613.4" r="3.25"/>
<circle class="n" cx="414.6" cy="616.5" r="3.25"/>
<circle class="n" cx="496.2" cy="617.9" r="3.25"/>
<circle class="n" cx="219.8" cy="617.4" r="3.25"/>
<circle class="n" cx="101.5" cy="617.9" r="3.25"/>
<circle class="n" cx="350.0" cy="617.2" r="3.25"/>
<circle class="n" cx="101.8" cy="617.3" r="3.25"/>
<circle class="g" cx="380.0" cy="596.4" r="3.25"/>
<circle class="g" cx="369.5" cy="617.7" r="3.25"/>
<circle class="n" cx="277.9" cy="617.7" r="3.25"/>
<circle class="n" cx="368.5" cy="603.5" r="3.25"/>
<circle class="n" cx="88.8" cy="608.6" r="3.25"/>
<circle class="n" cx="406.0" cy="606.2" r="3.25"/>
<circle class="n" cx="418.2" cy="601.3" r="3.25"/>
<circle class="n" cx="422.5" cy="615.1" r="3.25"/>
<circle class="n" cx="239.1" cy="611.2" r="3.25"/>
<circle class="n" cx="457.1" cy="617.2" r="3.25"/>
<circle class="n" cx="481.3" cy="607.1" r="3.25"/>
<circle class="n" cx="306.1" cy="615.0" r="3.25"/>
<circle class="n" cx="488.2" cy="613.6" r="3.25"/>
<circle class="n" cx="151.2" cy="613.3" r="3.25"/>
<circle class="g" cx="251.0" cy="615.5" r="3.25"/>
<circle class="n" cx="242.3" cy="608.0" r="3.25"/>
<circle class="n" cx="110.3" cy="618.0" r="3.25"/>
<circle class="n" cx="90.4" cy="614.6" r="3.25"/>
<circle class="n" cx="117.5" cy="606.7" r="3.25"/>
<circle class="n" cx="347.9" cy="607.6" r="3.25"/>
<circle class="n" cx="261.5" cy="598.5" r="3.25"/>
<circle class="n" cx="326.1" cy="618.0" r="3.25"/>
<circle class="n" cx="84.7" cy="617.7" r="3.25"/>
<circle class="n" cx="430.6" cy="617.4" r="3.25"/>
<circle class="n" cx="98.6" cy="602.3" r="3.25"/>
<circle class="l" cx="444.0" cy="606.1" r="3.25"/>
<circle class="n" cx="205.8" cy="617.1" r="3.25"/>
<circle class="n" cx="204.1" cy="616.2" r="3.25"/>
<circle class="n" cx="167.2" cy="609.9" r="3.25"/>
<circle class="n" cx="182.7" cy="614.8" r="3.25"/>
<circle class="n" cx="184.3" cy="600.8" r="3.25"/>
<circle class="n" cx="252.0" cy="617.2" r="3.25"/>
<circle class="n" cx="402.4" cy="618.0" r="3.25"/>
<circle class="n" cx="416.8" cy="610.8" r="3.25"/>
<circle class="g" cx="344.4" cy="611.8" r="3.25"/>
<circle class="n" cx="213.7" cy="590.0" r="3.25"/>
<circle class="n" cx="179.7" cy="580.3" r="3.25"/>
<circle class="n" cx="283.3" cy="616.4" r="3.25"/>
<circle class="n" cx="109.6" cy="610.4" r="3.25"/>
<circle class="l" cx="415.7" cy="602.4" r="3.25"/>
<circle class="n" cx="368.5" cy="609.2" r="3.25"/>
<circle class="n" cx="212.1" cy="580.5" r="3.25"/>
<circle class="n" cx="413.1" cy="617.8" r="3.25"/>
<circle class="n" cx="207.2" cy="617.6" r="3.25"/>
<circle class="n" cx="455.5" cy="610.6" r="3.25"/>
<circle class="n" cx="277.4" cy="601.6" r="3.25"/>
<circle class="n" cx="433.0" cy="611.2" r="3.25"/>
<circle class="n" cx="172.1" cy="571.4" r="3.25"/>
<circle class="n" cx="115.2" cy="611.2" r="3.25"/>
<circle class="n" cx="91.4" cy="611.9" r="3.25"/>
<circle class="n" cx="337.4" cy="617.9" r="3.25"/>
<circle class="n" cx="266.9" cy="606.8" r="3.25"/>
<circle class="n" cx="216.2" cy="605.2" r="3.25"/>
<circle class="n" cx="315.1" cy="607.5" r="3.25"/>
<circle class="n" cx="366.7" cy="609.8" r="3.25"/>
<circle class="n" cx="350.3" cy="607.8" r="3.25"/>
<circle class="n" cx="129.9" cy="608.5" r="3.25"/>
<circle class="n" cx="166.2" cy="615.4" r="3.25"/>
<circle class="n" cx="204.2" cy="616.9" r="3.25"/>
<circle class="n" cx="168.2" cy="594.1" r="3.25"/>
<circle class="n" cx="204.0" cy="591.6" r="3.25"/>
<circle class="n" cx="229.2" cy="609.3" r="3.25"/>
<circle class="n" cx="373.3" cy="616.7" r="3.25"/>
<circle class="n" cx="212.7" cy="581.8" r="3.25"/>
<circle class="l" cx="494.2" cy="608.7" r="3.25"/>
<circle class="n" cx="307.8" cy="611.0" r="3.25"/>
<circle class="n" cx="113.9" cy="599.8" r="3.25"/>
<circle class="n" cx="203.9" cy="614.8" r="3.25"/>
<circle class="n" cx="347.8" cy="606.6" r="3.25"/>
<circle class="n" cx="156.2" cy="616.1" r="3.25"/>
<circle class="l" cx="411.8" cy="605.7" r="3.25"/>
<circle class="n" cx="165.2" cy="604.2" r="3.25"/>
<circle class="n" cx="128.1" cy="608.9" r="3.25"/>
<circle class="n" cx="321.5" cy="614.8" r="3.25"/>
<circle class="n" cx="375.4" cy="615.1" r="3.25"/>
<circle class="l" cx="436.7" cy="608.7" r="3.25"/>
<circle class="n" cx="152.3" cy="614.7" r="3.25"/>
<circle class="n" cx="391.1" cy="614.1" r="3.25"/>
<circle class="n" cx="129.6" cy="617.2" r="3.25"/>
<circle class="n" cx="169.2" cy="601.1" r="3.25"/>
<circle class="g" cx="164.4" cy="607.5" r="3.25"/>
<circle class="n" cx="190.4" cy="617.9" r="3.25"/>
<circle class="n" cx="331.6" cy="617.7" r="3.25"/>
<circle class="n" cx="158.0" cy="598.0" r="3.25"/>
<circle class="n" cx="394.3" cy="618.0" r="3.25"/>
<circle class="l" cx="501.1" cy="601.9" r="3.25"/>
<circle class="n" cx="98.7" cy="616.4" r="3.25"/>
<circle class="n" cx="432.4" cy="611.0" r="3.25"/>
<circle class="n" cx="174.8" cy="605.1" r="3.25"/>
<circle class="n" cx="383.4" cy="617.3" r="3.25"/>
<circle class="n" cx="152.6" cy="599.0" r="3.25"/>
<circle class="n" cx="168.5" cy="618.0" r="3.25"/>
<circle class="n" cx="296.9" cy="614.3" r="3.25"/>
<circle class="n" cx="286.5" cy="608.6" r="3.25"/>
<circle class="n" cx="308.7" cy="604.8" r="3.25"/>
<circle class="n" cx="89.0" cy="613.8" r="3.25"/>
<circle class="n" cx="112.8" cy="613.3" r="3.25"/>
<circle class="n" cx="103.4" cy="616.1" r="3.25"/>
<circle class="n" cx="415.4" cy="614.0" r="3.25"/>
<circle class="n" cx="170.0" cy="575.4" r="3.25"/>
<circle class="n" cx="463.4" cy="615.8" r="3.25"/>
<circle class="n" cx="290.4" cy="596.2" r="3.25"/>
<circle class="n" cx="418.6" cy="616.9" r="3.25"/>
<circle class="n" cx="466.3" cy="612.8" r="3.25"/>
<circle class="n" cx="180.0" cy="617.7" r="3.25"/>
<circle class="n" cx="134.4" cy="616.3" r="3.25"/>
<circle class="n" cx="413.1" cy="616.6" r="3.25"/>
<circle class="n" cx="378.1" cy="598.1" r="3.25"/>
<circle class="n" cx="421.1" cy="617.0" r="3.25"/>
<circle class="n" cx="108.6" cy="614.3" r="3.25"/>
<circle class="l" cx="496.1" cy="610.1" r="3.25"/>
<circle class="n" cx="134.1" cy="597.9" r="3.25"/>
<circle class="n" cx="446.5" cy="614.7" r="3.25"/>
<circle class="n" cx="219.4" cy="607.9" r="3.25"/>
<circle class="n" cx="218.7" cy="605.9" r="3.25"/>
<circle class="n" cx="304.3" cy="614.4" r="3.25"/>
<circle class="n" cx="440.4" cy="614.7" r="3.25"/>
<circle class="l" cx="393.8" cy="604.5" r="3.25"/>
<circle class="n" cx="371.0" cy="605.7" r="3.25"/>
<circle class="n" cx="135.9" cy="616.7" r="3.25"/>
<circle class="n" cx="280.2" cy="609.7" r="3.25"/>
<circle class="n" cx="205.9" cy="604.4" r="3.25"/>
<circle class="n" cx="203.0" cy="594.5" r="3.25"/>
<circle class="n" cx="179.6" cy="594.4" r="3.25"/>
<circle class="n" cx="251.4" cy="593.1" r="3.25"/>
<circle class="n" cx="322.6" cy="609.6" r="3.25"/>
<circle class="n" cx="120.1" cy="617.5" r="3.25"/>
<circle class="n" cx="184.7" cy="611.4" r="3.25"/>
<circle class="n" cx="345.6" cy="615.2" r="3.25"/>
<circle class="n" cx="230.9" cy="597.6" r="3.25"/>
<circle class="n" cx="174.4" cy="618.1" r="3.25"/>
<circle class="l" cx="420.0" cy="602.5" r="3.25"/>
<circle class="n" cx="187.1" cy="613.0" r="3.25"/>
<circle class="n" cx="198.0" cy="595.3" r="3.25"/>
<circle class="n" cx="465.2" cy="615.7" r="3.25"/>
<circle class="n" cx="194.6" cy="616.7" r="3.25"/>
<circle class="n" cx="82.3" cy="605.4" r="3.25"/>
<circle class="n" cx="173.0" cy="600.1" r="3.25"/>
<circle class="n" cx="180.6" cy="611.3" r="3.25"/>
<circle class="n" cx="203.3" cy="597.4" r="3.25"/>
<circle class="n" cx="199.9" cy="615.9" r="3.25"/>
<circle class="n" cx="220.1" cy="608.2" r="3.25"/>
<circle class="n" cx="280.5" cy="603.3" r="3.25"/>
<circle class="n" cx="437.2" cy="616.7" r="3.25"/>
<circle class="n" cx="413.7" cy="611.5" r="3.25"/>
<circle class="n" cx="268.0" cy="609.1" r="3.25"/>
<circle class="n" cx="351.9" cy="598.1" r="3.25"/>
<circle class="n" cx="293.9" cy="599.9" r="3.25"/>
<circle class="n" cx="425.5" cy="615.1" r="3.25"/>
<circle class="n" cx="357.9" cy="609.9" r="3.25"/>
<circle class="n" cx="156.8" cy="606.1" r="3.25"/>
<circle class="l" cx="398.2" cy="594.9" r="3.25"/>
<circle class="n" cx="307.1" cy="616.8" r="3.25"/>
<circle class="n" cx="157.3" cy="617.8" r="3.25"/>
<circle class="n" cx="99.2" cy="617.6" r="3.25"/>
<circle class="n" cx="173.3" cy="610.9" r="3.25"/>
<circle class="n" cx="212.4" cy="576.1" r="3.25"/>
<circle class="n" cx="350.5" cy="618.0" r="3.25"/>
<circle class="n" cx="501.7" cy="606.0" r="3.25"/>
<circle class="l" cx="451.3" cy="602.1" r="3.25"/>
<circle class="n" cx="448.3" cy="617.4" r="3.25"/>
<circle class="n" cx="277.1" cy="603.4" r="3.25"/>
<circle class="n" cx="212.4" cy="577.4" r="3.25"/>
<circle class="n" cx="487.2" cy="614.0" r="3.25"/>
<circle class="n" cx="434.7" cy="618.0" r="3.25"/>
<circle class="n" cx="171.5" cy="608.9" r="3.25"/>
<circle class="l" cx="393.1" cy="594.8" r="3.25"/>
<circle class="n" cx="275.2" cy="584.7" r="3.25"/>
<circle class="n" cx="360.9" cy="618.0" r="3.25"/>
<circle class="n" cx="103.1" cy="607.3" r="3.25"/>
<circle class="n" cx="92.2" cy="612.1" r="3.25"/>
<circle class="n" cx="301.7" cy="617.5" r="3.25"/>
<circle class="n" cx="236.8" cy="603.7" r="3.25"/>
<circle class="n" cx="363.5" cy="617.6" r="3.25"/>
<circle class="n" cx="371.2" cy="611.5" r="3.25"/>
<circle class="l" cx="416.0" cy="599.6" r="3.25"/>
<circle class="n" cx="183.4" cy="607.3" r="3.25"/>
<circle class="n" cx="200.5" cy="579.3" r="3.25"/>
<circle class="n" cx="149.7" cy="610.7" r="3.25"/>
<circle class="n" cx="337.0" cy="606.7" r="3.25"/>
<circle class="n" cx="443.8" cy="612.3" r="3.25"/>
<circle class="n" cx="191.1" cy="595.5" r="3.25"/>
<circle class="n" cx="177.6" cy="580.8" r="3.25"/>
<circle class="n" cx="350.7" cy="606.0" r="3.25"/>
<circle class="n" cx="337.4" cy="605.5" r="3.25"/>
<circle class="n" cx="254.8" cy="609.2" r="3.25"/>
<circle class="n" cx="180.5" cy="591.0" r="3.25"/>
<circle class="n" cx="158.2" cy="610.5" r="3.25"/>
<circle class="n" cx="480.4" cy="615.6" r="3.25"/>
<circle class="n" cx="207.9" cy="573.5" r="3.25"/>
<circle class="n" cx="394.2" cy="608.0" r="3.25"/>
<circle class="n" cx="132.0" cy="616.1" r="3.25"/>
<circle class="n" cx="451.4" cy="607.3" r="3.25"/>
<circle class="n" cx="285.2" cy="598.7" r="3.25"/>
<circle class="n" cx="309.6" cy="587.8" r="3.25"/>
<circle class="n" cx="373.5" cy="605.7" r="3.25"/>
<circle class="n" cx="270.1" cy="616.3" r="3.25"/>
<circle class="n" cx="194.8" cy="616.4" r="3.25"/>
<circle class="n" cx="243.3" cy="611.5" r="3.25"/>
<circle class="n" cx="177.4" cy="611.6" r="3.25"/>
<circle class="g" cx="500.4" cy="598.5" r="3.25"/>
<circle class="n" cx="296.6" cy="609.1" r="3.25"/>
<circle class="n" cx="104.4" cy="616.6" r="3.25"/>
<circle class="n" cx="97.4" cy="617.3" r="3.25"/>
<circle class="n" cx="367.1" cy="616.3" r="3.25"/>
<circle class="l" cx="483.9" cy="601.4" r="3.25"/>
<circle class="n" cx="312.0" cy="590.3" r="3.25"/>
<circle class="n" cx="453.4" cy="613.6" r="3.25"/>
<circle class="n" cx="352.0" cy="613.6" r="3.25"/>
<circle class="n" cx="289.5" cy="590.9" r="3.25"/>
<circle class="l" cx="377.7" cy="610.3" r="3.25"/>
<circle class="n" cx="281.6" cy="610.6" r="3.25"/>
<circle class="n" cx="303.2" cy="602.8" r="3.25"/>
<circle class="n" cx="441.4" cy="602.4" r="3.25"/>
<circle class="n" cx="179.5" cy="597.7" r="3.25"/>
<circle class="n" cx="467.4" cy="614.3" r="3.25"/>
<circle class="n" cx="394.9" cy="615.7" r="3.25"/>
<circle class="n" cx="309.0" cy="612.9" r="3.25"/>
<circle class="n" cx="396.0" cy="606.6" r="3.25"/>
<circle class="n" cx="330.9" cy="617.2" r="3.25"/>
<circle class="n" cx="456.0" cy="615.6" r="3.25"/>
<circle class="n" cx="361.7" cy="593.9" r="3.25"/>
<circle class="n" cx="159.3" cy="607.5" r="3.25"/>
<circle class="n" cx="285.9" cy="617.9" r="3.25"/>
<circle class="n" cx="189.7" cy="597.7" r="3.25"/>
<circle class="n" cx="411.4" cy="609.2" r="3.25"/>
<circle class="n" cx="359.5" cy="615.7" r="3.25"/>
<circle class="n" cx="312.2" cy="596.4" r="3.25"/>
<circle class="n" cx="378.9" cy="599.3" r="3.25"/>
<circle class="l" cx="364.7" cy="595.8" r="3.25"/>
<circle class="n" cx="116.5" cy="608.3" r="3.25"/>
<circle class="n" cx="121.8" cy="606.5" r="3.25"/>
<circle class="n" cx="206.1" cy="578.7" r="3.25"/>
<circle class="l" cx="444.5" cy="605.7" r="3.25"/>
<circle class="n" cx="196.1" cy="613.1" r="3.25"/>
<circle class="n" cx="275.7" cy="617.5" r="3.25"/>
<circle class="n" cx="217.1" cy="586.9" r="3.25"/>
<circle class="n" cx="420.0" cy="609.9" r="3.25"/>
<circle class="g" cx="378.3" cy="604.8" r="3.25"/>
<circle class="n" cx="187.5" cy="617.3" r="3.25"/>
<circle class="n" cx="168.9" cy="600.0" r="3.25"/>
<circle class="n" cx="346.0" cy="617.9" r="3.25"/>
<circle class="n" cx="357.9" cy="590.7" r="3.25"/>
<circle class="n" cx="287.7" cy="582.0" r="3.25"/>
<circle class="n" cx="120.3" cy="614.2" r="3.25"/>
<circle class="n" cx="151.1" cy="608.7" r="3.25"/>
<circle class="n" cx="455.7" cy="616.8" r="3.25"/>
<circle class="n" cx="219.3" cy="608.1" r="3.25"/>
<circle class="n" cx="253.9" cy="595.6" r="3.25"/>
<circle class="n" cx="183.4" cy="581.3" r="3.25"/>
<circle class="n" cx="436.0" cy="618.0" r="3.25"/>
<circle class="n" cx="375.4" cy="616.8" r="3.25"/>
<circle class="n" cx="215.1" cy="580.7" r="3.25"/>
<circle class="n" cx="311.6" cy="607.4" r="3.25"/>
<circle class="l" cx="435.9" cy="602.1" r="3.25"/>
<circle class="n" cx="469.3" cy="603.7" r="3.25"/>
<circle class="n" cx="164.1" cy="614.5" r="3.25"/>
<circle class="n" cx="351.8" cy="593.8" r="3.25"/>
<circle class="n" cx="305.2" cy="616.6" r="3.25"/>
<circle class="n" cx="221.4" cy="605.6" r="3.25"/>
<circle class="n" cx="142.4" cy="609.9" r="3.25"/>
<circle class="n" cx="337.7" cy="591.7" r="3.25"/>
<circle class="n" cx="179.1" cy="603.3" r="3.25"/>
<circle class="n" cx="89.1" cy="606.2" r="3.25"/>
<circle class="n" cx="197.3" cy="574.1" r="3.25"/>
<circle class="g" cx="446.6" cy="615.0" r="3.25"/>
<circle class="n" cx="308.2" cy="599.0" r="3.25"/>
<circle class="n" cx="492.0" cy="614.4" r="3.25"/>
<circle class="n" cx="297.2" cy="617.9" r="3.25"/>
<circle class="n" cx="265.9" cy="592.0" r="3.25"/>
<circle class="n" cx="422.4" cy="604.2" r="3.25"/>
<circle class="n" cx="394.7" cy="616.8" r="3.25"/>
<circle class="n" cx="262.7" cy="617.9" r="3.25"/>
<circle class="n" cx="301.6" cy="596.9" r="3.25"/>
<circle class="n" cx="236.5" cy="613.9" r="3.25"/>
<circle class="n" cx="444.7" cy="618.1" r="3.25"/>
<circle class="g" cx="164.7" cy="615.8" r="3.25"/>
<circle class="n" cx="107.8" cy="615.1" r="3.25"/>
<circle class="n" cx="450.1" cy="617.2" r="3.25"/>
<circle class="n" cx="323.6" cy="611.7" r="3.25"/>
<circle class="n" cx="175.7" cy="601.8" r="3.25"/>
<circle class="l" cx="437.8" cy="601.3" r="3.25"/>
<circle class="n" cx="454.1" cy="600.3" r="3.25"/>
<circle class="n" cx="213.9" cy="617.5" r="3.25"/>
<circle class="n" cx="299.2" cy="617.2" r="3.25"/>
<circle class="n" cx="90.2" cy="617.1" r="3.25"/>
<circle class="n" cx="204.6" cy="604.8" r="3.25"/>
<circle class="n" cx="166.7" cy="616.7" r="3.25"/>
<circle class="n" cx="119.1" cy="612.5" r="3.25"/>
<circle class="n" cx="422.2" cy="610.0" r="3.25"/>
<circle class="n" cx="271.5" cy="612.0" r="3.25"/>
<circle class="n" cx="189.0" cy="617.6" r="3.25"/>
<circle class="g" cx="239.2" cy="606.3" r="3.25"/>
<circle class="n" cx="427.4" cy="617.7" r="3.25"/>
<circle class="n" cx="480.9" cy="609.1" r="3.25"/>
<circle class="n" cx="459.1" cy="617.9" r="3.25"/>
<circle class="n" cx="141.4" cy="618.0" r="3.25"/>
<circle class="n" cx="372.8" cy="606.5" r="3.25"/>
<circle class="n" cx="307.2" cy="584.3" r="3.25"/>
<circle class="n" cx="465.7" cy="616.2" r="3.25"/>
<circle class="n" cx="166.2" cy="596.3" r="3.25"/>
<circle class="n" cx="418.5" cy="606.3" r="3.25"/>
<circle class="n" cx="348.2" cy="617.8" r="3.25"/>
<circle class="n" cx="237.9" cy="591.9" r="3.25"/>
<circle class="n" cx="236.6" cy="618.0" r="3.25"/>
<circle class="n" cx="449.3" cy="615.5" r="3.25"/>
<circle class="n" cx="320.7" cy="616.8" r="3.25"/>
<circle class="n" cx="151.2" cy="616.9" r="3.25"/>
<circle class="n" cx="320.9" cy="615.9" r="3.25"/>
<circle class="n" cx="134.2" cy="601.4" r="3.25"/>
<circle class="n" cx="165.1" cy="587.7" r="3.25"/>
<circle class="n" cx="389.7" cy="604.3" r="3.25"/>
<circle class="n" cx="314.4" cy="599.6" r="3.25"/>
<circle class="n" cx="487.3" cy="612.1" r="3.25"/>
<circle class="n" cx="170.2" cy="610.2" r="3.25"/>
<circle class="n" cx="502.6" cy="614.8" r="3.25"/>
<circle class="n" cx="276.2" cy="593.3" r="3.25"/>
<circle class="n" cx="489.5" cy="618.1" r="3.25"/>
<circle class="n" cx="128.4" cy="614.2" r="3.25"/>
<circle class="n" cx="174.0" cy="601.9" r="3.25"/>
<circle class="n" cx="308.3" cy="617.2" r="3.25"/>
<circle class="n" cx="299.9" cy="611.3" r="3.25"/>
<circle class="n" cx="397.5" cy="616.3" r="3.25"/>
<circle class="n" cx="197.5" cy="572.7" r="3.25"/>
<circle class="n" cx="415.3" cy="607.9" r="3.25"/>
<circle class="n" cx="480.2" cy="604.1" r="3.25"/>
<circle class="n" cx="301.3" cy="608.4" r="3.25"/>
<circle class="n" cx="472.3" cy="598.9" r="3.25"/>
<circle class="n" cx="304.2" cy="611.0" r="3.25"/>
<circle class="l" cx="362.6" cy="604.9" r="3.25"/>
<circle class="n" cx="368.4" cy="617.3" r="3.25"/>
<circle class="g" cx="395.3" cy="611.4" r="3.25"/>
<circle class="n" cx="350.3" cy="593.7" r="3.25"/>
<circle class="n" cx="347.1" cy="613.0" r="3.25"/>
<circle class="n" cx="92.2" cy="605.6" r="3.25"/>
<circle class="n" cx="175.5" cy="613.5" r="3.25"/>
<circle class="n" cx="385.6" cy="602.2" r="3.25"/>
<circle class="n" cx="230.7" cy="617.3" r="3.25"/>
<circle class="n" cx="221.1" cy="606.1" r="3.25"/>
<circle class="n" cx="483.8" cy="616.7" r="3.25"/>
<circle class="n" cx="500.6" cy="601.9" r="3.25"/>
<circle class="n" cx="173.0" cy="573.5" r="3.25"/>
<circle class="n" cx="151.4" cy="607.8" r="3.25"/>
<circle class="n" cx="185.1" cy="618.0" r="3.25"/>
<circle class="n" cx="90.5" cy="610.8" r="3.25"/>
<circle class="g" cx="165.3" cy="610.2" r="3.25"/>
<circle class="n" cx="178.1" cy="601.3" r="3.25"/>
<circle class="n" cx="161.5" cy="597.8" r="3.25"/>
<circle class="n" cx="166.3" cy="617.1" r="3.25"/>
<circle class="n" cx="410.5" cy="613.8" r="3.25"/>
<circle class="n" cx="322.4" cy="599.1" r="3.25"/>
<circle class="n" cx="361.3" cy="607.3" r="3.25"/>
<circle class="n" cx="378.1" cy="596.0" r="3.25"/>
<circle class="n" cx="308.9" cy="614.4" r="3.25"/>
<circle class="n" cx="485.1" cy="606.1" r="3.25"/>
<circle class="n" cx="113.6" cy="602.5" r="3.25"/>
<circle class="n" cx="220.9" cy="602.9" r="3.25"/>
<circle class="n" cx="250.7" cy="606.1" r="3.25"/>
<circle class="n" cx="226.4" cy="618.1" r="3.25"/>
<circle class="n" cx="153.9" cy="607.3" r="3.25"/>
<circle class="n" cx="160.3" cy="587.7" r="3.25"/>
<circle class="n" cx="228.8" cy="615.0" r="3.25"/>
<circle class="n" cx="306.1" cy="612.7" r="3.25"/>
<circle class="g" cx="446.7" cy="598.0" r="3.25"/>
<circle class="n" cx="394.3" cy="610.3" r="3.25"/>
<circle class="n" cx="240.9" cy="615.3" r="3.25"/>
<circle class="n" cx="285.5" cy="585.1" r="3.25"/>
<circle class="n" cx="395.3" cy="606.4" r="3.25"/>
<circle class="n" cx="216.7" cy="609.8" r="3.25"/>
<circle class="n" cx="174.2" cy="579.1" r="3.25"/>
<circle class="n" cx="419.8" cy="609.2" r="3.25"/>
<circle class="n" cx="398.4" cy="616.5" r="3.25"/>
<circle class="n" cx="290.6" cy="597.8" r="3.25"/>
<circle class="n" cx="478.3" cy="598.0" r="3.25"/>
<circle class="n" cx="503.6" cy="617.0" r="3.25"/>
<circle class="n" cx="134.9" cy="608.3" r="3.25"/>
<circle class="n" cx="338.5" cy="616.2" r="3.25"/>
<circle class="l" cx="476.5" cy="606.4" r="3.25"/>
<circle class="n" cx="199.4" cy="614.7" r="3.25"/>
<circle class="n" cx="167.8" cy="616.7" r="3.25"/>
<circle class="n" cx="342.4" cy="601.2" r="3.25"/>
<circle class="n" cx="205.4" cy="615.5" r="3.25"/>
<circle class="n" cx="209.2" cy="615.8" r="3.25"/>
<circle class="n" cx="174.8" cy="600.6" r="3.25"/>
<circle class="n" cx="160.0" cy="614.9" r="3.25"/>
<circle class="n" cx="324.8" cy="589.7" r="3.25"/>
<circle class="n" cx="298.1" cy="595.9" r="3.25"/>
<circle class="l" cx="378.6" cy="609.0" r="3.25"/>
<circle class="n" cx="436.5" cy="617.3" r="3.25"/>
<circle class="n" cx="368.4" cy="618.0" r="3.25"/>
<circle class="n" cx="201.5" cy="610.9" r="3.25"/>
<circle class="n" cx="188.1" cy="617.5" r="3.25"/>
<circle class="n" cx="367.0" cy="618.0" r="3.25"/>
<circle class="n" cx="131.6" cy="614.6" r="3.25"/>
<circle class="n" cx="305.0" cy="597.2" r="3.25"/>
<circle class="n" cx="236.5" cy="611.9" r="3.25"/>
<circle class="n" cx="370.0" cy="612.4" r="3.25"/>
<circle class="n" cx="410.4" cy="617.9" r="3.25"/>
<circle class="n" cx="320.9" cy="588.9" r="3.25"/>
<circle class="l" cx="487.2" cy="599.2" r="3.25"/>
<circle class="n" cx="198.3" cy="596.5" r="3.25"/>
<circle class="n" cx="110.9" cy="600.3" r="3.25"/>
<circle class="n" cx="117.0" cy="611.5" r="3.25"/>
<circle class="n" cx="247.4" cy="617.9" r="3.25"/>
<circle class="n" cx="415.1" cy="618.0" r="3.25"/>
<circle class="n" cx="468.4" cy="617.0" r="3.25"/>
<circle class="n" cx="157.3" cy="612.1" r="3.25"/>
<circle class="n" cx="179.5" cy="589.0" r="3.25"/>
<circle class="n" cx="168.0" cy="605.4" r="3.25"/>
<circle class="n" cx="118.8" cy="606.1" r="3.25"/>
<circle class="n" cx="481.2" cy="605.7" r="3.25"/>
<circle class="n" cx="504.3" cy="614.6" r="3.25"/>
<circle class="n" cx="249.8" cy="608.4" r="3.25"/>
<circle class="l" cx="417.3" cy="603.1" r="3.25"/>
<circle class="n" cx="263.9" cy="618.0" r="3.25"/>
<circle class="n" cx="88.6" cy="604.6" r="3.25"/>
<circle class="n" cx="111.1" cy="599.8" r="3.25"/>
<circle class="n" cx="91.5" cy="614.8" r="3.25"/>
<circle class="n" cx="340.7" cy="592.5" r="3.25"/>
<circle class="n" cx="178.9" cy="616.6" r="3.25"/>
<circle class="l" cx="338.0" cy="609.7" r="3.25"/>
<circle class="n" cx="332.7" cy="617.5" r="3.25"/>
<circle class="n" cx="290.6" cy="612.4" r="3.25"/>
<circle class="n" cx="447.2" cy="601.3" r="3.25"/>
<circle class="n" cx="359.5" cy="617.9" r="3.25"/>
<circle class="n" cx="256.9" cy="603.3" r="3.25"/>
<circle class="l" cx="443.1" cy="600.3" r="3.25"/>
<circle class="n" cx="334.0" cy="617.0" r="3.25"/>
<circle class="n" cx="172.1" cy="588.4" r="3.25"/>
<circle class="n" cx="131.8" cy="606.5" r="3.25"/>
<circle class="n" cx="311.8" cy="601.5" r="3.25"/>
<circle class="n" cx="433.3" cy="615.6" r="3.25"/>
<circle class="n" cx="166.2" cy="602.4" r="3.25"/>
<circle class="n" cx="105.1" cy="610.9" r="3.25"/>
<circle class="n" cx="268.8" cy="616.0" r="3.25"/>
<circle class="n" cx="105.4" cy="605.2" r="3.25"/>
<circle class="n" cx="405.3" cy="605.6" r="3.25"/>
<circle class="n" cx="431.3" cy="604.2" r="3.25"/>
<circle class="n" cx="197.2" cy="590.7" r="3.25"/>
<circle class="n" cx="198.0" cy="603.0" r="3.25"/>
<circle class="n" cx="450.5" cy="608.3" r="3.25"/>
<circle class="n" cx="258.0" cy="617.6" r="3.25"/>
<circle class="n" cx="404.2" cy="618.0" r="3.25"/>
<circle class="n" cx="94.8" cy="615.1" r="3.25"/>
<circle class="n" cx="449.5" cy="616.5" r="3.25"/>
<circle class="n" cx="376.2" cy="607.3" r="3.25"/>
<circle class="n" cx="200.9" cy="617.5" r="3.25"/>
<circle class="n" cx="229.9" cy="603.9" r="3.25"/>
<circle class="n" cx="391.3" cy="603.8" r="3.25"/>
<circle class="n" cx="94.4" cy="612.9" r="3.25"/>
<circle class="n" cx="169.9" cy="609.0" r="3.25"/>
<circle class="n" cx="450.1" cy="618.1" r="3.25"/>
<circle class="n" cx="111.7" cy="614.1" r="3.25"/>
<circle class="n" cx="113.8" cy="608.0" r="3.25"/>
<circle class="l" cx="498.9" cy="607.5" r="3.25"/>
<circle class="n" cx="170.8" cy="617.9" r="3.25"/>
<circle class="n" cx="156.6" cy="596.9" r="3.25"/>
<circle class="g" cx="90.1" cy="613.7" r="3.25"/>
<circle class="g" cx="358.3" cy="617.2" r="3.25"/>
<circle class="n" cx="240.2" cy="614.0" r="3.25"/>
<circle class="n" cx="188.4" cy="587.5" r="3.25"/>
<circle class="n" cx="86.5" cy="616.5" r="3.25"/>
<circle class="n" cx="235.8" cy="591.4" r="3.25"/>
<circle class="n" cx="226.9" cy="591.3" r="3.25"/>
<circle class="n" cx="297.2" cy="607.2" r="3.25"/>
<circle class="n" cx="375.4" cy="617.5" r="3.25"/>
<circle class="n" cx="421.8" cy="611.1" r="3.25"/>
<circle class="n" cx="239.5" cy="617.8" r="3.25"/>
<circle class="n" cx="343.0" cy="617.6" r="3.25"/>
<circle class="n" cx="249.1" cy="616.9" r="3.25"/>
<circle class="n" cx="341.2" cy="613.2" r="3.25"/>
<circle class="n" cx="187.7" cy="607.6" r="3.25"/>
<circle class="n" cx="341.5" cy="594.4" r="3.25"/>
<circle class="n" cx="150.9" cy="610.4" r="3.25"/>
<circle class="n" cx="304.5" cy="608.8" r="3.25"/>
<circle class="l" cx="500.6" cy="608.6" r="3.25"/>
<circle class="n" cx="319.9" cy="597.3" r="3.25"/>
<circle class="n" cx="97.5" cy="603.1" r="3.25"/>
<circle class="n" cx="191.1" cy="591.2" r="3.25"/>
<circle class="n" cx="154.4" cy="605.1" r="3.25"/>
<circle class="n" cx="199.7" cy="615.8" r="3.25"/>
<circle class="n" cx="196.8" cy="617.8" r="3.25"/>
<circle class="n" cx="334.4" cy="604.5" r="3.25"/>
<circle class="l" cx="427.7" cy="607.7" r="3.25"/>
<circle class="n" cx="444.8" cy="606.0" r="3.25"/>
<circle class="n" cx="374.0" cy="617.4" r="3.25"/>
<circle class="n" cx="318.1" cy="605.2" r="3.25"/>
<circle class="n" cx="479.7" cy="617.2" r="3.25"/>
<circle class="n" cx="363.4" cy="605.7" r="3.25"/>
<circle class="n" cx="460.9" cy="603.2" r="3.25"/>
<circle class="n" cx="196.7" cy="579.1" r="3.25"/>
<circle class="n" cx="453.1" cy="599.4" r="3.25"/>
<circle class="g" cx="472.9" cy="605.3" r="3.25"/>
<circle class="n" cx="265.1" cy="604.9" r="3.25"/>
<circle class="n" cx="248.8" cy="604.9" r="3.25"/>
<circle class="n" cx="248.7" cy="603.0" r="3.25"/>
<circle class="n" cx="292.8" cy="604.0" r="3.25"/>
<circle class="g" cx="207.5" cy="615.8" r="3.25"/>
<circle class="n" cx="335.0" cy="594.9" r="3.25"/>
<circle class="n" cx="260.1" cy="618.0" r="3.25"/>
<circle class="n" cx="182.8" cy="617.9" r="3.25"/>
<circle class="n" cx="165.3" cy="602.1" r="3.25"/>
<circle class="n" cx="384.1" cy="611.4" r="3.25"/>
<circle class="n" cx="371.4" cy="608.1" r="3.25"/>
<circle class="g" cx="176.7" cy="611.4" r="3.25"/>
<circle class="l" cx="477.7" cy="605.8" r="3.25"/>
<circle class="n" cx="192.9" cy="614.8" r="3.25"/>
<circle class="n" cx="385.0" cy="618.1" r="3.25"/>
<circle class="n" cx="468.2" cy="617.5" r="3.25"/>
<circle class="n" cx="102.6" cy="598.9" r="3.25"/>
<circle class="n" cx="287.6" cy="613.8" r="3.25"/>
<circle class="l" cx="432.9" cy="597.2" r="3.25"/>
<circle class="n" cx="176.6" cy="613.2" r="3.25"/>
<circle class="n" cx="359.1" cy="612.4" r="3.25"/>
<circle class="n" cx="126.7" cy="613.3" r="3.25"/>
<circle class="n" cx="458.2" cy="614.6" r="3.25"/>
<circle class="n" cx="167.4" cy="607.5" r="3.25"/>
<circle class="n" cx="350.2" cy="606.1" r="3.25"/>
<circle class="g" cx="341.9" cy="614.6" r="3.25"/>
<circle class="n" cx="294.4" cy="617.9" r="3.25"/>
<circle class="n" cx="452.5" cy="617.9" r="3.25"/>
<circle class="n" cx="241.2" cy="596.7" r="3.25"/>
<circle class="n" cx="137.9" cy="601.2" r="3.25"/>
<circle class="n" cx="142.7" cy="610.9" r="3.25"/>
<circle class="n" cx="413.4" cy="614.8" r="3.25"/>
<circle class="l" cx="464.9" cy="599.9" r="3.25"/>
<circle class="n" cx="475.1" cy="610.5" r="3.25"/>
<circle class="n" cx="109.8" cy="616.8" r="3.25"/>
<circle class="n" cx="149.6" cy="617.3" r="3.25"/>
<circle class="n" cx="114.1" cy="615.3" r="3.25"/>
<circle class="n" cx="313.5" cy="589.5" r="3.25"/>
<circle class="n" cx="159.5" cy="588.4" r="3.25"/>
<circle class="g" cx="213.7" cy="600.6" r="3.25"/>
<circle class="n" cx="433.6" cy="604.4" r="3.25"/>
<circle class="n" cx="358.7" cy="600.8" r="3.25"/>
<circle class="n" cx="296.7" cy="606.6" r="3.25"/>
<circle class="n" cx="467.6" cy="610.0" r="3.25"/>
<circle class="n" cx="140.1" cy="611.7" r="3.25"/>
<circle class="n" cx="306.6" cy="605.0" r="3.25"/>
<circle class="g" cx="176.8" cy="581.9" r="3.25"/>
<circle class="n" cx="293.2" cy="605.8" r="3.25"/>
<circle class="n" cx="213.0" cy="604.1" r="3.25"/>
<circle class="n" cx="158.6" cy="601.7" r="3.25"/>
<circle class="n" cx="121.8" cy="617.8" r="3.25"/>
<circle class="n" cx="284.8" cy="582.9" r="3.25"/>
<circle class="n" cx="248.0" cy="612.8" r="3.25"/>
<circle class="n" cx="205.8" cy="595.6" r="3.25"/>
<circle class="n" cx="190.1" cy="617.7" r="3.25"/>
<circle class="g" cx="390.6" cy="607.0" r="3.25"/>
<circle class="n" cx="420.5" cy="603.1" r="3.25"/>
<circle class="n" cx="143.8" cy="618.0" r="3.25"/>
<circle class="n" cx="98.8" cy="609.4" r="3.25"/>
<circle class="n" cx="381.9" cy="603.2" r="3.25"/>
<circle class="n" cx="400.6" cy="613.5" r="3.25"/>
<circle class="n" cx="164.8" cy="595.0" r="3.25"/>
<circle class="n" cx="289.3" cy="612.4" r="3.25"/>
<circle class="l" cx="348.8" cy="593.8" r="3.25"/>
<circle class="n" cx="248.6" cy="593.0" r="3.25"/>
<circle class="n" cx="400.3" cy="616.4" r="3.25"/>
<circle class="n" cx="284.4" cy="594.2" r="3.25"/>
<circle class="n" cx="280.4" cy="600.2" r="3.25"/>
<circle class="n" cx="412.6" cy="610.4" r="3.25"/>
<circle class="g" cx="245.8" cy="602.3" r="3.25"/>
<circle class="n" cx="445.8" cy="607.6" r="3.25"/>
<circle class="n" cx="289.0" cy="614.4" r="3.25"/>
<circle class="n" cx="111.3" cy="605.9" r="3.25"/>
<circle class="n" cx="185.7" cy="612.3" r="3.25"/>
<circle class="n" cx="171.0" cy="591.3" r="3.25"/>
<circle class="n" cx="92.2" cy="604.3" r="3.25"/>
<circle class="n" cx="157.3" cy="617.8" r="3.25"/>
<circle class="n" cx="215.9" cy="605.6" r="3.25"/>
<circle class="n" cx="339.1" cy="615.5" r="3.25"/>
<circle class="n" cx="133.9" cy="616.6" r="3.25"/>
<circle class="n" cx="196.6" cy="580.6" r="3.25"/>
<circle class="n" cx="466.9" cy="617.0" r="3.25"/>
<circle class="n" cx="311.6" cy="617.1" r="3.25"/>
<circle class="n" cx="373.5" cy="616.2" r="3.25"/>
<circle class="n" cx="392.2" cy="617.7" r="3.25"/>
<circle class="n" cx="284.5" cy="615.0" r="3.25"/>
<circle class="n" cx="341.3" cy="614.5" r="3.25"/>
<circle class="n" cx="477.2" cy="617.6" r="3.25"/>
<circle class="n" cx="442.6" cy="613.6" r="3.25"/>
<circle class="n" cx="162.6" cy="617.3" r="3.25"/>
<circle class="n" cx="418.6" cy="614.8" r="3.25"/>
<circle class="n" cx="99.7" cy="617.8" r="3.25"/>
<circle class="n" cx="346.2" cy="616.4" r="3.25"/>
<circle class="n" cx="379.9" cy="611.5" r="3.25"/>
<circle class="n" cx="142.4" cy="613.7" r="3.25"/>
<circle class="n" cx="172.3" cy="599.3" r="3.25"/>
<circle class="n" cx="481.5" cy="617.6" r="3.25"/>
<circle class="n" cx="234.6" cy="617.5" r="3.25"/>
<circle class="n" cx="332.7" cy="593.6" r="3.25"/>
<circle class="n" cx="443.0" cy="617.8" r="3.25"/>
<circle class="n" cx="384.5" cy="611.7" r="3.25"/>
<circle class="l" cx="468.6" cy="603.7" r="3.25"/>
<circle class="n" cx="151.6" cy="617.5" r="3.25"/>
<circle class="n" cx="276.5" cy="589.3" r="3.25"/>
<circle class="n" cx="244.5" cy="607.8" r="3.25"/>
<circle class="n" cx="218.4" cy="616.5" r="3.25"/>
<circle class="n" cx="139.0" cy="615.4" r="3.25"/>
<circle class="n" cx="363.9" cy="610.5" r="3.25"/>
<circle class="n" cx="322.8" cy="589.3" r="3.25"/>
<circle class="n" cx="144.6" cy="608.9" r="3.25"/>
<circle class="n" cx="404.9" cy="595.6" r="3.25"/>
<circle class="n" cx="93.0" cy="606.5" r="3.25"/>
<circle class="g" cx="378.3" cy="602.9" r="3.25"/>
<circle class="n" cx="388.1" cy="612.5" r="3.25"/>
<circle class="n" cx="157.6" cy="600.1" r="3.25"/>
<circle class="n" cx="181.5" cy="601.6" r="3.25"/>
<circle class="n" cx="108.5" cy="618.1" r="3.25"/>
<circle class="n" cx="222.2" cy="614.8" r="3.25"/>
<circle class="n" cx="209.4" cy="613.7" r="3.25"/>
<circle class="n" cx="171.2" cy="603.6" r="3.25"/>
<circle class="n" cx="299.7" cy="603.0" r="3.25"/>
<circle class="n" cx="398.0" cy="617.7" r="3.25"/>
<circle class="n" cx="296.6" cy="616.6" r="3.25"/>
<circle class="n" cx="338.2" cy="590.6" r="3.25"/>
<circle class="n" cx="466.3" cy="617.6" r="3.25"/>
<circle class="n" cx="448.9" cy="609.2" r="3.25"/>
<circle class="n" cx="410.6" cy="605.2" r="3.25"/>
<circle class="n" cx="211.1" cy="617.2" r="3.25"/>
<circle class="n" cx="235.0" cy="592.5" r="3.25"/>
<circle class="n" cx="185.3" cy="609.8" r="3.25"/>
<circle class="n" cx="135.4" cy="611.2" r="3.25"/>
<circle class="n" cx="169.8" cy="588.8" r="3.25"/>
<circle class="n" cx="359.6" cy="595.6" r="3.25"/>
<circle class="n" cx="502.3" cy="613.8" r="3.25"/>
<circle class="n" cx="479.1" cy="614.8" r="3.25"/>
<circle class="n" cx="408.0" cy="612.2" r="3.25"/>
<circle class="n" cx="218.2" cy="614.6" r="3.25"/>
<circle class="n" cx="396.6" cy="613.9" r="3.25"/>
<circle class="n" cx="248.4" cy="611.1" r="3.25"/>
<circle class="n" cx="184.0" cy="606.1" r="3.25"/>
<circle class="n" cx="189.6" cy="605.5" r="3.25"/>
<circle class="n" cx="340.0" cy="615.4" r="3.25"/>
<circle class="n" cx="195.7" cy="617.1" r="3.25"/>
<circle class="n" cx="151.2" cy="609.8" r="3.25"/>
<circle class="n" cx="480.7" cy="611.2" r="3.25"/>
<circle class="n" cx="217.5" cy="597.8" r="3.25"/>
<circle class="n" cx="496.5" cy="608.1" r="3.25"/>
<circle class="n" cx="389.2" cy="617.3" r="3.25"/>
<circle class="n" cx="339.5" cy="602.6" r="3.25"/>
<circle class="n" cx="102.3" cy="614.1" r="3.25"/>
<circle class="n" cx="159.2" cy="593.1" r="3.25"/>
<circle class="n" cx="125.5" cy="617.9" r="3.25"/>
<circle class="n" cx="94.1" cy="616.1" r="3.25"/>
<circle class="n" cx="404.1" cy="617.9" r="3.25"/>
<circle class="n" cx="173.0" cy="616.1" r="3.25"/>
<circle class="n" cx="105.3" cy="606.6" r="3.25"/>
<circle class="n" cx="477.2" cy="617.0" r="3.25"/>
<circle class="n" cx="141.4" cy="612.0" r="3.25"/>
<circle class="n" cx="299.5" cy="590.5" r="3.25"/>
<circle class="n" cx="333.2" cy="609.1" r="3.25"/>
<circle class="n" cx="115.5" cy="612.8" r="3.25"/>
<circle class="n" cx="195.1" cy="608.6" r="3.25"/>
<circle class="n" cx="170.9" cy="616.4" r="3.25"/>
<circle class="g" cx="150.9" cy="602.9" r="3.25"/>
<circle class="n" cx="338.1" cy="617.6" r="3.25"/>
<circle class="n" cx="402.2" cy="612.5" r="3.25"/>
<circle class="n" cx="203.6" cy="608.6" r="3.25"/>
<circle class="n" cx="355.8" cy="615.3" r="3.25"/>
<circle class="n" cx="98.2" cy="615.2" r="3.25"/>
<circle class="n" cx="206.1" cy="608.6" r="3.25"/>
<circle class="n" cx="487.2" cy="611.0" r="3.25"/>
<circle class="n" cx="364.8" cy="609.9" r="3.25"/>
<circle class="n" cx="480.6" cy="616.5" r="3.25"/>
<circle class="n" cx="490.3" cy="610.6" r="3.25"/>
<circle class="n" cx="471.2" cy="614.8" r="3.25"/>
<circle class="n" cx="198.7" cy="600.6" r="3.25"/>
<circle class="n" cx="293.6" cy="615.1" r="3.25"/>
<circle class="n" cx="472.5" cy="617.1" r="3.25"/>
<circle class="n" cx="180.4" cy="611.5" r="3.25"/>
<circle class="n" cx="352.3" cy="610.1" r="3.25"/>
<circle class="n" cx="457.3" cy="616.3" r="3.25"/>
<circle class="n" cx="266.4" cy="615.4" r="3.25"/>
<circle class="n" cx="202.7" cy="617.6" r="3.25"/>
<circle class="n" cx="189.1" cy="592.7" r="3.25"/>
<circle class="n" cx="311.2" cy="613.1" r="3.25"/>
<circle class="n" cx="95.5" cy="603.0" r="3.25"/>
<circle class="l" cx="494.8" cy="606.3" r="3.25"/>
<circle class="n" cx="96.1" cy="613.4" r="3.25"/>
<circle class="n" cx="235.0" cy="617.5" r="3.25"/>
<circle class="n" cx="458.8" cy="616.4" r="3.25"/>
<circle class="l" cx="335.0" cy="609.2" r="3.25"/>
<circle class="n" cx="246.2" cy="598.7" r="3.25"/>
<circle class="n" cx="99.6" cy="610.2" r="3.25"/>
<circle class="n" cx="159.3" cy="598.5" r="3.25"/>
<circle class="n" cx="365.5" cy="592.9" r="3.25"/>
<circle class="l" cx="364.2" cy="599.9" r="3.25"/>
<circle class="n" cx="99.1" cy="616.5" r="3.25"/>
<circle class="n" cx="90.4" cy="618.1" r="3.25"/>
<circle class="n" cx="343.8" cy="617.0" r="3.25"/>
<circle class="n" cx="457.1" cy="614.5" r="3.25"/>
<circle class="l" cx="426.2" cy="600.4" r="3.25"/>
<circle class="n" cx="157.3" cy="612.6" r="3.25"/>
<circle class="n" cx="192.2" cy="612.9" r="3.25"/>
<circle class="n" cx="444.2" cy="604.5" r="3.25"/>
<circle class="l" cx="344.0" cy="600.1" r="3.25"/>
<circle class="n" cx="164.0" cy="600.0" r="3.25"/>
<circle class="g" cx="217.3" cy="596.3" r="3.25"/>
<circle class="n" cx="447.6" cy="617.0" r="3.25"/>
<circle class="n" cx="412.8" cy="611.9" r="3.25"/>
<circle class="n" cx="273.1" cy="590.1" r="3.25"/>
<circle class="n" cx="340.3" cy="618.0" r="3.25"/>
<circle class="n" cx="126.7" cy="615.2" r="3.25"/>
<circle class="n" cx="314.9" cy="610.7" r="3.25"/>
<circle class="n" cx="256.6" cy="610.8" r="3.25"/>
<circle class="g" cx="374.1" cy="615.8" r="3.25"/>
<circle class="l" cx="410.7" cy="595.4" r="3.25"/>
<circle class="n" cx="391.3" cy="613.7" r="3.25"/>
<circle class="n" cx="126.8" cy="611.7" r="3.25"/>
<circle class="n" cx="86.6" cy="615.1" r="3.25"/>
<circle class="n" cx="181.3" cy="609.8" r="3.25"/>
<circle class="n" cx="163.6" cy="615.0" r="3.25"/>
<circle class="n" cx="219.5" cy="618.0" r="3.25"/>
<circle class="n" cx="363.8" cy="610.2" r="3.25"/>
<circle class="n" cx="278.2" cy="605.8" r="3.25"/>
<circle class="n" cx="354.7" cy="616.1" r="3.25"/>
<circle class="n" cx="241.7" cy="603.5" r="3.25"/>
<circle class="n" cx="491.9" cy="613.8" r="3.25"/>
<circle class="n" cx="219.2" cy="589.3" r="3.25"/>
<circle class="n" cx="247.3" cy="604.0" r="3.25"/>
<circle class="n" cx="371.1" cy="593.5" r="3.25"/>
<circle class="l" cx="375.0" cy="592.4" r="3.25"/>
<circle class="n" cx="498.7" cy="613.6" r="3.25"/>
<circle class="n" cx="239.4" cy="602.8" r="3.25"/>
<circle class="n" cx="195.5" cy="582.2" r="3.25"/>
<circle class="n" cx="105.3" cy="607.5" r="3.25"/>
<circle class="l" cx="335.9" cy="603.8" r="3.25"/>
<circle class="n" cx="306.6" cy="614.1" r="3.25"/>
<circle class="n" cx="400.2" cy="615.6" r="3.25"/>
<circle class="n" cx="322.0" cy="605.3" r="3.25"/>
<circle class="n" cx="297.3" cy="617.7" r="3.25"/>
<circle class="n" cx="213.0" cy="618.1" r="3.25"/>
<circle class="n" cx="181.7" cy="615.6" r="3.25"/>
<circle class="n" cx="305.5" cy="596.1" r="3.25"/>
<circle class="n" cx="384.4" cy="614.9" r="3.25"/>
<circle class="n" cx="237.0" cy="618.1" r="3.25"/>
<circle class="n" cx="371.6" cy="601.4" r="3.25"/>
<circle class="n" cx="335.4" cy="616.0" r="3.25"/>
<circle class="n" cx="320.5" cy="599.5" r="3.25"/>
<circle class="n" cx="190.1" cy="614.3" r="3.25"/>
<circle class="n" cx="324.9" cy="617.9" r="3.25"/>
<circle class="g" cx="144.4" cy="618.0" r="3.25"/>
<circle class="n" cx="202.0" cy="607.8" r="3.25"/>
<circle class="n" cx="259.8" cy="613.3" r="3.25"/>
<circle class="n" cx="313.1" cy="605.9" r="3.25"/>
<circle class="l" cx="365.4" cy="592.3" r="3.25"/>
<circle class="n" cx="413.9" cy="604.0" r="3.25"/>
<circle class="n" cx="136.5" cy="599.3" r="3.25"/>
<circle class="n" cx="356.2" cy="616.5" r="3.25"/>
<circle class="l" cx="395.0" cy="605.1" r="3.25"/>
<circle class="n" cx="167.3" cy="616.3" r="3.25"/>
<circle class="n" cx="192.0" cy="614.5" r="3.25"/>
<circle class="n" cx="160.9" cy="607.8" r="3.25"/>
<circle class="n" cx="314.6" cy="613.3" r="3.25"/>
<circle class="n" cx="379.3" cy="593.5" r="3.25"/>
<circle class="n" cx="132.8" cy="605.9" r="3.25"/>
<circle class="n" cx="161.4" cy="605.7" r="3.25"/>
<circle class="n" cx="297.0" cy="611.6" r="3.25"/>
<circle class="n" cx="264.8" cy="608.4" r="3.25"/>
<circle class="n" cx="431.4" cy="617.5" r="3.25"/>
<circle class="n" cx="319.8" cy="603.2" r="3.25"/>
<circle class="n" cx="255.9" cy="596.6" r="3.25"/>
<circle class="n" cx="102.9" cy="615.0" r="3.25"/>
<circle class="n" cx="282.0" cy="617.0" r="3.25"/>
<circle class="n" cx="305.6" cy="616.4" r="3.25"/>
<circle class="n" cx="315.2" cy="617.9" r="3.25"/>
<circle class="n" cx="334.6" cy="601.0" r="3.25"/>
<circle class="n" cx="463.3" cy="611.6" r="3.25"/>
<circle class="n" cx="401.2" cy="615.4" r="3.25"/>
<circle class="n" cx="481.6" cy="599.7" r="3.25"/>
<circle class="n" cx="295.7" cy="618.0" r="3.25"/>
<circle class="n" cx="233.6" cy="606.6" r="3.25"/>
<circle class="n" cx="327.0" cy="602.0" r="3.25"/>
<circle class="n" cx="418.7" cy="610.7" r="3.25"/>
<circle class="n" cx="156.5" cy="605.6" r="3.25"/>
<circle class="g" cx="501.8" cy="615.7" r="3.25"/>
<circle class="n" cx="373.2" cy="593.7" r="3.25"/>
<circle class="n" cx="110.4" cy="618.1" r="3.25"/>
<circle class="n" cx="200.3" cy="613.2" r="3.25"/>
<circle class="n" cx="479.9" cy="618.1" r="3.25"/>
<circle class="n" cx="257.1" cy="616.3" r="3.25"/>
<circle class="n" cx="243.2" cy="618.0" r="3.25"/>
<circle class="n" cx="261.5" cy="601.2" r="3.25"/>
<circle class="n" cx="111.1" cy="611.4" r="3.25"/>
<circle class="n" cx="209.4" cy="617.2" r="3.25"/>
<circle class="n" cx="172.4" cy="598.0" r="3.25"/>
<circle class="n" cx="332.1" cy="617.1" r="3.25"/>
<circle class="n" cx="155.2" cy="617.6" r="3.25"/>
<circle class="n" cx="98.3" cy="603.5" r="3.25"/>
<circle class="n" cx="158.3" cy="603.8" r="3.25"/>
<circle class="n" cx="409.1" cy="614.6" r="3.25"/>
<circle class="l" cx="438.8" cy="606.2" r="3.25"/>
<circle class="n" cx="132.2" cy="615.1" r="3.25"/>
<circle class="n" cx="281.7" cy="614.4" r="3.25"/>
<circle class="n" cx="423.0" cy="618.0" r="3.25"/>
<circle class="n" cx="463.5" cy="615.2" r="3.25"/>
<circle class="n" cx="394.8" cy="617.9" r="3.25"/>
<circle class="n" cx="95.5" cy="598.9" r="3.25"/>
<circle class="n" cx="197.1" cy="592.8" r="3.25"/>
<circle class="n" cx="222.5" cy="595.8" r="3.25"/>
<circle class="l" cx="404.1" cy="608.1" r="3.25"/>
<circle class="n" cx="264.7" cy="611.0" r="3.25"/>
<circle class="n" cx="199.0" cy="617.5" r="3.25"/>
<circle class="l" cx="375.1" cy="607.0" r="3.25"/>
<circle class="n" cx="447.7" cy="616.2" r="3.25"/>
<circle class="n" cx="414.2" cy="616.0" r="3.25"/>
<circle class="n" cx="237.4" cy="611.3" r="3.25"/>
<circle class="n" cx="96.2" cy="615.6" r="3.25"/>
<circle class="n" cx="318.1" cy="591.6" r="3.25"/>
<circle class="n" cx="233.3" cy="607.2" r="3.25"/>
<circle class="n" cx="132.6" cy="618.1" r="3.25"/>
<circle class="n" cx="94.7" cy="613.9" r="3.25"/>
<circle class="n" cx="210.0" cy="611.8" r="3.25"/>
<circle class="n" cx="454.6" cy="612.3" r="3.25"/>
<circle class="n" cx="375.9" cy="602.0" r="3.25"/>
<circle class="l" cx="373.1" cy="601.0" r="3.25"/>
<circle class="n" cx="172.1" cy="579.7" r="3.25"/>
<circle class="n" cx="345.9" cy="607.1" r="3.25"/>
<circle class="n" cx="101.1" cy="615.2" r="3.25"/>
<circle class="n" cx="341.2" cy="610.5" r="3.25"/>
<circle class="n" cx="382.5" cy="609.4" r="3.25"/>
<circle class="n" cx="158.1" cy="618.1" r="3.25"/>
<circle class="n" cx="388.3" cy="618.0" r="3.25"/>
<circle class="n" cx="308.7" cy="613.4" r="3.25"/>
<circle class="n" cx="175.6" cy="618.0" r="3.25"/>
<circle class="g" cx="139.7" cy="601.5" r="3.25"/>
<circle class="n" cx="399.5" cy="613.0" r="3.25"/>
<circle class="n" cx="366.9" cy="611.0" r="3.25"/>
<circle class="n" cx="391.0" cy="596.5" r="3.25"/>
<circle class="n" cx="213.6" cy="617.8" r="3.25"/>
<circle class="l" cx="494.6" cy="609.8" r="3.25"/>
<circle class="n" cx="312.4" cy="589.6" r="3.25"/>
<circle class="n" cx="129.6" cy="616.9" r="3.25"/>
<circle class="n" cx="110.1" cy="614.5" r="3.25"/>
<circle class="n" cx="440.8" cy="611.1" r="3.25"/>
<circle class="n" cx="484.4" cy="617.5" r="3.25"/>
<circle class="n" cx="251.9" cy="599.6" r="3.25"/>
<circle class="n" cx="455.4" cy="614.1" r="3.25"/>
<circle class="n" cx="465.8" cy="609.3" r="3.25"/>
<circle class="n" cx="136.1" cy="616.0" r="3.25"/>
<circle class="n" cx="434.1" cy="615.4" r="3.25"/>
<circle class="n" cx="183.1" cy="614.7" r="3.25"/>
<circle class="l" cx="334.9" cy="594.5" r="3.25"/>
<circle class="g" cx="180.6" cy="616.9" r="3.25"/>
<circle class="n" cx="431.6" cy="608.9" r="3.25"/>
<circle class="n" cx="87.2" cy="607.8" r="3.25"/>
<circle class="n" cx="188.4" cy="580.0" r="3.25"/>
<circle class="n" cx="318.8" cy="600.1" r="3.25"/>
<circle class="n" cx="156.9" cy="594.3" r="3.25"/>
<circle class="n" cx="160.0" cy="595.8" r="3.25"/>
<circle class="n" cx="314.4" cy="588.8" r="3.25"/>
<circle class="n" cx="214.6" cy="605.9" r="3.25"/>
<circle class="n" cx="272.4" cy="597.0" r="3.25"/>
<circle class="n" cx="204.9" cy="615.8" r="3.25"/>
<circle class="n" cx="170.8" cy="611.7" r="3.25"/>
<circle class="n" cx="384.6" cy="607.8" r="3.25"/>
<circle class="n" cx="256.7" cy="617.3" r="3.25"/>
<circle class="n" cx="492.2" cy="616.6" r="3.25"/>
<circle class="n" cx="418.3" cy="599.4" r="3.25"/>
<circle class="g" cx="136.3" cy="613.0" r="3.25"/>
<circle class="n" cx="217.8" cy="611.2" r="3.25"/>
<circle class="n" cx="189.6" cy="608.5" r="3.25"/>
<circle class="n" cx="129.6" cy="605.4" r="3.25"/>
<circle class="n" cx="155.0" cy="607.5" r="3.25"/>
<circle class="n" cx="192.8" cy="603.9" r="3.25"/>
<circle class="n" cx="182.2" cy="604.2" r="3.25"/>
<circle class="n" cx="309.0" cy="601.6" r="3.25"/>
<circle class="n" cx="106.6" cy="618.0" r="3.25"/>
<circle class="n" cx="358.8" cy="615.6" r="3.25"/>
<circle class="n" cx="204.2" cy="608.7" r="3.25"/>
<circle class="n" cx="142.4" cy="606.0" r="3.25"/>
<circle class="n" cx="228.7" cy="610.4" r="3.25"/>
<circle class="n" cx="340.2" cy="593.0" r="3.25"/>
<circle class="g" cx="192.4" cy="604.4" r="3.25"/>
<circle class="n" cx="342.0" cy="610.3" r="3.25"/>
<circle class="n" cx="313.3" cy="616.2" r="3.25"/>
<circle class="n" cx="114.2" cy="604.3" r="3.25"/>
<circle class="n" cx="481.0" cy="602.5" r="3.25"/>
<circle class="n" cx="387.2" cy="598.7" r="3.25"/>
<circle class="n" cx="190.8" cy="593.7" r="3.25"/>
<circle class="n" cx="484.4" cy="617.2" r="3.25"/>
<circle class="n" cx="420.1" cy="617.3" r="3.25"/>
<circle class="n" cx="369.9" cy="618.0" r="3.25"/>
<circle class="n" cx="405.8" cy="601.3" r="3.25"/>
<circle class="n" cx="272.6" cy="618.0" r="3.25"/>
<circle class="n" cx="219.5" cy="597.9" r="3.25"/>
<circle class="n" cx="144.2" cy="616.2" r="3.25"/>
<circle class="n" cx="492.1" cy="612.9" r="3.25"/>
<circle class="n" cx="345.2" cy="602.9" r="3.25"/>
<circle class="n" cx="323.1" cy="617.3" r="3.25"/>
<circle class="n" cx="436.5" cy="604.0" r="3.25"/>
<circle class="n" cx="216.2" cy="584.1" r="3.25"/>
<circle class="n" cx="300.0" cy="608.5" r="3.25"/>
<circle class="n" cx="173.6" cy="602.6" r="3.25"/>
<circle class="n" cx="168.1" cy="585.6" r="3.25"/>
<circle class="n" cx="344.5" cy="615.8" r="3.25"/>
<circle class="n" cx="487.2" cy="613.8" r="3.25"/>
<circle class="n" cx="215.2" cy="579.9" r="3.25"/>
<circle class="n" cx="415.9" cy="617.9" r="3.25"/>
<circle class="n" cx="201.9" cy="597.9" r="3.25"/>
<circle class="n" cx="363.8" cy="617.8" r="3.25"/>
<circle class="n" cx="333.6" cy="615.0" r="3.25"/>
<circle class="n" cx="286.1" cy="604.2" r="3.25"/>
<circle class="n" cx="457.4" cy="607.1" r="3.25"/>
<circle class="n" cx="474.2" cy="616.0" r="3.25"/>
<circle class="n" cx="198.7" cy="578.2" r="3.25"/>
<circle class="n" cx="247.1" cy="606.2" r="3.25"/>
<circle class="l" cx="467.1" cy="599.3" r="3.25"/>
<circle class="n" cx="282.0" cy="618.0" r="3.25"/>
<circle class="n" cx="227.5" cy="604.1" r="3.25"/>
<circle class="n" cx="297.6" cy="582.6" r="3.25"/>
<circle class="n" cx="360.2" cy="605.2" r="3.25"/>
<circle class="n" cx="385.3" cy="606.2" r="3.25"/>
<circle class="n" cx="160.5" cy="594.6" r="3.25"/>
<circle class="n" cx="384.8" cy="603.5" r="3.25"/>
<circle class="n" cx="228.0" cy="616.4" r="3.25"/>
<circle class="n" cx="439.5" cy="610.7" r="3.25"/>
<circle class="n" cx="195.6" cy="615.1" r="3.25"/>
<circle class="n" cx="136.9" cy="609.4" r="3.25"/>
<circle class="n" cx="254.8" cy="606.5" r="3.25"/>
<circle class="n" cx="287.9" cy="592.6" r="3.25"/>
<circle class="n" cx="210.4" cy="613.9" r="3.25"/>
<circle class="n" cx="171.1" cy="613.2" r="3.25"/>
<circle class="n" cx="222.8" cy="608.5" r="3.25"/>
<circle class="l" cx="424.0" cy="609.8" r="3.25"/>
<circle class="n" cx="280.0" cy="606.3" r="3.25"/>
<circle class="n" cx="94.4" cy="598.9" r="3.25"/>
<circle class="n" cx="380.1" cy="618.0" r="3.25"/>
<circle class="n" cx="120.0" cy="613.0" r="3.25"/>
<circle class="n" cx="288.0" cy="616.9" r="3.25"/>
<circle class="n" cx="183.3" cy="612.4" r="3.25"/>
<circle class="n" cx="368.1" cy="602.5" r="3.25"/>
<circle class="n" cx="108.7" cy="617.8" r="3.25"/>
<circle class="n" cx="213.7" cy="588.2" r="3.25"/>
<circle class="n" cx="467.5" cy="606.2" r="3.25"/>
<circle class="n" cx="193.3" cy="572.9" r="3.25"/>
<circle class="n" cx="160.0" cy="606.8" r="3.25"/>
<circle class="n" cx="217.8" cy="592.2" r="3.25"/>
<circle class="n" cx="453.1" cy="613.0" r="3.25"/>
<circle class="n" cx="219.0" cy="617.1" r="3.25"/>
<circle class="n" cx="274.5" cy="606.2" r="3.25"/>
<circle class="n" cx="87.8" cy="614.9" r="3.25"/>
<circle class="n" cx="187.9" cy="607.9" r="3.25"/>
<circle class="n" cx="294.5" cy="616.4" r="3.25"/>
<circle class="n" cx="469.3" cy="605.2" r="3.25"/>
<circle class="n" cx="491.3" cy="615.4" r="3.25"/>
<circle class="n" cx="160.6" cy="605.4" r="3.25"/>
<circle class="n" cx="198.9" cy="606.9" r="3.25"/>
<circle class="n" cx="476.4" cy="612.8" r="3.25"/>
<circle class="l" cx="322.7" cy="605.4" r="3.25"/>
<circle class="n" cx="398.6" cy="618.1" r="3.25"/>
<circle class="n" cx="410.9" cy="617.8" r="3.25"/>
<circle class="l" cx="321.4" cy="601.7" r="3.25"/>
<circle class="n" cx="302.2" cy="607.5" r="3.25"/>
<circle class="l" cx="424.2" cy="608.3" r="3.25"/>
<circle class="n" cx="164.0" cy="591.4" r="3.25"/>
<circle class="n" cx="238.6" cy="595.1" r="3.25"/>
<circle class="l" cx="418.8" cy="602.2" r="3.25"/>
<circle class="g" cx="477.9" cy="603.2" r="3.25"/>
<circle class="n" cx="372.7" cy="611.0" r="3.25"/>
<circle class="n" cx="154.8" cy="594.6" r="3.25"/>
<circle class="n" cx="304.2" cy="614.8" r="3.25"/>
<circle class="n" cx="324.1" cy="609.1" r="3.25"/>
<circle class="n" cx="420.6" cy="611.5" r="3.25"/>
<circle class="n" cx="304.6" cy="612.9" r="3.25"/>
<circle class="n" cx="319.1" cy="588.7" r="3.25"/>
<circle class="n" cx="173.3" cy="595.2" r="3.25"/>
<circle class="n" cx="362.0" cy="601.6" r="3.25"/>
<circle class="n" cx="293.2" cy="607.8" r="3.25"/>
<circle class="n" cx="229.6" cy="598.8" r="3.25"/>
<circle class="n" cx="177.7" cy="615.2" r="3.25"/>
<circle class="n" cx="139.5" cy="603.0" r="3.25"/>
<circle class="n" cx="235.2" cy="593.3" r="3.25"/>
<circle class="n" cx="195.7" cy="597.4" r="3.25"/>
<circle class="n" cx="126.9" cy="612.3" r="3.25"/>
<circle class="n" cx="345.1" cy="604.3" r="3.25"/>
<circle class="n" cx="265.6" cy="615.7" r="3.25"/>
<circle class="n" cx="345.8" cy="617.5" r="3.25"/>
<circle class="n" cx="421.0" cy="613.8" r="3.25"/>
<circle class="n" cx="260.9" cy="593.9" r="3.25"/>
<circle class="n" cx="278.5" cy="618.1" r="3.25"/>
<circle class="n" cx="281.2" cy="594.6" r="3.25"/>
<circle class="n" cx="197.3" cy="617.7" r="3.25"/>
<circle class="n" cx="262.7" cy="617.7" r="3.25"/>
<circle class="n" cx="200.4" cy="616.2" r="3.25"/>
<circle class="n" cx="248.5" cy="618.0" r="3.25"/>
<circle class="n" cx="172.1" cy="617.6" r="3.25"/>
<circle class="n" cx="192.0" cy="577.9" r="3.25"/>
<circle class="n" cx="84.8" cy="612.6" r="3.25"/>
<circle class="n" cx="205.4" cy="599.9" r="3.25"/>
<circle class="n" cx="188.9" cy="576.5" r="3.25"/>
<circle class="n" cx="342.2" cy="609.0" r="3.25"/>
<circle class="n" cx="298.2" cy="588.8" r="3.25"/>
<circle class="n" cx="159.0" cy="605.5" r="3.25"/>
<circle class="n" cx="179.2" cy="585.6" r="3.25"/>
<circle class="n" cx="131.2" cy="617.0" r="3.25"/>
<circle class="n" cx="381.4" cy="615.3" r="3.25"/>
<circle class="n" cx="281.2" cy="615.3" r="3.25"/>
<circle class="n" cx="294.1" cy="602.3" r="3.25"/>
<circle class="n" cx="345.0" cy="614.8" r="3.25"/>
<circle class="n" cx="322.0" cy="614.4" r="3.25"/>
<circle class="n" cx="187.3" cy="604.2" r="3.25"/>
<circle class="n" cx="345.1" cy="614.9" r="3.25"/>
<circle class="g" cx="243.2" cy="600.2" r="3.25"/>
<circle class="n" cx="502.7" cy="598.4" r="3.25"/>
<circle class="n" cx="250.1" cy="616.5" r="3.25"/>
<circle class="n" cx="191.7" cy="613.2" r="3.25"/>
<circle class="n" cx="498.6" cy="600.0" r="3.25"/>
<circle class="n" cx="453.9" cy="610.5" r="3.25"/>
<circle class="n" cx="161.9" cy="617.6" r="3.25"/>
<circle class="n" cx="198.1" cy="615.0" r="3.25"/>
<circle class="n" cx="306.2" cy="596.9" r="3.25"/>
<circle class="n" cx="478.0" cy="617.7" r="3.25"/>
<circle class="n" cx="270.0" cy="617.8" r="3.25"/>
<circle class="n" cx="205.4" cy="617.8" r="3.25"/>
<circle class="n" cx="433.4" cy="618.0" r="3.25"/>
<circle class="n" cx="140.0" cy="617.5" r="3.25"/>
<circle class="n" cx="328.0" cy="605.6" r="3.25"/>
<circle class="n" cx="432.0" cy="600.9" r="3.25"/>
<circle class="n" cx="106.9" cy="614.8" r="3.25"/>
<circle class="n" cx="457.4" cy="617.9" r="3.25"/>
<circle class="n" cx="395.5" cy="608.0" r="3.25"/>
<circle class="n" cx="131.9" cy="617.8" r="3.25"/>
<circle class="n" cx="161.8" cy="597.6" r="3.25"/>
<circle class="n" cx="174.1" cy="615.6" r="3.25"/>
<circle class="g" cx="162.6" cy="584.6" r="3.25"/>
<circle class="n" cx="267.3" cy="607.6" r="3.25"/>
<circle class="n" cx="416.7" cy="618.1" r="3.25"/>
<circle class="n" cx="487.4" cy="612.8" r="3.25"/>
<circle class="n" cx="314.5" cy="612.4" r="3.25"/>
<circle class="n" cx="351.8" cy="597.7" r="3.25"/>
<circle class="n" cx="131.0" cy="606.6" r="3.25"/>
<circle class="g" cx="155.1" cy="616.7" r="3.25"/>
<circle class="g" cx="427.8" cy="613.4" r="3.25"/>
<circle class="n" cx="89.3" cy="615.6" r="3.25"/>
<circle class="n" cx="381.6" cy="595.5" r="3.25"/>
<circle class="n" cx="268.2" cy="600.7" r="3.25"/>
<circle class="n" cx="144.8" cy="601.6" r="3.25"/>
<circle class="n" cx="89.1" cy="614.9" r="3.25"/>
<circle class="n" cx="116.8" cy="607.3" r="3.25"/>
<circle class="n" cx="245.6" cy="600.9" r="3.25"/>
<circle class="n" cx="254.8" cy="610.9" r="3.25"/>
<circle class="n" cx="351.9" cy="616.3" r="3.25"/>
<circle class="n" cx="271.6" cy="604.0" r="3.25"/>
<circle class="n" cx="481.9" cy="612.6" r="3.25"/>
<circle class="n" cx="119.3" cy="614.9" r="3.25"/>
<circle class="n" cx="230.3" cy="603.9" r="3.25"/>
<circle class="n" cx="311.5" cy="617.7" r="3.25"/>
<circle class="n" cx="337.0" cy="616.9" r="3.25"/>
<circle class="n" cx="229.9" cy="602.3" r="3.25"/>
<circle class="n" cx="174.8" cy="593.1" r="3.25"/>
<circle class="n" cx="118.6" cy="615.0" r="3.25"/>
<circle class="n" cx="211.7" cy="618.1" r="3.25"/>
<circle class="n" cx="276.2" cy="604.6" r="3.25"/>
<circle class="n" cx="345.4" cy="609.4" r="3.25"/>
<circle class="n" cx="302.9" cy="616.0" r="3.25"/>
<circle class="n" cx="328.7" cy="590.8" r="3.25"/>
<circle class="l" cx="487.1" cy="605.2" r="3.25"/>
<circle class="n" cx="220.7" cy="615.0" r="3.25"/>
<circle class="n" cx="186.1" cy="580.6" r="3.25"/>
<circle class="n" cx="393.1" cy="594.3" r="3.25"/>
<circle class="n" cx="492.0" cy="608.2" r="3.25"/>
<circle class="n" cx="375.1" cy="606.7" r="3.25"/>
<circle class="n" cx="299.3" cy="618.1" r="3.25"/>
<circle class="n" cx="240.6" cy="590.8" r="3.25"/>
<circle class="n" cx="328.2" cy="617.8" r="3.25"/>
<circle class="n" cx="154.5" cy="617.3" r="3.25"/>
<circle class="n" cx="193.5" cy="589.1" r="3.25"/>
<circle class="n" cx="321.2" cy="601.3" r="3.25"/>
<circle class="n" cx="409.3" cy="596.6" r="3.25"/>
<circle class="n" cx="340.9" cy="593.6" r="3.25"/>
<circle class="l" cx="390.0" cy="607.5" r="3.25"/>
<circle class="n" cx="491.1" cy="612.6" r="3.25"/>
<circle class="n" cx="224.3" cy="602.0" r="3.25"/>
<circle class="n" cx="320.3" cy="618.1" r="3.25"/>
<circle class="n" cx="156.0" cy="615.0" r="3.25"/>
<circle class="n" cx="86.5" cy="607.7" r="3.25"/>
<circle class="n" cx="198.7" cy="614.2" r="3.25"/>
<circle class="n" cx="323.3" cy="614.7" r="3.25"/>
<circle class="n" cx="86.0" cy="614.6" r="3.25"/>
<circle class="n" cx="214.4" cy="597.8" r="3.25"/>
<circle class="n" cx="339.4" cy="615.0" r="3.25"/>
<circle class="g" cx="193.7" cy="593.8" r="3.25"/>
<circle class="n" cx="160.2" cy="617.0" r="3.25"/>
<circle class="n" cx="178.5" cy="607.5" r="3.25"/>
<circle class="n" cx="441.4" cy="612.8" r="3.25"/>
<circle class="n" cx="303.4" cy="607.3" r="3.25"/>
<circle class="n" cx="406.8" cy="613.6" r="3.25"/>
<circle class="n" cx="325.7" cy="613.3" r="3.25"/>
<circle class="n" cx="190.1" cy="613.3" r="3.25"/>
<circle class="l" cx="405.2" cy="599.2" r="3.25"/>
<circle class="n" cx="328.6" cy="592.5" r="3.25"/>
<circle class="n" cx="204.7" cy="618.1" r="3.25"/>
<circle class="n" cx="409.5" cy="618.0" r="3.25"/>
<circle class="n" cx="266.6" cy="611.1" r="3.25"/>
<circle class="n" cx="89.5" cy="608.5" r="3.25"/>
<circle class="n" cx="113.4" cy="604.6" r="3.25"/>
<circle class="n" cx="281.6" cy="589.3" r="3.25"/>
<circle class="n" cx="115.4" cy="617.9" r="3.25"/>
<circle class="n" cx="187.4" cy="592.6" r="3.25"/>
<circle class="n" cx="86.7" cy="615.4" r="3.25"/>
<circle class="n" cx="419.0" cy="596.1" r="3.25"/>
<circle class="n" cx="210.5" cy="615.8" r="3.25"/>
<circle class="n" cx="384.2" cy="614.4" r="3.25"/>
<circle class="n" cx="156.1" cy="607.3" r="3.25"/>
<circle class="n" cx="448.7" cy="617.7" r="3.25"/>
<circle class="n" cx="321.8" cy="602.7" r="3.25"/>
<circle class="l" cx="387.4" cy="594.1" r="3.25"/>
<circle class="n" cx="228.4" cy="606.7" r="3.25"/>
<circle class="n" cx="300.2" cy="588.2" r="3.25"/>
<circle class="n" cx="310.6" cy="613.2" r="3.25"/>
<circle class="n" cx="482.8" cy="615.7" r="3.25"/>
<circle class="n" cx="217.4" cy="590.3" r="3.25"/>
<circle class="n" cx="254.5" cy="593.3" r="3.25"/>
<circle class="n" cx="499.3" cy="613.5" r="3.25"/>
<circle class="n" cx="200.2" cy="616.2" r="3.25"/>
<circle class="n" cx="180.1" cy="617.4" r="3.25"/>
<circle class="g" cx="236.0" cy="606.8" r="3.25"/>
<circle class="n" cx="220.1" cy="616.5" r="3.25"/>
<circle class="n" cx="439.6" cy="600.0" r="3.25"/>
<circle class="n" cx="167.6" cy="583.2" r="3.25"/>
<circle class="n" cx="158.9" cy="611.3" r="3.25"/>
<circle class="n" cx="158.3" cy="618.0" r="3.25"/>
<circle class="n" cx="129.9" cy="609.9" r="3.25"/>
<circle class="n" cx="259.7" cy="599.1" r="3.25"/>
<circle class="l" cx="451.2" cy="602.3" r="3.25"/>
<circle class="n" cx="281.8" cy="613.9" r="3.25"/>
<circle class="n" cx="393.1" cy="615.4" r="3.25"/>
<circle class="n" cx="84.4" cy="615.2" r="3.25"/>
<circle class="n" cx="123.1" cy="614.3" r="3.25"/>
<circle class="n" cx="256.1" cy="598.7" r="3.25"/>
<circle class="n" cx="347.3" cy="603.3" r="3.25"/>
<circle class="n" cx="136.8" cy="612.2" r="3.25"/>
<circle class="n" cx="446.8" cy="609.4" r="3.25"/>
<circle class="n" cx="82.2" cy="601.6" r="3.25"/>
<circle class="n" cx="467.9" cy="604.5" r="3.25"/>
<circle class="n" cx="161.1" cy="602.1" r="3.25"/>
<circle class="n" cx="339.4" cy="612.4" r="3.25"/>
<circle class="n" cx="156.1" cy="592.6" r="3.25"/>
<circle class="n" cx="432.0" cy="616.2" r="3.25"/>
<circle class="n" cx="158.8" cy="609.4" r="3.25"/>
<circle class="g" cx="467.0" cy="601.6" r="3.25"/>
<circle class="n" cx="411.9" cy="608.7" r="3.25"/>
<circle class="n" cx="251.0" cy="611.5" r="3.25"/>
<circle class="n" cx="482.2" cy="616.9" r="3.25"/>
<circle class="n" cx="232.1" cy="617.7" r="3.25"/>
<circle class="n" cx="483.1" cy="615.0" r="3.25"/>
<circle class="n" cx="315.2" cy="607.1" r="3.25"/>
<circle class="n" cx="171.3" cy="574.3" r="3.25"/>
<circle class="n" cx="443.3" cy="615.8" r="3.25"/>
<circle class="n" cx="479.4" cy="615.6" r="3.25"/>
<circle class="n" cx="431.1" cy="608.7" r="3.25"/>
<circle class="n" cx="271.7" cy="614.6" r="3.25"/>
<circle class="n" cx="231.6" cy="594.9" r="3.25"/>
<circle class="n" cx="372.6" cy="610.2" r="3.25"/>
<circle class="n" cx="82.5" cy="618.1" r="3.25"/>
<circle class="n" cx="163.3" cy="600.8" r="3.25"/>
<circle class="n" cx="435.0" cy="617.4" r="3.25"/>
<circle class="n" cx="177.5" cy="603.6" r="3.25"/>
<circle class="n" cx="192.9" cy="594.1" r="3.25"/>
<circle class="n" cx="437.7" cy="617.5" r="3.25"/>
<circle class="n" cx="117.2" cy="610.9" r="3.25"/>
<circle class="n" cx="334.9" cy="618.0" r="3.25"/>
<circle class="n" cx="138.7" cy="600.0" r="3.25"/>
<circle class="n" cx="458.9" cy="616.5" r="3.25"/>
<circle class="n" cx="235.9" cy="615.6" r="3.25"/>
<circle class="n" cx="186.9" cy="611.4" r="3.25"/>
<circle class="n" cx="307.8" cy="610.5" r="3.25"/>
<circle class="n" cx="393.4" cy="613.7" r="3.25"/>
<circle class="n" cx="473.6" cy="618.0" r="3.25"/>
<circle class="n" cx="294.6" cy="612.4" r="3.25"/>
<circle class="n" cx="111.6" cy="615.2" r="3.25"/>
<circle class="n" cx="136.2" cy="617.2" r="3.25"/>
<circle class="n" cx="168.5" cy="613.1" r="3.25"/>
<circle class="n" cx="131.8" cy="614.1" r="3.25"/>
<circle class="g" cx="130.6" cy="612.9" r="3.25"/>
<circle class="g" cx="245.1" cy="613.1" r="3.25"/>
<circle class="n" cx="185.4" cy="616.8" r="3.25"/>
<circle class="n" cx="176.1" cy="616.8" r="3.25"/>
<circle class="l" cx="383.3" cy="605.3" r="3.25"/>
<circle class="n" cx="152.3" cy="616.9" r="3.25"/>
<circle class="n" cx="204.9" cy="591.7" r="3.25"/>
<circle class="n" cx="432.5" cy="617.5" r="3.25"/>
<circle class="n" cx="368.9" cy="593.7" r="3.25"/>
<circle class="n" cx="223.4" cy="617.1" r="3.25"/>
<circle class="n" cx="231.4" cy="614.1" r="3.25"/>
<circle class="n" cx="382.2" cy="617.1" r="3.25"/>
<circle class="n" cx="158.9" cy="613.1" r="3.25"/>
<circle class="n" cx="383.8" cy="604.1" r="3.25"/>
<circle class="n" cx="240.7" cy="616.1" r="3.25"/>
<circle class="n" cx="132.7" cy="616.9" r="3.25"/>
<circle class="n" cx="171.3" cy="594.1" r="3.25"/>
<circle class="n" cx="91.7" cy="605.3" r="3.25"/>
<circle class="n" cx="458.9" cy="605.2" r="3.25"/>
<circle class="n" cx="263.5" cy="590.8" r="3.25"/>
<circle class="n" cx="310.3" cy="598.6" r="3.25"/>
<circle class="n" cx="232.4" cy="616.1" r="3.25"/>
<circle class="n" cx="181.3" cy="614.0" r="3.25"/>
<circle class="n" cx="376.7" cy="616.0" r="3.25"/>
<circle class="n" cx="240.7" cy="616.7" r="3.25"/>
<circle class="n" cx="418.5" cy="616.0" r="3.25"/>
<circle class="n" cx="226.2" cy="611.9" r="3.25"/>
<circle class="n" cx="203.2" cy="586.3" r="3.25"/>
<circle class="n" cx="190.3" cy="592.3" r="3.25"/>
<circle class="n" cx="156.5" cy="608.8" r="3.25"/>
<circle class="n" cx="387.8" cy="596.7" r="3.25"/>
<circle class="l" cx="426.7" cy="602.1" r="3.25"/>
<circle class="n" cx="409.8" cy="617.9" r="3.25"/>
<circle class="n" cx="233.1" cy="590.5" r="3.25"/>
<circle class="n" cx="217.2" cy="616.0" r="3.25"/>
<circle class="n" cx="197.2" cy="613.7" r="3.25"/>
<circle class="n" cx="309.3" cy="606.2" r="3.25"/>
<circle class="n" cx="419.9" cy="615.3" r="3.25"/>
<circle class="n" cx="169.3" cy="583.4" r="3.25"/>
<circle class="n" cx="185.1" cy="596.7" r="3.25"/>
<circle class="n" cx="181.7" cy="581.2" r="3.25"/>
<circle class="n" cx="253.2" cy="598.0" r="3.25"/>
<circle class="n" cx="132.0" cy="611.9" r="3.25"/>
<circle class="n" cx="140.0" cy="617.9" r="3.25"/>
<circle class="n" cx="274.3" cy="592.1" r="3.25"/>
<circle class="n" cx="98.0" cy="593.4" r="3.25"/>
<circle class="n" cx="174.2" cy="568.0" r="3.25"/>
<circle class="n" cx="177.4" cy="573.8" r="3.25"/>
<circle class="n" cx="200.3" cy="567.0" r="3.25"/>
<circle class="n" cx="200.3" cy="572.3" r="3.25"/>
<circle class="n" cx="208.8" cy="573.4" r="3.25"/>
<circle class="n" cx="206.0" cy="575.5" r="3.25"/>
<circle class="n" cx="249.4" cy="586.7" r="3.25"/>
<circle class="n" cx="238.4" cy="591.3" r="3.25"/>
<circle class="n" cx="228.3" cy="589.2" r="3.25"/>
<circle class="n" cx="265.6" cy="542.5" r="3.25"/>
<circle class="n" cx="269.1" cy="563.3" r="3.25"/>
<circle class="n" cx="275.5" cy="564.7" r="3.25"/>
<circle class="n" cx="289.8" cy="561.9" r="3.25"/>
<circle class="n" cx="288.5" cy="573.3" r="3.25"/>
<circle class="n" cx="299.7" cy="575.4" r="3.25"/>
<circle class="n" cx="266.8" cy="581.4" r="3.25"/>
<circle class="n" cx="271.2" cy="590.1" r="3.25"/>
<circle class="n" cx="252.1" cy="592.7" r="3.25"/>
<circle class="n" cx="152.0" cy="586.4" r="3.25"/>
<circle class="n" cx="334.4" cy="548.1" r="3.25"/>
<circle class="n" cx="373.1" cy="547.3" r="3.25"/>
<circle class="n" cx="388.4" cy="551.5" r="3.25"/>
<circle class="n" cx="352.4" cy="553.0" r="3.25"/>
<circle class="n" cx="348.2" cy="553.0" r="3.25"/>
<circle class="n" cx="386.3" cy="577.5" r="3.25"/>
<circle class="n" cx="353.5" cy="582.8" r="3.25"/>
<circle class="n" cx="366.2" cy="581.7" r="3.25"/>
<circle class="n" cx="434.0" cy="577.5" r="3.25"/>
<circle class="n" cx="445.6" cy="582.8" r="3.25"/>
<circle class="n" cx="417.0" cy="589.8" r="3.25"/>
<circle class="n" cx="469.9" cy="574.3" r="3.25"/>
<circle class="n" cx="499.1" cy="577.1" r="3.25"/>
<circle class="n" cx="461.5" cy="589.1" r="3.25"/>
<circle class="n" cx="474.2" cy="594.4" r="3.25"/>
<circle class="g" cx="120.9" cy="587.9" r="3.25"/>
<circle class="g" cx="105.4" cy="600.6" r="3.25"/>
<circle class="g" cx="112.8" cy="599.8" r="3.25"/>
<circle class="g" cx="251.5" cy="561.3" r="3.25"/>
<circle class="g" cx="262.5" cy="579.7" r="3.25"/>
<circle class="g" cx="275.5" cy="601.3" r="3.25"/>
<circle class="g" cx="328.5" cy="587.7" r="3.25"/>
<circle class="g" cx="315.8" cy="613.5" r="3.25"/>
<circle class="g" cx="371.4" cy="617.7" r="3.25"/>
<circle class="g" cx="477.3" cy="602.9" r="3.25"/>
<circle class="l" cx="326.4" cy="593.4" r="3.25"/>
<circle class="l" cx="349.2" cy="590.2" r="3.25"/>
<circle class="l" cx="379.9" cy="595.5" r="3.25"/>
<circle class="l" cx="382.7" cy="598.2" r="3.25"/>
<circle class="l" cx="395.8" cy="582.8" r="3.25"/>
<circle class="l" cx="396.8" cy="578.6" r="3.25"/>
<circle class="l" cx="332.3" cy="613.0" r="3.25"/>
<circle class="l" cx="344.6" cy="606.1" r="3.25"/>
<circle class="l" cx="340.3" cy="606.7" r="3.25"/>
<circle class="l" cx="348.2" cy="600.8" r="3.25"/>
<circle class="l" cx="404.3" cy="584.9" r="3.25"/>
<circle class="l" cx="407.5" cy="586.0" r="3.25"/>
<circle class="l" cx="402.2" cy="592.3" r="3.25"/>
<circle class="l" cx="406.5" cy="598.7" r="3.25"/>
<circle class="l" cx="425.1" cy="583.4" r="3.25"/>
<circle class="l" cx="428.7" cy="589.1" r="3.25"/>
<circle class="l" cx="439.3" cy="586.0" r="3.25"/>
<circle class="l" cx="438.2" cy="589.1" r="3.25"/>
<circle class="l" cx="429.7" cy="597.6" r="3.25"/>
<circle class="l" cx="439.3" cy="598.7" r="3.25"/>
<circle class="l" cx="458.3" cy="589.8" r="3.25"/>
<circle class="l" cx="461.5" cy="593.4" r="3.25"/>
<circle class="l" cx="466.8" cy="594.4" r="3.25"/>
<circle class="l" cx="483.7" cy="590.2" r="3.25"/>
<circle class="l" cx="485.8" cy="595.5" r="3.25"/>
<circle class="l" cx="484.7" cy="601.8" r="3.25"/>
<circle class="l" cx="495.3" cy="596.5" r="3.25"/>
<circle class="l" cx="501.7" cy="595.5" r="3.25"/>
<circle class="l" cx="500.6" cy="601.8" r="3.25"/>
<circle class="l" cx="491.1" cy="607.1" r="3.25"/>
<circle class="l" cx="481.6" cy="606.1" r="3.25"/>
<circle class="l" cx="486.8" cy="612.4" r="3.25"/>
<circle class="l" cx="493.2" cy="614.5" r="3.25"/>
<circle class="l" cx="418.1" cy="606.1" r="3.25"/>
<circle class="l" cx="408.6" cy="612.4" r="3.25"/>
<circle class="l" cx="418.1" cy="617.3" r="3.25"/>
<circle class="l" cx="435.0" cy="609.7" r="3.25"/>
<circle class="l" cx="474.2" cy="602.9" r="3.25"/>
<circle class="l" cx="478.4" cy="601.8" r="3.25"/>
<circle class="l" cx="501.2" cy="584.9" r="3.25"/>
<circle class="e" cx="303.1" cy="545.2" r="3.25"/>
<circle class="e" cx="310.7" cy="542.4" r="3.25"/>
<circle class="e" cx="347.1" cy="555.1" r="3.25"/>
<circle class="e" cx="310.1" cy="556.2" r="3.25"/>
<circle class="e" cx="345.4" cy="564.4" r="3.25"/>
<circle class="e" cx="337.0" cy="568.0" r="3.25"/>
<circle class="e" cx="338.2" cy="576.4" r="3.25"/>
<circle class="e" cx="346.1" cy="578.6" r="3.25"/>
<circle class="e" cx="340.3" cy="582.8" r="3.25"/>
<circle class="e" cx="357.7" cy="581.3" r="3.25"/>
<circle class="e" cx="319.2" cy="581.7" r="3.25"/>
<circle class="e" cx="340.8" cy="594.0" r="3.25"/>
<circle class="e" cx="347.5" cy="594.4" r="3.25"/>
<circle class="e" cx="354.5" cy="599.7" r="3.25"/>
<circle class="e" cx="361.9" cy="597.6" r="3.25"/>
<circle class="e" cx="363.6" cy="601.8" r="3.25"/>
<circle class="e" cx="367.2" cy="607.1" r="3.25"/>
<circle class="e" cx="319.6" cy="608.8" r="3.25"/>
<circle class="e" cx="353.5" cy="601.8" r="3.25"/>
<circle class="e" cx="490.0" cy="530.8" r="3.25"/>
<circle class="e" cx="494.3" cy="541.3" r="3.25"/>
<circle class="e" cx="500.6" cy="553.0" r="3.25"/>
<circle class="e" cx="494.3" cy="564.4" r="3.25"/>
<circle class="e" cx="493.2" cy="568.6" r="3.25"/>
<circle class="e" cx="502.7" cy="581.3" r="3.25"/>
<circle class="e" cx="494.3" cy="587.0" r="3.25"/>
<circle class="e" cx="476.7" cy="589.1" r="3.25"/>
<circle class="e" cx="478.4" cy="592.3" r="3.25"/>
<circle class="e" cx="503.8" cy="613.5" r="3.25"/>
<circle class="e" cx="505.9" cy="607.1" r="3.25"/>
<circle class="o" cx="306.5" cy="532.9" r="3.25"/>
<circle class="o" cx="316.4" cy="539.2" r="3.25"/>
<circle class="o" cx="379.3" cy="532.5" r="3.25"/>
<circle class="o" cx="390.1" cy="535.6" r="3.25"/>
<circle class="o" cx="394.7" cy="535.6" r="3.25"/>
<circle class="o" cx="360.9" cy="549.8" r="3.25"/>
<circle class="o" cx="306.5" cy="553.6" r="3.25"/>
<circle class="o" cx="320.7" cy="556.2" r="3.25"/>
<circle class="o" cx="333.4" cy="557.9" r="3.25"/>
<circle class="o" cx="316.4" cy="558.3" r="3.25"/>
<circle class="o" cx="304.4" cy="559.5" r="3.25"/>
<circle class="o" cx="360.9" cy="563.8" r="3.25"/>
<circle class="o" cx="390.5" cy="561.6" r="3.25"/>
<circle class="o" cx="316.4" cy="574.3" r="3.25"/>
<circle class="o" cx="303.1" cy="581.7" r="3.25"/>
<circle class="o" cx="308.6" cy="583.4" r="3.25"/>
<circle class="o" cx="315.0" cy="582.8" r="3.25"/>
<circle class="o" cx="318.6" cy="586.4" r="3.25"/>
<circle class="o" cx="304.8" cy="589.1" r="3.25"/>
<circle class="o" cx="342.5" cy="588.1" r="3.25"/>
<circle class="o" cx="454.1" cy="522.3" r="3.25"/>
<circle class="o" cx="471.0" cy="529.7" r="3.25"/>
<circle class="o" cx="466.1" cy="541.3" r="3.25"/>
<circle class="o" cx="459.8" cy="547.7" r="3.25"/>
<circle class="o" cx="486.4" cy="545.6" r="3.25"/>
<circle class="o" cx="492.1" cy="544.5" r="3.25"/>
<circle class="o" cx="468.9" cy="557.2" r="3.25"/>
<circle class="o" cx="477.3" cy="555.1" r="3.25"/>
<circle class="o" cx="483.7" cy="557.9" r="3.25"/>
<circle class="o" cx="409.6" cy="566.5" r="3.25"/>
<circle class="o" cx="445.6" cy="568.6" r="3.25"/>
<circle class="o" cx="448.3" cy="568.6" r="3.25"/>
<circle class="o" cx="462.5" cy="572.2" r="3.25"/>
<circle class="o" cx="468.9" cy="569.5" r="3.25"/>
<circle class="o" cx="479.4" cy="559.5" r="3.25"/>
<circle class="o" cx="478.4" cy="562.7" r="3.25"/>
<circle class="o" cx="491.5" cy="570.7" r="3.25"/>
<circle class="o" cx="487.3" cy="578.6" r="3.25"/>
<circle class="o" cx="486.8" cy="584.3" r="3.25"/>
<circle class="r" cx="350.3" cy="499.0" r="3.25"/>
<circle class="r" cx="353.5" cy="501.2" r="3.25"/>
<circle class="r" cx="358.8" cy="502.2" r="3.25"/>
<circle class="r" cx="348.2" cy="505.8" r="3.25"/>
<circle class="r" cx="366.6" cy="505.0" r="3.25"/>
<circle class="r" cx="368.3" cy="507.1" r="3.25"/>
<circle class="r" cx="359.8" cy="510.7" r="3.25"/>
<circle class="r" cx="364.0" cy="516.0" r="3.25"/>
<circle class="r" cx="366.2" cy="517.7" r="3.25"/>
<circle class="r" cx="388.4" cy="505.0" r="3.25"/>
<circle class="r" cx="394.1" cy="521.3" r="3.25"/>
<circle class="r" cx="344.0" cy="529.7" r="3.25"/>
<circle class="r" cx="349.2" cy="527.6" r="3.25"/>
<circle class="r" cx="356.6" cy="528.7" r="3.25"/>
<circle class="r" cx="358.8" cy="534.6" r="3.25"/>
<circle class="r" cx="359.8" cy="537.1" r="3.25"/>
<circle class="r" cx="361.9" cy="540.9" r="3.25"/>
<circle class="r" cx="363.0" cy="543.5" r="3.25"/>
<circle class="r" cx="357.3" cy="545.2" r="3.25"/>
<circle class="r" cx="342.5" cy="546.6" r="3.25"/>
<circle class="r" cx="375.7" cy="539.7" r="3.25"/>
<circle class="r" cx="353.0" cy="557.2" r="3.25"/>
<circle class="r" cx="338.2" cy="571.6" r="3.25"/>
<circle class="r" cx="368.7" cy="599.1" r="3.25"/>
<circle class="r" cx="453.4" cy="539.2" r="3.25"/>
<circle class="r" cx="451.9" cy="543.0" r="3.25"/>
<circle class="r" cx="454.7" cy="541.3" r="3.25"/>
<circle class="r" cx="426.6" cy="571.2" r="3.25"/>
<circle class="r" cx="451.3" cy="577.1" r="3.25"/>
<circle class="r" cx="430.8" cy="584.9" r="3.25"/>
<circle class="r" cx="433.5" cy="600.3" r="3.25"/>
<circle class="r" cx="481.0" cy="558.8" r="3.25"/>
</g>
<path d="M357.5 494.2L360.9 497.6L357.5 501L354.1 497.6Z" fill="#6a3ab0" stroke="#2a1a5a" stroke-width="0.6"/>
<line x1="364.3" y1="496.9" x2="378.5" y2="496.9" stroke="#000" stroke-width="1.6"/>
<path d="M374.5 493.2L380.3 496.9L374.5 500.6" fill="none" stroke="#000" stroke-width="1.6"/>
<text x="381.3" y="500.6" font-size="12" font-weight="bold" fill="#000">rs7729269</text>
<rect x="79" y="638.8" width="428.9" height="50.8" fill="none" stroke="#6e6e6e" stroke-width="1.1"/>
<text x="81.2" y="648.2" font-size="7.7" font-style="italic" fill="#111">APC</text>
<line x1="97" y1="645.6" x2="104" y2="645.6" stroke="#000" stroke-width="0.9"/><path d="M102 643.8000000000001L105 645.6L102 647.4Z" fill="#000"/>
<line x1="81" y1="651.3" x2="91.2" y2="651.3" stroke="#1a1a6e" stroke-width="0.9"/><rect x="81" y="649.6999999999999" width="1.2" height="3.2" fill="#1a1a6e"/><rect x="83" y="649.6999999999999" width="1" height="3.2" fill="#1a1a6e"/><rect x="85" y="649.6999999999999" width="6" height="3.2" fill="#1a1a6e"/>
<text x="85" y="665" font-size="7.7" font-style="italic" fill="#111">SRP19</text>
<line x1="109" y1="662.4" x2="115.5" y2="662.4" stroke="#000" stroke-width="0.9"/><path d="M113.5 660.6L116.5 662.4L113.5 664.1999999999999Z" fill="#000"/>
<line x1="98.5" y1="668.5" x2="100.5" y2="668.5" stroke="#1a1a6e" stroke-width="0.9"/><rect x="98.5" y="666.9" width="2" height="3.2" fill="#1a1a6e"/>
<line x1="100.7" y1="679.6" x2="107" y2="679.6" stroke="#000" stroke-width="0.9"/><path d="M102.7 677.8000000000001L99.7 679.6L102.7 681.4Z" fill="#000"/>
<text x="107.5" y="682.3" font-size="7.7" font-style="italic" fill="#111">REEP5</text>
<line x1="105.7" y1="685.4" x2="128.8" y2="685.4" stroke="#1a1a6e" stroke-width="0.9"/><rect x="105.7" y="683.8" width="1.3" height="3.2" fill="#1a1a6e"/><rect x="110.3" y="683.8" width="1.2" height="3.2" fill="#1a1a6e"/><rect x="117.8" y="683.8" width="1.2" height="3.2" fill="#1a1a6e"/><rect x="127.4" y="683.8" width="1.3" height="3.2" fill="#1a1a6e"/>
<text x="153.2" y="648.3" font-size="7.7" font-style="italic" fill="#111">DCP2</text>
<line x1="174.5" y1="645.6" x2="180.5" y2="645.6" stroke="#000" stroke-width="0.9"/><path d="M178.5 643.8000000000001L181.5 645.6L178.5 647.4Z" fill="#000"/>
<line x1="154.5" y1="651.4" x2="177.4" y2="651.4" stroke="#1a1a6e" stroke-width="0.9"/><rect x="154.5" y="649.8" width="1" height="3.2" fill="#1a1a6e"/><rect x="157.5" y="649.8" width="1" height="3.2" fill="#1a1a6e"/><rect x="160.5" y="649.8" width="1" height="3.2" fill="#1a1a6e"/><rect x="163.5" y="649.8" width="1" height="3.2" fill="#1a1a6e"/><rect x="166" y="649.8" width="1.2" height="3.2" fill="#1a1a6e"/><rect x="168.5" y="649.8" width="1.5" height="3.2" fill="#1a1a6e"/><rect x="171" y="649.8" width="6.4" height="3.2" fill="#1a1a6e"/>
<line x1="281.2" y1="662.9" x2="287.5" y2="662.9" stroke="#000" stroke-width="0.9"/><path d="M283.2 661.1L280.2 662.9L283.2 664.6999999999999Z" fill="#000"/>
<text x="288.2" y="665.6" font-size="7.7" font-style="italic" fill="#111">MCC</text>
<line x1="177.4" y1="667.6" x2="409.1" y2="667.6" stroke="#1a1a6e" stroke-width="0.9"/><rect x="177.4" y="666.0" width="4.1" height="3.2" fill="#1a1a6e"/><rect x="188" y="666.0" width="1.2" height="3.2" fill="#1a1a6e"/><rect x="190.7" y="666.0" width="1.2" height="3.2" fill="#1a1a6e"/><rect x="193.2" y="666.0" width="1.2" height="3.2" fill="#1a1a6e"/><rect x="196.6" y="666.0" width="1.2" height="3.2" fill="#1a1a6e"/><rect x="200.1" y="666.0" width="1.2" height="3.2" fill="#1a1a6e"/><rect x="208" y="666.0" width="1.3" height="3.2" fill="#1a1a6e"/><rect x="218.4" y="666.0" width="1.3" height="3.2" fill="#1a1a6e"/><rect x="227.8" y="666.0" width="1.3" height="3.2" fill="#1a1a6e"/><rect x="237.5" y="666.0" width="1.2" height="3.2" fill="#1a1a6e"/><rect x="240.5" y="666.0" width="1.2" height="3.2" fill="#1a1a6e"/><rect x="312.2" y="666.0" width="1.2" height="3.2" fill="#1a1a6e"/><rect x="335.5" y="666.0" width="1.2" height="3.2" fill="#1a1a6e"/><rect x="356.5" y="666.0" width="1.2" height="3.2" fill="#1a1a6e"/><rect x="408.3" y="666.0" width="1.2" height="3.2" fill="#1a1a6e"/>
<line x1="363.6" y1="645.6" x2="369.5" y2="645.6" stroke="#000" stroke-width="0.9"/><path d="M365.6 643.8000000000001L362.6 645.6L365.6 647.4Z" fill="#000"/>
<text x="370" y="648.3" font-size="7.7" font-style="italic" fill="#111">TSSK1B</text>
<line x1="380.5" y1="651.3" x2="382" y2="651.3" stroke="#1a1a6e" stroke-width="0.9"/><rect x="380.5" y="649.6999999999999" width="1.5" height="3.2" fill="#1a1a6e"/>
<text x="422.7" y="648.3" font-size="7.7" font-style="italic" fill="#111">YTHDC2</text>
<line x1="453.5" y1="645.6" x2="461.9" y2="645.6" stroke="#000" stroke-width="0.9"/><path d="M459.9 643.8000000000001L462.9 645.6L459.9 647.4Z" fill="#000"/>
<line x1="420.6" y1="651.3" x2="462.9" y2="651.3" stroke="#1a1a6e" stroke-width="0.9"/><rect x="420.6" y="649.6999999999999" width="1.2" height="3.2" fill="#1a1a6e"/><rect x="424" y="649.6999999999999" width="1" height="3.2" fill="#1a1a6e"/><rect x="427" y="649.6999999999999" width="1.2" height="3.2" fill="#1a1a6e"/><rect x="430" y="649.6999999999999" width="1" height="3.2" fill="#1a1a6e"/><rect x="433" y="649.6999999999999" width="1" height="3.2" fill="#1a1a6e"/><rect x="436" y="649.6999999999999" width="1.2" height="3.2" fill="#1a1a6e"/><rect x="439" y="649.6999999999999" width="1" height="3.2" fill="#1a1a6e"/><rect x="442" y="649.6999999999999" width="1.2" height="3.2" fill="#1a1a6e"/><rect x="445" y="649.6999999999999" width="1.2" height="3.2" fill="#1a1a6e"/><rect x="448" y="649.6999999999999" width="1.2" height="3.2" fill="#1a1a6e"/><rect x="451" y="649.6999999999999" width="1" height="3.2" fill="#1a1a6e"/><rect x="454" y="649.6999999999999" width="1.2" height="3.2" fill="#1a1a6e"/><rect x="458" y="649.6999999999999" width="1.5" height="3.2" fill="#1a1a6e"/><rect x="461.5" y="649.6999999999999" width="1.4" height="3.2" fill="#1a1a6e"/>
<line x1="86.2" y1="690" x2="86.2" y2="696" stroke="#6e6e6e"/>
<text x="86.2" y="709.5" text-anchor="middle" font-size="9" fill="#222">112.2</text>
<line x1="185.1" y1="690" x2="185.1" y2="696" stroke="#6e6e6e"/>
<text x="185.1" y="709.5" text-anchor="middle" font-size="9" fill="#222">112.4</text>
<line x1="284.0" y1="690" x2="284.0" y2="696" stroke="#6e6e6e"/>
<text x="284.0" y="709.5" text-anchor="middle" font-size="9" fill="#222">112.6</text>
<line x1="383.0" y1="690" x2="383.0" y2="696" stroke="#6e6e6e"/>
<text x="383.0" y="709.5" text-anchor="middle" font-size="9" fill="#222">112.8</text>
<line x1="481.9" y1="690" x2="481.9" y2="696" stroke="#6e6e6e"/>
<text x="481.9" y="709.5" text-anchor="middle" font-size="9" fill="#222">113</text>
<text x="292.2" y="731.6" text-anchor="middle" font-size="12.6" font-weight="bold">Position on chrom 5 (Mb)</text>
</svg>
</body></html>
